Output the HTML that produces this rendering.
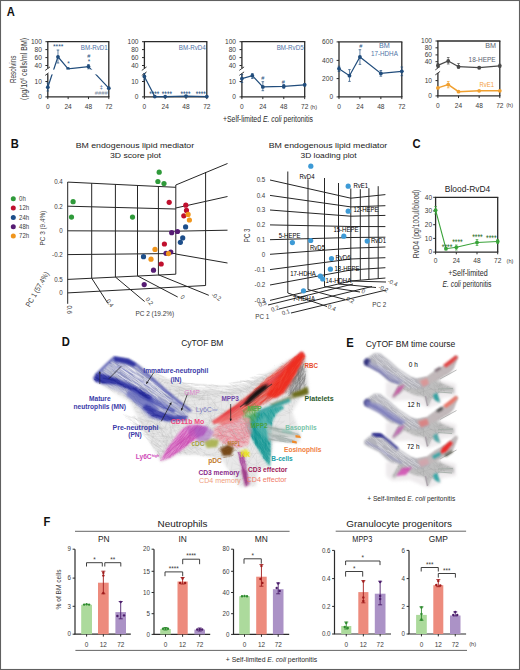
<!DOCTYPE html>
<html><head><meta charset="utf-8"><style>
html,body{margin:0;padding:0;background:#fff;}
body{width:520px;height:670px;overflow:hidden;position:relative;}
svg{position:absolute;left:0;top:0;font-family:"Liberation Sans", sans-serif;}
</style></head><body>
<svg width="520" height="670" viewBox="0 0 520 670">
<defs>
<filter id="b1" x="-20%" y="-20%" width="140%" height="140%"><feGaussianBlur stdDeviation="0.9"/></filter>
<filter id="b2" x="-20%" y="-20%" width="140%" height="140%"><feGaussianBlur stdDeviation="1.6"/></filter>
<filter id="b3" x="-20%" y="-20%" width="140%" height="140%"><feGaussianBlur stdDeviation="2.2"/></filter>
</defs>
<rect x="0" y="0" width="520" height="670" fill="#fff"/>
<text x="6.80" y="16.20" font-size="11.87" fill="#111" font-weight="bold" textLength="8.09" lengthAdjust="spacingAndGlyphs">A</text><text x="10.80" y="148.00" font-size="11.87" fill="#111" font-weight="bold" textLength="8.09" lengthAdjust="spacingAndGlyphs">B</text><text x="412.50" y="148.30" font-size="11.87" fill="#111" font-weight="bold" textLength="8.09" lengthAdjust="spacingAndGlyphs">C</text><text x="61.80" y="346.30" font-size="11.87" fill="#111" font-weight="bold" textLength="8.09" lengthAdjust="spacingAndGlyphs">D</text><text x="346.20" y="346.90" font-size="11.87" fill="#111" font-weight="bold" textLength="7.47" lengthAdjust="spacingAndGlyphs">E</text><text x="43.60" y="526.40" font-size="11.87" fill="#111" font-weight="bold" textLength="6.84" lengthAdjust="spacingAndGlyphs">F</text><line x1="47.80" y1="41.70" x2="47.80" y2="68.50" stroke="#2b2b2b" stroke-width="1.3"/><line x1="47.80" y1="73.50" x2="47.80" y2="96.90" stroke="#2b2b2b" stroke-width="1.3"/><line x1="45.20" y1="70.40" x2="50.00" y2="66.90" stroke="#2b2b2b" stroke-width="0.9"/><line x1="45.20" y1="75.40" x2="50.00" y2="71.90" stroke="#2b2b2b" stroke-width="0.9"/><line x1="47.20" y1="41.70" x2="109.40" y2="41.70" stroke="#2b2b2b" stroke-width="1.3"/><line x1="108.80" y1="41.70" x2="108.80" y2="96.90" stroke="#2b2b2b" stroke-width="1.3"/><line x1="47.20" y1="96.90" x2="109.40" y2="96.90" stroke="#2b2b2b" stroke-width="1.3"/><line x1="45.40" y1="41.70" x2="47.80" y2="41.70" stroke="#2b2b2b" stroke-width="1"/><text x="41.90" y="44.00" font-size="7.0" text-anchor="end" fill="#3a3a3a" textLength="11.01" lengthAdjust="spacingAndGlyphs">100</text><line x1="45.40" y1="49.60" x2="47.80" y2="49.60" stroke="#2b2b2b" stroke-width="1"/><text x="41.90" y="51.90" font-size="7.0" text-anchor="end" fill="#3a3a3a" textLength="7.34" lengthAdjust="spacingAndGlyphs">80</text><line x1="45.40" y1="57.60" x2="47.80" y2="57.60" stroke="#2b2b2b" stroke-width="1"/><text x="41.90" y="59.90" font-size="7.0" text-anchor="end" fill="#3a3a3a" textLength="7.34" lengthAdjust="spacingAndGlyphs">60</text><line x1="45.40" y1="65.50" x2="47.80" y2="65.50" stroke="#2b2b2b" stroke-width="1"/><text x="41.90" y="67.80" font-size="7.0" text-anchor="end" fill="#3a3a3a" textLength="7.34" lengthAdjust="spacingAndGlyphs">40</text><line x1="45.40" y1="81.50" x2="47.80" y2="81.50" stroke="#2b2b2b" stroke-width="1"/><text x="41.90" y="83.80" font-size="7.0" text-anchor="end" fill="#3a3a3a" textLength="7.34" lengthAdjust="spacingAndGlyphs">10</text><line x1="45.40" y1="96.90" x2="47.80" y2="96.90" stroke="#2b2b2b" stroke-width="1"/><text x="41.90" y="99.20" font-size="7.0" text-anchor="end" fill="#3a3a3a" textLength="3.67" lengthAdjust="spacingAndGlyphs">0</text><line x1="47.80" y1="96.90" x2="47.80" y2="99.10" stroke="#2b2b2b" stroke-width="1"/><text x="47.80" y="109.30" font-size="7.0" text-anchor="middle" fill="#3a3a3a" textLength="3.67" lengthAdjust="spacingAndGlyphs">0</text><line x1="68.13" y1="96.90" x2="68.13" y2="99.10" stroke="#2b2b2b" stroke-width="1"/><text x="68.13" y="109.30" font-size="7.0" text-anchor="middle" fill="#3a3a3a" textLength="7.34" lengthAdjust="spacingAndGlyphs">24</text><line x1="88.47" y1="96.90" x2="88.47" y2="99.10" stroke="#2b2b2b" stroke-width="1"/><text x="88.47" y="109.30" font-size="7.0" text-anchor="middle" fill="#3a3a3a" textLength="7.34" lengthAdjust="spacingAndGlyphs">48</text><line x1="108.80" y1="96.90" x2="108.80" y2="99.10" stroke="#2b2b2b" stroke-width="1"/><text x="108.80" y="109.30" font-size="7.0" text-anchor="middle" fill="#3a3a3a" textLength="7.34" lengthAdjust="spacingAndGlyphs">72</text><polyline points="47.80,87.20 57.97,56.80 68.13,68.90 88.47,66.60 108.80,88.20" stroke="#214d7c" stroke-width="1.2" fill="none" /><circle cx="47.80" cy="87.20" r="1.9" fill="#214d7c" /><circle cx="57.97" cy="56.80" r="1.9" fill="#214d7c" /><circle cx="68.13" cy="68.90" r="1.9" fill="#214d7c" /><circle cx="88.47" cy="66.60" r="1.9" fill="#214d7c" /><circle cx="108.80" cy="88.20" r="1.9" fill="#214d7c" /><line x1="47.80" y1="83.00" x2="47.80" y2="91.00" stroke="#214d7c" stroke-width="0.7"/><line x1="46.50" y1="83.00" x2="49.10" y2="83.00" stroke="#214d7c" stroke-width="0.7"/><line x1="46.50" y1="91.00" x2="49.10" y2="91.00" stroke="#214d7c" stroke-width="0.7"/><line x1="57.97" y1="50.00" x2="57.97" y2="63.00" stroke="#214d7c" stroke-width="0.7"/><line x1="56.67" y1="50.00" x2="59.27" y2="50.00" stroke="#214d7c" stroke-width="0.7"/><line x1="56.67" y1="63.00" x2="59.27" y2="63.00" stroke="#214d7c" stroke-width="0.7"/><line x1="88.47" y1="64.50" x2="88.47" y2="69.00" stroke="#214d7c" stroke-width="0.7"/><line x1="87.17" y1="64.50" x2="89.77" y2="64.50" stroke="#214d7c" stroke-width="0.7"/><line x1="87.17" y1="69.00" x2="89.77" y2="69.00" stroke="#214d7c" stroke-width="0.7"/><rect x="48.60" y="69.60" width="59.40" height="4.80" fill="#fff" /><text x="107.80" y="49.60" font-size="7.63" text-anchor="end" fill="#4f74a6" textLength="27" lengthAdjust="spacingAndGlyphs">BM-RvD1</text><text x="58.20" y="49.40" font-size="7.84" text-anchor="middle" fill="#214d7c" textLength="10.5" lengthAdjust="spacingAndGlyphs">****</text><text x="68.50" y="65.50" font-size="6.78" text-anchor="middle" fill="#214d7c" textLength="2.49" lengthAdjust="spacingAndGlyphs">*</text><text x="88.90" y="58.40" font-size="5.94" text-anchor="middle" fill="#214d7c" textLength="3.11" lengthAdjust="spacingAndGlyphs">#</text><text x="88.90" y="63.60" font-size="6.78" text-anchor="middle" fill="#214d7c" textLength="2.49" lengthAdjust="spacingAndGlyphs">*</text><text x="101.40" y="88.60" font-size="5.94" text-anchor="middle" fill="#214d7c" textLength="3.11" lengthAdjust="spacingAndGlyphs">‡</text><text x="101.20" y="95.20" font-size="5.72" text-anchor="middle" fill="#7a8aa0" textLength="13" lengthAdjust="spacingAndGlyphs">####</text><line x1="144.40" y1="41.70" x2="144.40" y2="68.50" stroke="#2b2b2b" stroke-width="1.3"/><line x1="144.40" y1="73.50" x2="144.40" y2="96.90" stroke="#2b2b2b" stroke-width="1.3"/><line x1="141.80" y1="70.40" x2="146.60" y2="66.90" stroke="#2b2b2b" stroke-width="0.9"/><line x1="141.80" y1="75.40" x2="146.60" y2="71.90" stroke="#2b2b2b" stroke-width="0.9"/><line x1="143.80" y1="41.70" x2="207.40" y2="41.70" stroke="#2b2b2b" stroke-width="1.3"/><line x1="206.80" y1="41.70" x2="206.80" y2="96.90" stroke="#2b2b2b" stroke-width="1.3"/><line x1="143.80" y1="96.90" x2="207.40" y2="96.90" stroke="#2b2b2b" stroke-width="1.3"/><line x1="142.00" y1="41.70" x2="144.40" y2="41.70" stroke="#2b2b2b" stroke-width="1"/><text x="138.50" y="44.00" font-size="7.0" text-anchor="end" fill="#3a3a3a" textLength="11.01" lengthAdjust="spacingAndGlyphs">100</text><line x1="142.00" y1="49.60" x2="144.40" y2="49.60" stroke="#2b2b2b" stroke-width="1"/><text x="138.50" y="51.90" font-size="7.0" text-anchor="end" fill="#3a3a3a" textLength="7.34" lengthAdjust="spacingAndGlyphs">80</text><line x1="142.00" y1="57.60" x2="144.40" y2="57.60" stroke="#2b2b2b" stroke-width="1"/><text x="138.50" y="59.90" font-size="7.0" text-anchor="end" fill="#3a3a3a" textLength="7.34" lengthAdjust="spacingAndGlyphs">60</text><line x1="142.00" y1="65.50" x2="144.40" y2="65.50" stroke="#2b2b2b" stroke-width="1"/><text x="138.50" y="67.80" font-size="7.0" text-anchor="end" fill="#3a3a3a" textLength="7.34" lengthAdjust="spacingAndGlyphs">40</text><line x1="142.00" y1="81.50" x2="144.40" y2="81.50" stroke="#2b2b2b" stroke-width="1"/><text x="138.50" y="83.80" font-size="7.0" text-anchor="end" fill="#3a3a3a" textLength="7.34" lengthAdjust="spacingAndGlyphs">10</text><line x1="142.00" y1="96.90" x2="144.40" y2="96.90" stroke="#2b2b2b" stroke-width="1"/><text x="138.50" y="99.20" font-size="7.0" text-anchor="end" fill="#3a3a3a" textLength="3.67" lengthAdjust="spacingAndGlyphs">0</text><line x1="144.40" y1="96.90" x2="144.40" y2="99.10" stroke="#2b2b2b" stroke-width="1"/><text x="144.40" y="109.30" font-size="7.0" text-anchor="middle" fill="#3a3a3a" textLength="3.67" lengthAdjust="spacingAndGlyphs">0</text><line x1="165.20" y1="96.90" x2="165.20" y2="99.10" stroke="#2b2b2b" stroke-width="1"/><text x="165.20" y="109.30" font-size="7.0" text-anchor="middle" fill="#3a3a3a" textLength="7.34" lengthAdjust="spacingAndGlyphs">24</text><line x1="186.00" y1="96.90" x2="186.00" y2="99.10" stroke="#2b2b2b" stroke-width="1"/><text x="186.00" y="109.30" font-size="7.0" text-anchor="middle" fill="#3a3a3a" textLength="7.34" lengthAdjust="spacingAndGlyphs">48</text><line x1="206.80" y1="96.90" x2="206.80" y2="99.10" stroke="#2b2b2b" stroke-width="1"/><text x="206.80" y="109.30" font-size="7.0" text-anchor="middle" fill="#3a3a3a" textLength="7.34" lengthAdjust="spacingAndGlyphs">72</text><polyline points="144.40,76.50 154.80,96.60 165.20,96.60 186.00,96.10 206.80,96.60" stroke="#214d7c" stroke-width="1.2" fill="none" /><circle cx="144.40" cy="76.50" r="1.9" fill="#214d7c" /><circle cx="154.80" cy="96.60" r="1.9" fill="#214d7c" /><circle cx="165.20" cy="96.60" r="1.9" fill="#214d7c" /><circle cx="186.00" cy="96.10" r="1.9" fill="#214d7c" /><circle cx="206.80" cy="96.60" r="1.9" fill="#214d7c" /><line x1="144.40" y1="73.50" x2="144.40" y2="80.00" stroke="#214d7c" stroke-width="0.7"/><line x1="143.10" y1="73.50" x2="145.70" y2="73.50" stroke="#214d7c" stroke-width="0.7"/><line x1="143.10" y1="80.00" x2="145.70" y2="80.00" stroke="#214d7c" stroke-width="0.7"/><text x="205.80" y="49.60" font-size="7.63" text-anchor="end" fill="#4f74a6" textLength="27" lengthAdjust="spacingAndGlyphs">BM-RvD4</text><text x="154.30" y="96.60" font-size="8.9" text-anchor="middle" fill="#214d7c" textLength="10.2" lengthAdjust="spacingAndGlyphs">****</text><text x="166.90" y="96.60" font-size="8.9" text-anchor="middle" fill="#214d7c" textLength="10.2" lengthAdjust="spacingAndGlyphs">****</text><text x="185.50" y="96.60" font-size="8.9" text-anchor="middle" fill="#214d7c" textLength="10.2" lengthAdjust="spacingAndGlyphs">****</text><text x="200.80" y="96.60" font-size="8.9" text-anchor="middle" fill="#214d7c" textLength="10.2" lengthAdjust="spacingAndGlyphs">****</text><line x1="241.90" y1="41.70" x2="241.90" y2="68.50" stroke="#2b2b2b" stroke-width="1.3"/><line x1="241.90" y1="73.50" x2="241.90" y2="96.90" stroke="#2b2b2b" stroke-width="1.3"/><line x1="239.30" y1="70.40" x2="244.10" y2="66.90" stroke="#2b2b2b" stroke-width="0.9"/><line x1="239.30" y1="75.40" x2="244.10" y2="71.90" stroke="#2b2b2b" stroke-width="0.9"/><line x1="241.30" y1="41.70" x2="305.30" y2="41.70" stroke="#2b2b2b" stroke-width="1.3"/><line x1="304.70" y1="41.70" x2="304.70" y2="96.90" stroke="#2b2b2b" stroke-width="1.3"/><line x1="241.30" y1="96.90" x2="305.30" y2="96.90" stroke="#2b2b2b" stroke-width="1.3"/><line x1="239.50" y1="41.70" x2="241.90" y2="41.70" stroke="#2b2b2b" stroke-width="1"/><text x="236.00" y="44.00" font-size="7.0" text-anchor="end" fill="#3a3a3a" textLength="11.01" lengthAdjust="spacingAndGlyphs">100</text><line x1="239.50" y1="49.60" x2="241.90" y2="49.60" stroke="#2b2b2b" stroke-width="1"/><text x="236.00" y="51.90" font-size="7.0" text-anchor="end" fill="#3a3a3a" textLength="7.34" lengthAdjust="spacingAndGlyphs">80</text><line x1="239.50" y1="57.60" x2="241.90" y2="57.60" stroke="#2b2b2b" stroke-width="1"/><text x="236.00" y="59.90" font-size="7.0" text-anchor="end" fill="#3a3a3a" textLength="7.34" lengthAdjust="spacingAndGlyphs">60</text><line x1="239.50" y1="65.50" x2="241.90" y2="65.50" stroke="#2b2b2b" stroke-width="1"/><text x="236.00" y="67.80" font-size="7.0" text-anchor="end" fill="#3a3a3a" textLength="7.34" lengthAdjust="spacingAndGlyphs">40</text><line x1="239.50" y1="81.50" x2="241.90" y2="81.50" stroke="#2b2b2b" stroke-width="1"/><text x="236.00" y="83.80" font-size="7.0" text-anchor="end" fill="#3a3a3a" textLength="7.34" lengthAdjust="spacingAndGlyphs">10</text><line x1="239.50" y1="96.90" x2="241.90" y2="96.90" stroke="#2b2b2b" stroke-width="1"/><text x="236.00" y="99.20" font-size="7.0" text-anchor="end" fill="#3a3a3a" textLength="3.67" lengthAdjust="spacingAndGlyphs">0</text><line x1="241.90" y1="96.90" x2="241.90" y2="99.10" stroke="#2b2b2b" stroke-width="1"/><text x="241.90" y="109.30" font-size="7.0" text-anchor="middle" fill="#3a3a3a" textLength="3.67" lengthAdjust="spacingAndGlyphs">0</text><line x1="262.83" y1="96.90" x2="262.83" y2="99.10" stroke="#2b2b2b" stroke-width="1"/><text x="262.83" y="109.30" font-size="7.0" text-anchor="middle" fill="#3a3a3a" textLength="7.34" lengthAdjust="spacingAndGlyphs">24</text><line x1="283.77" y1="96.90" x2="283.77" y2="99.10" stroke="#2b2b2b" stroke-width="1"/><text x="283.77" y="109.30" font-size="7.0" text-anchor="middle" fill="#3a3a3a" textLength="7.34" lengthAdjust="spacingAndGlyphs">48</text><line x1="304.70" y1="96.90" x2="304.70" y2="99.10" stroke="#2b2b2b" stroke-width="1"/><text x="304.70" y="109.30" font-size="7.0" text-anchor="middle" fill="#3a3a3a" textLength="7.34" lengthAdjust="spacingAndGlyphs">72</text><polyline points="241.90,78.60 252.37,75.70 262.83,86.90 283.77,86.40 304.70,84.80" stroke="#214d7c" stroke-width="1.2" fill="none" /><circle cx="241.90" cy="78.60" r="1.9" fill="#214d7c" /><circle cx="252.37" cy="75.70" r="1.9" fill="#214d7c" /><circle cx="262.83" cy="86.90" r="1.9" fill="#214d7c" /><circle cx="283.77" cy="86.40" r="1.9" fill="#214d7c" /><circle cx="304.70" cy="84.80" r="1.9" fill="#214d7c" /><line x1="241.90" y1="74.50" x2="241.90" y2="82.50" stroke="#214d7c" stroke-width="0.7"/><line x1="240.60" y1="74.50" x2="243.20" y2="74.50" stroke="#214d7c" stroke-width="0.7"/><line x1="240.60" y1="82.50" x2="243.20" y2="82.50" stroke="#214d7c" stroke-width="0.7"/><line x1="252.37" y1="73.50" x2="252.37" y2="78.50" stroke="#214d7c" stroke-width="0.7"/><line x1="251.07" y1="73.50" x2="253.67" y2="73.50" stroke="#214d7c" stroke-width="0.7"/><line x1="251.07" y1="78.50" x2="253.67" y2="78.50" stroke="#214d7c" stroke-width="0.7"/><line x1="262.83" y1="81.70" x2="262.83" y2="90.70" stroke="#214d7c" stroke-width="0.7"/><line x1="261.53" y1="81.70" x2="264.13" y2="81.70" stroke="#214d7c" stroke-width="0.7"/><line x1="261.53" y1="90.70" x2="264.13" y2="90.70" stroke="#214d7c" stroke-width="0.7"/><line x1="283.77" y1="84.50" x2="283.77" y2="88.30" stroke="#214d7c" stroke-width="0.7"/><line x1="282.47" y1="84.50" x2="285.07" y2="84.50" stroke="#214d7c" stroke-width="0.7"/><line x1="282.47" y1="88.30" x2="285.07" y2="88.30" stroke="#214d7c" stroke-width="0.7"/><line x1="304.70" y1="83.50" x2="304.70" y2="86.00" stroke="#214d7c" stroke-width="0.7"/><line x1="303.40" y1="83.50" x2="306.00" y2="83.50" stroke="#214d7c" stroke-width="0.7"/><line x1="303.40" y1="86.00" x2="306.00" y2="86.00" stroke="#214d7c" stroke-width="0.7"/><text x="303.70" y="49.60" font-size="7.63" text-anchor="end" fill="#4f74a6" textLength="27" lengthAdjust="spacingAndGlyphs">BM-RvD5</text><text x="262.70" y="79.60" font-size="5.94" text-anchor="middle" fill="#214d7c" textLength="3.11" lengthAdjust="spacingAndGlyphs">#</text><text x="283.40" y="83.50" font-size="5.94" text-anchor="middle" fill="#214d7c" textLength="3.11" lengthAdjust="spacingAndGlyphs">#</text><text x="313.60" y="108.60" font-size="5.94" text-anchor="middle" fill="#3a3a3a" textLength="6.84" lengthAdjust="spacingAndGlyphs">(h)</text><text x="223.00" y="122.40" font-size="8.9" fill="#2a2a2a" textLength="90" lengthAdjust="spacingAndGlyphs">+Self-limited <tspan font-style="italic">E. coli</tspan> peritonitis</text><line x1="339.00" y1="41.90" x2="339.00" y2="96.90" stroke="#2b2b2b" stroke-width="1.3"/><line x1="338.40" y1="41.90" x2="402.40" y2="41.90" stroke="#2b2b2b" stroke-width="1.3"/><line x1="401.80" y1="41.90" x2="401.80" y2="96.90" stroke="#2b2b2b" stroke-width="1.3"/><line x1="338.40" y1="96.90" x2="402.40" y2="96.90" stroke="#2b2b2b" stroke-width="1.3"/><line x1="336.60" y1="41.90" x2="339.00" y2="41.90" stroke="#2b2b2b" stroke-width="1"/><text x="333.10" y="44.20" font-size="7.0" text-anchor="end" fill="#3a3a3a" textLength="11.01" lengthAdjust="spacingAndGlyphs">600</text><line x1="336.60" y1="60.40" x2="339.00" y2="60.40" stroke="#2b2b2b" stroke-width="1"/><text x="333.10" y="62.70" font-size="7.0" text-anchor="end" fill="#3a3a3a" textLength="11.01" lengthAdjust="spacingAndGlyphs">400</text><line x1="336.60" y1="78.60" x2="339.00" y2="78.60" stroke="#2b2b2b" stroke-width="1"/><text x="333.10" y="80.90" font-size="7.0" text-anchor="end" fill="#3a3a3a" textLength="11.01" lengthAdjust="spacingAndGlyphs">200</text><line x1="336.60" y1="96.90" x2="339.00" y2="96.90" stroke="#2b2b2b" stroke-width="1"/><text x="333.10" y="99.20" font-size="7.0" text-anchor="end" fill="#3a3a3a" textLength="3.67" lengthAdjust="spacingAndGlyphs">0</text><line x1="339.00" y1="96.90" x2="339.00" y2="99.10" stroke="#2b2b2b" stroke-width="1"/><text x="339.00" y="109.30" font-size="7.0" text-anchor="middle" fill="#3a3a3a" textLength="3.67" lengthAdjust="spacingAndGlyphs">0</text><line x1="359.93" y1="96.90" x2="359.93" y2="99.10" stroke="#2b2b2b" stroke-width="1"/><text x="359.93" y="109.30" font-size="7.0" text-anchor="middle" fill="#3a3a3a" textLength="7.34" lengthAdjust="spacingAndGlyphs">24</text><line x1="380.87" y1="96.90" x2="380.87" y2="99.10" stroke="#2b2b2b" stroke-width="1"/><text x="380.87" y="109.30" font-size="7.0" text-anchor="middle" fill="#3a3a3a" textLength="7.34" lengthAdjust="spacingAndGlyphs">48</text><line x1="401.80" y1="96.90" x2="401.80" y2="99.10" stroke="#2b2b2b" stroke-width="1"/><text x="401.80" y="109.30" font-size="7.0" text-anchor="middle" fill="#3a3a3a" textLength="7.34" lengthAdjust="spacingAndGlyphs">72</text><polyline points="339.00,68.70 349.47,75.70 359.93,57.00 380.87,73.40 401.80,71.30" stroke="#214d7c" stroke-width="1.2" fill="none" /><circle cx="339.00" cy="68.70" r="1.9" fill="#214d7c" /><circle cx="349.47" cy="75.70" r="1.9" fill="#214d7c" /><circle cx="359.93" cy="57.00" r="1.9" fill="#214d7c" /><circle cx="380.87" cy="73.40" r="1.9" fill="#214d7c" /><circle cx="401.80" cy="71.30" r="1.9" fill="#214d7c" /><line x1="339.00" y1="66.20" x2="339.00" y2="71.50" stroke="#214d7c" stroke-width="0.7"/><line x1="337.70" y1="66.20" x2="340.30" y2="66.20" stroke="#214d7c" stroke-width="0.7"/><line x1="337.70" y1="71.50" x2="340.30" y2="71.50" stroke="#214d7c" stroke-width="0.7"/><line x1="349.47" y1="69.60" x2="349.47" y2="81.40" stroke="#214d7c" stroke-width="0.7"/><line x1="348.17" y1="69.60" x2="350.77" y2="69.60" stroke="#214d7c" stroke-width="0.7"/><line x1="348.17" y1="81.40" x2="350.77" y2="81.40" stroke="#214d7c" stroke-width="0.7"/><line x1="359.93" y1="49.70" x2="359.93" y2="64.40" stroke="#214d7c" stroke-width="0.7"/><line x1="358.63" y1="49.70" x2="361.23" y2="49.70" stroke="#214d7c" stroke-width="0.7"/><line x1="358.63" y1="64.40" x2="361.23" y2="64.40" stroke="#214d7c" stroke-width="0.7"/><line x1="380.87" y1="70.50" x2="380.87" y2="76.20" stroke="#214d7c" stroke-width="0.7"/><line x1="379.57" y1="70.50" x2="382.17" y2="70.50" stroke="#214d7c" stroke-width="0.7"/><line x1="379.57" y1="76.20" x2="382.17" y2="76.20" stroke="#214d7c" stroke-width="0.7"/><line x1="401.80" y1="67.00" x2="401.80" y2="75.70" stroke="#214d7c" stroke-width="0.7"/><line x1="400.50" y1="67.00" x2="403.10" y2="67.00" stroke="#214d7c" stroke-width="0.7"/><line x1="400.50" y1="75.70" x2="403.10" y2="75.70" stroke="#214d7c" stroke-width="0.7"/><text x="384.40" y="48.40" font-size="7.63" text-anchor="middle" fill="#4f74a6" textLength="10.8" lengthAdjust="spacingAndGlyphs">BM</text><text x="384.40" y="56.40" font-size="7.63" text-anchor="middle" fill="#4f74a6" textLength="27" lengthAdjust="spacingAndGlyphs">17-HDHA</text><text x="360.70" y="47.60" font-size="5.94" text-anchor="middle" fill="#214d7c" textLength="3.11" lengthAdjust="spacingAndGlyphs">#</text><line x1="437.90" y1="41.00" x2="437.90" y2="68.00" stroke="#2b2b2b" stroke-width="1.3"/><line x1="437.90" y1="73.00" x2="437.90" y2="95.90" stroke="#2b2b2b" stroke-width="1.3"/><line x1="435.30" y1="69.90" x2="440.10" y2="66.40" stroke="#2b2b2b" stroke-width="0.9"/><line x1="435.30" y1="74.90" x2="440.10" y2="71.40" stroke="#2b2b2b" stroke-width="0.9"/><line x1="437.30" y1="41.00" x2="500.40" y2="41.00" stroke="#2b2b2b" stroke-width="1.3"/><line x1="499.80" y1="41.00" x2="499.80" y2="95.90" stroke="#2b2b2b" stroke-width="1.3"/><line x1="437.30" y1="95.90" x2="500.40" y2="95.90" stroke="#2b2b2b" stroke-width="1.3"/><line x1="435.50" y1="41.00" x2="437.90" y2="41.00" stroke="#2b2b2b" stroke-width="1"/><text x="432.00" y="43.30" font-size="7.0" text-anchor="end" fill="#3a3a3a" textLength="11.01" lengthAdjust="spacingAndGlyphs">100</text><line x1="435.50" y1="47.80" x2="437.90" y2="47.80" stroke="#2b2b2b" stroke-width="1"/><text x="432.00" y="50.10" font-size="7.0" text-anchor="end" fill="#3a3a3a" textLength="7.34" lengthAdjust="spacingAndGlyphs">80</text><line x1="435.50" y1="54.90" x2="437.90" y2="54.90" stroke="#2b2b2b" stroke-width="1"/><text x="432.00" y="57.20" font-size="7.0" text-anchor="end" fill="#3a3a3a" textLength="7.34" lengthAdjust="spacingAndGlyphs">60</text><line x1="435.50" y1="61.70" x2="437.90" y2="61.70" stroke="#2b2b2b" stroke-width="1"/><text x="432.00" y="64.00" font-size="7.0" text-anchor="end" fill="#3a3a3a" textLength="7.34" lengthAdjust="spacingAndGlyphs">40</text><line x1="435.50" y1="80.60" x2="437.90" y2="80.60" stroke="#2b2b2b" stroke-width="1"/><text x="432.00" y="82.90" font-size="7.0" text-anchor="end" fill="#3a3a3a" textLength="7.34" lengthAdjust="spacingAndGlyphs">10</text><line x1="435.50" y1="95.90" x2="437.90" y2="95.90" stroke="#2b2b2b" stroke-width="1"/><text x="432.00" y="98.20" font-size="7.0" text-anchor="end" fill="#3a3a3a" textLength="3.67" lengthAdjust="spacingAndGlyphs">0</text><line x1="437.90" y1="95.90" x2="437.90" y2="98.10" stroke="#2b2b2b" stroke-width="1"/><text x="437.90" y="108.00" font-size="7.0" text-anchor="middle" fill="#3a3a3a" textLength="3.67" lengthAdjust="spacingAndGlyphs">0</text><line x1="458.53" y1="95.90" x2="458.53" y2="98.10" stroke="#2b2b2b" stroke-width="1"/><text x="458.53" y="108.00" font-size="7.0" text-anchor="middle" fill="#3a3a3a" textLength="7.34" lengthAdjust="spacingAndGlyphs">24</text><line x1="479.17" y1="95.90" x2="479.17" y2="98.10" stroke="#2b2b2b" stroke-width="1"/><text x="479.17" y="108.00" font-size="7.0" text-anchor="middle" fill="#3a3a3a" textLength="7.34" lengthAdjust="spacingAndGlyphs">48</text><line x1="499.80" y1="95.90" x2="499.80" y2="98.10" stroke="#2b2b2b" stroke-width="1"/><text x="499.80" y="108.00" font-size="7.0" text-anchor="middle" fill="#3a3a3a" textLength="7.34" lengthAdjust="spacingAndGlyphs">72</text><polyline points="437.90,65.40 448.22,61.00 458.53,66.70 479.17,67.70 499.80,65.80" stroke="#4a4a4a" stroke-width="1.2" fill="none" /><circle cx="437.90" cy="65.40" r="1.9" fill="#4a4a4a" /><circle cx="448.22" cy="61.00" r="1.9" fill="#4a4a4a" /><circle cx="458.53" cy="66.70" r="1.9" fill="#4a4a4a" /><circle cx="479.17" cy="67.70" r="1.9" fill="#4a4a4a" /><circle cx="499.80" cy="65.80" r="1.9" fill="#4a4a4a" /><line x1="437.90" y1="63.50" x2="437.90" y2="67.50" stroke="#4a4a4a" stroke-width="0.7"/><line x1="436.60" y1="63.50" x2="439.20" y2="63.50" stroke="#4a4a4a" stroke-width="0.7"/><line x1="436.60" y1="67.50" x2="439.20" y2="67.50" stroke="#4a4a4a" stroke-width="0.7"/><line x1="448.22" y1="57.50" x2="448.22" y2="64.00" stroke="#4a4a4a" stroke-width="0.7"/><line x1="446.92" y1="57.50" x2="449.52" y2="57.50" stroke="#4a4a4a" stroke-width="0.7"/><line x1="446.92" y1="64.00" x2="449.52" y2="64.00" stroke="#4a4a4a" stroke-width="0.7"/><line x1="458.53" y1="63.50" x2="458.53" y2="68.50" stroke="#4a4a4a" stroke-width="0.7"/><line x1="457.23" y1="63.50" x2="459.83" y2="63.50" stroke="#4a4a4a" stroke-width="0.7"/><line x1="457.23" y1="68.50" x2="459.83" y2="68.50" stroke="#4a4a4a" stroke-width="0.7"/><line x1="479.17" y1="66.50" x2="479.17" y2="69.00" stroke="#4a4a4a" stroke-width="0.7"/><line x1="477.87" y1="66.50" x2="480.47" y2="66.50" stroke="#4a4a4a" stroke-width="0.7"/><line x1="477.87" y1="69.00" x2="480.47" y2="69.00" stroke="#4a4a4a" stroke-width="0.7"/><line x1="499.80" y1="64.20" x2="499.80" y2="67.50" stroke="#4a4a4a" stroke-width="0.7"/><line x1="498.50" y1="64.20" x2="501.10" y2="64.20" stroke="#4a4a4a" stroke-width="0.7"/><line x1="498.50" y1="67.50" x2="501.10" y2="67.50" stroke="#4a4a4a" stroke-width="0.7"/><polyline points="437.90,87.90 448.22,84.60 458.53,91.70 479.17,90.80 499.80,90.80" stroke="#f0a030" stroke-width="1.4" fill="none" /><circle cx="437.90" cy="87.90" r="1.9" fill="#f0a030" /><circle cx="448.22" cy="84.60" r="1.9" fill="#f0a030" /><circle cx="458.53" cy="91.70" r="1.9" fill="#f0a030" /><circle cx="479.17" cy="90.80" r="1.9" fill="#f0a030" /><circle cx="499.80" cy="90.80" r="1.9" fill="#f0a030" /><line x1="448.22" y1="81.50" x2="448.22" y2="87.80" stroke="#f0a030" stroke-width="0.7"/><line x1="446.92" y1="81.50" x2="449.52" y2="81.50" stroke="#f0a030" stroke-width="0.7"/><line x1="446.92" y1="87.80" x2="449.52" y2="87.80" stroke="#f0a030" stroke-width="0.7"/><text x="496.00" y="48.20" font-size="7.63" text-anchor="end" fill="#5a6270" textLength="10.8" lengthAdjust="spacingAndGlyphs">BM</text><text x="495.60" y="61.60" font-size="7.63" text-anchor="end" fill="#5a6270" textLength="27" lengthAdjust="spacingAndGlyphs">18-HEPE</text><text x="494.00" y="87.20" font-size="7.63" text-anchor="end" fill="#f4a040" textLength="14.5" lengthAdjust="spacingAndGlyphs">RvE1</text><text x="509.60" y="107.30" font-size="5.94" text-anchor="middle" fill="#3a3a3a" textLength="6.84" lengthAdjust="spacingAndGlyphs">(h)</text><text x="15.60" y="69.30" font-size="8.9" text-anchor="middle" fill="#3a3a3a" textLength="27.5" lengthAdjust="spacingAndGlyphs" transform="rotate(-90 15.60 69.30)">Resolvins</text><text x="26.90" y="68.90" font-size="8.69" text-anchor="middle" fill="#3a3a3a" textLength="62" lengthAdjust="spacingAndGlyphs" transform="rotate(-90 26.90 68.90)">(pg/10<tspan font-size="5" dy="-2.8">6</tspan><tspan dy="2.8"> cells/ml BM)</tspan></text><text x="134.90" y="148.10" font-size="8.06" text-anchor="middle" fill="#222" textLength="118.5" lengthAdjust="spacingAndGlyphs">BM endogenous lipid mediator</text><text x="135.50" y="158.20" font-size="8.06" text-anchor="middle" fill="#222" textLength="51" lengthAdjust="spacingAndGlyphs">3D score plot</text><line x1="67.70" y1="182.00" x2="67.70" y2="303.80" stroke="#262626" stroke-width="1.0"/><line x1="91.70" y1="183.20" x2="91.70" y2="278.20" stroke="#262626" stroke-width="1.0"/><line x1="115.40" y1="184.30" x2="115.40" y2="277.00" stroke="#262626" stroke-width="1.0"/><line x1="137.50" y1="185.40" x2="137.50" y2="275.90" stroke="#262626" stroke-width="1.0"/><line x1="158.40" y1="186.30" x2="158.40" y2="274.60" stroke="#262626" stroke-width="1.0"/><line x1="175.80" y1="185.00" x2="175.80" y2="274.20" stroke="#262626" stroke-width="1.0"/><line x1="67.70" y1="182.10" x2="175.80" y2="187.30" stroke="#262626" stroke-width="1.0"/><line x1="67.70" y1="206.20" x2="175.80" y2="209.00" stroke="#262626" stroke-width="1.0"/><line x1="67.70" y1="230.80" x2="175.80" y2="231.20" stroke="#262626" stroke-width="1.0"/><line x1="67.70" y1="254.60" x2="175.80" y2="253.50" stroke="#262626" stroke-width="1.0"/><line x1="67.70" y1="279.40" x2="175.80" y2="274.20" stroke="#262626" stroke-width="1.0"/><line x1="175.80" y1="185.00" x2="227.50" y2="163.50" stroke="#262626" stroke-width="1.0"/><line x1="175.80" y1="208.00" x2="227.50" y2="196.50" stroke="#262626" stroke-width="1.0"/><line x1="175.80" y1="231.20" x2="227.50" y2="230.20" stroke="#262626" stroke-width="1.0"/><line x1="175.80" y1="254.00" x2="227.50" y2="263.00" stroke="#262626" stroke-width="1.0"/><line x1="205.60" y1="172.00" x2="205.60" y2="285.50" stroke="#262626" stroke-width="1.0"/><line x1="67.70" y1="292.90" x2="205.60" y2="285.50" stroke="#262626" stroke-width="1.0"/><line x1="91.70" y1="278.20" x2="108.00" y2="303.50" stroke="#262626" stroke-width="1.0"/><line x1="115.40" y1="277.00" x2="144.60" y2="301.50" stroke="#262626" stroke-width="1.0"/><line x1="137.50" y1="275.90" x2="177.70" y2="297.00" stroke="#262626" stroke-width="1.0"/><line x1="158.00" y1="274.60" x2="208.80" y2="295.30" stroke="#262626" stroke-width="1.0"/><text x="62.80" y="184.30" font-size="6.57" text-anchor="end" fill="#3a3a3a" textLength="8.62" lengthAdjust="spacingAndGlyphs">0.4</text><text x="62.80" y="208.90" font-size="6.57" text-anchor="end" fill="#3a3a3a" textLength="8.62" lengthAdjust="spacingAndGlyphs">0.2</text><text x="62.80" y="233.00" font-size="6.57" text-anchor="end" fill="#3a3a3a" textLength="3.45" lengthAdjust="spacingAndGlyphs">0</text><text x="62.80" y="257.00" font-size="6.57" text-anchor="end" fill="#3a3a3a" textLength="10.68" lengthAdjust="spacingAndGlyphs">-0.2</text><text x="62.80" y="281.50" font-size="6.57" text-anchor="end" fill="#3a3a3a" textLength="8.62" lengthAdjust="spacingAndGlyphs">0.5</text><text x="62.80" y="295.40" font-size="6.57" text-anchor="end" fill="#3a3a3a" textLength="3.45" lengthAdjust="spacingAndGlyphs">0</text><text x="66.60" y="305.40" font-size="6.36" fill="#3a3a3a" textLength="8.34" lengthAdjust="spacingAndGlyphs" transform="rotate(90 66.60 305.40)">0.6</text><text x="106.00" y="301.00" font-size="6.15" fill="#3a3a3a" textLength="8.06" lengthAdjust="spacingAndGlyphs" transform="rotate(55 106.00 301.00)">0.4</text><text x="145.20" y="299.50" font-size="6.15" fill="#3a3a3a" textLength="8.06" lengthAdjust="spacingAndGlyphs" transform="rotate(50 145.20 299.50)">0.2</text><text x="180.00" y="297.50" font-size="6.15" fill="#3a3a3a" textLength="3.23" lengthAdjust="spacingAndGlyphs" transform="rotate(45 180.00 297.50)">0</text><text x="211.00" y="296.00" font-size="6.15" fill="#3a3a3a" textLength="9.99" lengthAdjust="spacingAndGlyphs" transform="rotate(30 211.00 296.00)">-0.2</text><text x="154.80" y="316.20" font-size="7.42" text-anchor="middle" fill="#3a3a3a" textLength="38.8" lengthAdjust="spacingAndGlyphs">PC 2 (19.2%)</text><text x="45.40" y="228.10" font-size="7.63" text-anchor="middle" fill="#3a3a3a" textLength="34.6" lengthAdjust="spacingAndGlyphs" transform="rotate(-90 45.40 228.10)">PC 3 (9.4%)</text><text x="39.60" y="290.60" font-size="7.63" text-anchor="middle" fill="#3a3a3a" textLength="39" lengthAdjust="spacingAndGlyphs" transform="rotate(-60 39.60 290.60)">PC 1 (57.4%)</text><circle cx="13.30" cy="198.70" r="2.5" fill="#2f9a3a" /><text x="19.10" y="200.90" font-size="6.36" fill="#3a3a3a" textLength="6.67" lengthAdjust="spacingAndGlyphs">0h</text><circle cx="13.30" cy="208.05" r="2.5" fill="#c0102e" /><text x="19.10" y="210.25" font-size="6.36" fill="#3a3a3a" textLength="10.01" lengthAdjust="spacingAndGlyphs">12h</text><circle cx="13.30" cy="217.40" r="2.5" fill="#1d4e8a" /><text x="19.10" y="219.60" font-size="6.36" fill="#3a3a3a" textLength="10.01" lengthAdjust="spacingAndGlyphs">24h</text><circle cx="13.30" cy="226.75" r="2.5" fill="#561c73" /><text x="19.10" y="228.95" font-size="6.36" fill="#3a3a3a" textLength="10.01" lengthAdjust="spacingAndGlyphs">48h</text><circle cx="13.30" cy="236.10" r="2.5" fill="#f0951c" /><text x="19.10" y="238.30" font-size="6.36" fill="#3a3a3a" textLength="10.01" lengthAdjust="spacingAndGlyphs">72h</text><circle cx="73.10" cy="201.70" r="2.6" fill="#2f9a3a" /><circle cx="71.50" cy="217.10" r="2.6" fill="#2f9a3a" /><circle cx="132.50" cy="217.10" r="2.6" fill="#2f9a3a" /><circle cx="159.20" cy="172.20" r="2.6" fill="#2f9a3a" /><circle cx="157.90" cy="181.50" r="2.6" fill="#2f9a3a" /><circle cx="164.00" cy="183.50" r="2.6" fill="#2f9a3a" /><circle cx="169.20" cy="202.30" r="2.6" fill="#c0102e" /><circle cx="185.80" cy="205.20" r="2.6" fill="#c0102e" /><circle cx="186.50" cy="210.40" r="2.6" fill="#c0102e" /><circle cx="183.80" cy="215.80" r="2.6" fill="#c0102e" /><circle cx="188.10" cy="214.40" r="2.6" fill="#f0951c" /><circle cx="189.40" cy="220.00" r="2.6" fill="#f0951c" /><circle cx="185.60" cy="226.90" r="2.6" fill="#1d4e8a" /><circle cx="171.70" cy="232.70" r="2.6" fill="#561c73" /><circle cx="177.50" cy="231.50" r="2.6" fill="#561c73" /><circle cx="182.70" cy="237.90" r="2.6" fill="#1d4e8a" /><circle cx="180.40" cy="242.30" r="2.6" fill="#1d4e8a" /><circle cx="164.40" cy="244.00" r="2.6" fill="#c0102e" /><circle cx="155.00" cy="249.40" r="2.6" fill="#f0951c" /><circle cx="166.00" cy="253.30" r="2.6" fill="#561c73" /><circle cx="170.80" cy="252.00" r="2.6" fill="#561c73" /><circle cx="168.50" cy="253.70" r="2.6" fill="#f0951c" /><circle cx="143.50" cy="256.70" r="2.6" fill="#1d4e8a" /><circle cx="151.00" cy="259.20" r="2.6" fill="#f0951c" /><circle cx="161.20" cy="264.00" r="2.6" fill="#c0102e" /><circle cx="153.50" cy="270.20" r="2.6" fill="#561c73" /><circle cx="144.20" cy="284.60" r="2.6" fill="#561c73" /><text x="328.00" y="148.10" font-size="8.06" text-anchor="middle" fill="#222" textLength="118.5" lengthAdjust="spacingAndGlyphs">BM endogenous lipid mediator</text><text x="328.50" y="158.20" font-size="8.06" text-anchor="middle" fill="#222" textLength="56" lengthAdjust="spacingAndGlyphs">3D loading plot</text><line x1="270.00" y1="180.00" x2="350.80" y2="198.20" stroke="#262626" stroke-width="1.0"/><line x1="350.80" y1="198.20" x2="385.40" y2="194.60" stroke="#262626" stroke-width="1.0"/><line x1="270.00" y1="195.40" x2="350.80" y2="206.90" stroke="#262626" stroke-width="1.0"/><line x1="350.80" y1="206.90" x2="385.40" y2="205.70" stroke="#262626" stroke-width="1.0"/><line x1="270.00" y1="210.00" x2="350.80" y2="216.20" stroke="#262626" stroke-width="1.0"/><line x1="350.80" y1="216.20" x2="385.40" y2="215.40" stroke="#262626" stroke-width="1.0"/><line x1="270.00" y1="224.90" x2="350.80" y2="226.50" stroke="#262626" stroke-width="1.0"/><line x1="350.80" y1="226.50" x2="385.40" y2="226.60" stroke="#262626" stroke-width="1.0"/><line x1="270.00" y1="239.70" x2="350.80" y2="237.50" stroke="#262626" stroke-width="1.0"/><line x1="350.80" y1="237.50" x2="385.40" y2="237.20" stroke="#262626" stroke-width="1.0"/><line x1="270.00" y1="254.30" x2="350.80" y2="248.20" stroke="#262626" stroke-width="1.0"/><line x1="350.80" y1="248.20" x2="385.40" y2="247.00" stroke="#262626" stroke-width="1.0"/><line x1="270.00" y1="269.60" x2="350.80" y2="259.00" stroke="#262626" stroke-width="1.0"/><line x1="350.80" y1="259.00" x2="385.40" y2="257.70" stroke="#262626" stroke-width="1.0"/><line x1="270.00" y1="285.00" x2="350.80" y2="270.00" stroke="#262626" stroke-width="1.0"/><line x1="350.80" y1="270.00" x2="385.40" y2="267.70" stroke="#262626" stroke-width="1.0"/><line x1="270.00" y1="300.40" x2="350.80" y2="281.00" stroke="#262626" stroke-width="1.0"/><line x1="350.80" y1="281.00" x2="385.40" y2="278.00" stroke="#262626" stroke-width="1.0"/><text x="265.30" y="182.20" font-size="6.57" text-anchor="end" fill="#3a3a3a" textLength="8.62" lengthAdjust="spacingAndGlyphs">0.5</text><text x="265.30" y="197.60" font-size="6.57" text-anchor="end" fill="#3a3a3a" textLength="8.62" lengthAdjust="spacingAndGlyphs">0.4</text><text x="265.30" y="212.20" font-size="6.57" text-anchor="end" fill="#3a3a3a" textLength="8.62" lengthAdjust="spacingAndGlyphs">0.3</text><text x="265.30" y="227.10" font-size="6.57" text-anchor="end" fill="#3a3a3a" textLength="8.62" lengthAdjust="spacingAndGlyphs">0.2</text><text x="265.30" y="241.90" font-size="6.57" text-anchor="end" fill="#3a3a3a" textLength="8.62" lengthAdjust="spacingAndGlyphs">0.1</text><text x="265.30" y="256.50" font-size="6.57" text-anchor="end" fill="#3a3a3a" textLength="3.45" lengthAdjust="spacingAndGlyphs">0</text><text x="265.30" y="271.80" font-size="6.57" text-anchor="end" fill="#3a3a3a" textLength="10.68" lengthAdjust="spacingAndGlyphs">-0.1</text><text x="265.30" y="287.20" font-size="6.57" text-anchor="end" fill="#3a3a3a" textLength="10.68" lengthAdjust="spacingAndGlyphs">-0.2</text><text x="265.30" y="302.60" font-size="6.57" text-anchor="end" fill="#3a3a3a" textLength="10.68" lengthAdjust="spacingAndGlyphs">-0.3</text><line x1="287.80" y1="171.50" x2="287.80" y2="293.00" stroke="#262626" stroke-width="1.0"/><line x1="308.00" y1="179.20" x2="308.00" y2="289.50" stroke="#262626" stroke-width="1.0"/><line x1="324.50" y1="178.00" x2="324.50" y2="286.50" stroke="#262626" stroke-width="1.0"/><line x1="338.50" y1="183.00" x2="338.50" y2="284.00" stroke="#262626" stroke-width="1.0"/><line x1="350.80" y1="188.50" x2="350.80" y2="281.00" stroke="#262626" stroke-width="1.0"/><line x1="360.30" y1="189.20" x2="360.30" y2="280.00" stroke="#262626" stroke-width="1.0"/><line x1="368.90" y1="188.20" x2="368.90" y2="279.00" stroke="#262626" stroke-width="1.0"/><line x1="378.20" y1="186.20" x2="378.20" y2="278.50" stroke="#262626" stroke-width="1.0"/><line x1="268.00" y1="305.00" x2="353.00" y2="284.00" stroke="#262626" stroke-width="1.0"/><line x1="279.00" y1="309.00" x2="372.00" y2="286.50" stroke="#262626" stroke-width="1.0"/><line x1="291.00" y1="313.00" x2="386.00" y2="290.00" stroke="#262626" stroke-width="1.0"/><line x1="287.80" y1="293.00" x2="327.00" y2="306.50" stroke="#262626" stroke-width="1.0"/><line x1="308.00" y1="289.50" x2="345.00" y2="299.50" stroke="#262626" stroke-width="1.0"/><line x1="324.50" y1="286.50" x2="360.00" y2="292.00" stroke="#262626" stroke-width="1.0"/><line x1="338.50" y1="284.00" x2="376.00" y2="287.50" stroke="#262626" stroke-width="1.0"/><line x1="350.80" y1="281.00" x2="386.00" y2="282.00" stroke="#262626" stroke-width="1.0"/><circle cx="310.80" cy="166.20" r="2.6" fill="#3d9ad6" /><text x="307.00" y="179.00" font-size="6.36" text-anchor="middle" textLength="15.0" lengthAdjust="spacingAndGlyphs">RvD4</text><circle cx="348.20" cy="186.20" r="2.6" fill="#3d9ad6" /><text x="353.50" y="188.30" font-size="6.36" textLength="14.67" lengthAdjust="spacingAndGlyphs">RvE1</text><circle cx="348.20" cy="211.20" r="2.6" fill="#3d9ad6" /><text x="353.50" y="211.90" font-size="6.36" textLength="25.01" lengthAdjust="spacingAndGlyphs">12-HEPE</text><circle cx="343.80" cy="236.20" r="2.6" fill="#3d9ad6" /><text x="345.90" y="231.90" font-size="6.36" text-anchor="middle" textLength="25.01" lengthAdjust="spacingAndGlyphs">15-HEPE</text><circle cx="367.20" cy="241.10" r="2.6" fill="#3d9ad6" /><text x="371.00" y="243.20" font-size="6.36" textLength="15.0" lengthAdjust="spacingAndGlyphs">RvD1</text><circle cx="292.40" cy="242.60" r="2.6" fill="#3d9ad6" /><text x="289.60" y="237.50" font-size="6.36" text-anchor="middle" textLength="21.67" lengthAdjust="spacingAndGlyphs">5-HEPE</text><circle cx="310.70" cy="240.50" r="2.6" fill="#3d9ad6" /><text x="310.00" y="249.90" font-size="6.36" textLength="15.0" lengthAdjust="spacingAndGlyphs">RvD5</text><circle cx="331.50" cy="258.50" r="2.6" fill="#3d9ad6" /><text x="335.50" y="260.20" font-size="6.36" textLength="15.0" lengthAdjust="spacingAndGlyphs">RvD6</text><circle cx="330.40" cy="269.20" r="2.6" fill="#3d9ad6" /><text x="334.50" y="271.20" font-size="6.36" textLength="25.01" lengthAdjust="spacingAndGlyphs">18-HEPE</text><circle cx="320.40" cy="276.20" r="2.6" fill="#3d9ad6" /><text x="303.00" y="276.00" font-size="6.36" text-anchor="middle" textLength="25.67" lengthAdjust="spacingAndGlyphs">17-HDHA</text><circle cx="322.70" cy="278.90" r="2.6" fill="#3d9ad6" /><text x="325.50" y="283.40" font-size="6.36" textLength="25.67" lengthAdjust="spacingAndGlyphs">14-HDHA</text><circle cx="303.50" cy="290.80" r="2.6" fill="#3d9ad6" /><text x="303.80" y="301.20" font-size="6.36" text-anchor="middle" textLength="22.34" lengthAdjust="spacingAndGlyphs">7-HDHA</text><text x="250.00" y="235.40" font-size="8.48" text-anchor="middle" fill="#3a3a3a" textLength="13.5" lengthAdjust="spacingAndGlyphs" transform="rotate(-90 250.00 235.40)">PC 3</text><text x="379.20" y="306.50" font-size="8.06" text-anchor="middle" fill="#3a3a3a" textLength="14" lengthAdjust="spacingAndGlyphs">PC 2</text><text x="262.30" y="318.90" font-size="8.06" text-anchor="middle" fill="#3a3a3a" textLength="14" lengthAdjust="spacingAndGlyphs">PC 1</text><text x="259.50" y="307.10" font-size="6.15" fill="#3a3a3a" textLength="8.06" lengthAdjust="spacingAndGlyphs" transform="rotate(-20 259.50 307.10)">0.3</text><text x="271.90" y="312.00" font-size="6.15" fill="#3a3a3a" textLength="8.06" lengthAdjust="spacingAndGlyphs" transform="rotate(-20 271.90 312.00)">0.2</text><text x="282.70" y="315.60" font-size="6.15" fill="#3a3a3a" textLength="8.06" lengthAdjust="spacingAndGlyphs" transform="rotate(-20 282.70 315.60)">0.1</text><text x="327.30" y="308.00" font-size="6.15" fill="#3a3a3a" textLength="8.06" lengthAdjust="spacingAndGlyphs" transform="rotate(25 327.30 308.00)">0.4</text><text x="345.70" y="300.30" font-size="6.15" fill="#3a3a3a" textLength="8.06" lengthAdjust="spacingAndGlyphs" transform="rotate(25 345.70 300.30)">0.2</text><text x="361.10" y="292.50" font-size="6.15" fill="#3a3a3a" textLength="3.23" lengthAdjust="spacingAndGlyphs" transform="rotate(25 361.10 292.50)">0</text><text x="378.00" y="288.50" font-size="6.15" fill="#3a3a3a" textLength="9.99" lengthAdjust="spacingAndGlyphs" transform="rotate(25 378.00 288.50)">-0.2</text><text x="387.30" y="282.50" font-size="6.15" fill="#3a3a3a" textLength="9.99" lengthAdjust="spacingAndGlyphs" transform="rotate(25 387.30 282.50)">-0.4</text><line x1="435.60" y1="197.30" x2="435.60" y2="252.10" stroke="#2b2b2b" stroke-width="1.3"/><line x1="435.00" y1="197.30" x2="498.30" y2="197.30" stroke="#2b2b2b" stroke-width="1.3"/><line x1="497.70" y1="197.30" x2="497.70" y2="252.10" stroke="#2b2b2b" stroke-width="1.3"/><line x1="435.00" y1="252.10" x2="498.30" y2="252.10" stroke="#2b2b2b" stroke-width="1.3"/><line x1="433.20" y1="197.30" x2="435.60" y2="197.30" stroke="#2b2b2b" stroke-width="1"/><text x="432.20" y="199.60" font-size="7.0" text-anchor="end" fill="#3a3a3a" textLength="7.34" lengthAdjust="spacingAndGlyphs">40</text><line x1="433.20" y1="211.00" x2="435.60" y2="211.00" stroke="#2b2b2b" stroke-width="1"/><text x="432.20" y="213.30" font-size="7.0" text-anchor="end" fill="#3a3a3a" textLength="7.34" lengthAdjust="spacingAndGlyphs">30</text><line x1="433.20" y1="224.70" x2="435.60" y2="224.70" stroke="#2b2b2b" stroke-width="1"/><text x="432.20" y="227.00" font-size="7.0" text-anchor="end" fill="#3a3a3a" textLength="7.34" lengthAdjust="spacingAndGlyphs">20</text><line x1="433.20" y1="238.40" x2="435.60" y2="238.40" stroke="#2b2b2b" stroke-width="1"/><text x="432.20" y="240.70" font-size="7.0" text-anchor="end" fill="#3a3a3a" textLength="7.34" lengthAdjust="spacingAndGlyphs">10</text><line x1="433.20" y1="252.10" x2="435.60" y2="252.10" stroke="#2b2b2b" stroke-width="1"/><text x="432.20" y="254.40" font-size="7.0" text-anchor="end" fill="#3a3a3a" textLength="3.67" lengthAdjust="spacingAndGlyphs">0</text><line x1="435.60" y1="252.10" x2="435.60" y2="254.30" stroke="#2b2b2b" stroke-width="1"/><text x="435.60" y="263.30" font-size="7.0" text-anchor="middle" fill="#3a3a3a" textLength="3.67" lengthAdjust="spacingAndGlyphs">0</text><line x1="456.30" y1="252.10" x2="456.30" y2="254.30" stroke="#2b2b2b" stroke-width="1"/><text x="456.30" y="263.30" font-size="7.0" text-anchor="middle" fill="#3a3a3a" textLength="7.34" lengthAdjust="spacingAndGlyphs">24</text><line x1="477.00" y1="252.10" x2="477.00" y2="254.30" stroke="#2b2b2b" stroke-width="1"/><text x="477.00" y="263.30" font-size="7.0" text-anchor="middle" fill="#3a3a3a" textLength="7.34" lengthAdjust="spacingAndGlyphs">48</text><line x1="497.70" y1="252.10" x2="497.70" y2="254.30" stroke="#2b2b2b" stroke-width="1"/><text x="497.70" y="263.30" font-size="7.0" text-anchor="middle" fill="#3a3a3a" textLength="7.34" lengthAdjust="spacingAndGlyphs">72</text><text x="510.00" y="263.00" font-size="5.94" text-anchor="middle" fill="#3a3a3a" textLength="6.84" lengthAdjust="spacingAndGlyphs">(h)</text><polyline points="435.60,210.20 445.95,248.70 456.30,247.30 477.00,242.50 497.70,241.50" stroke="#3aa33a" stroke-width="1.1" fill="none" /><circle cx="435.60" cy="210.20" r="1.9" fill="#3aa33a" /><circle cx="445.95" cy="248.70" r="1.9" fill="#3aa33a" /><circle cx="456.30" cy="247.30" r="1.9" fill="#3aa33a" /><circle cx="477.00" cy="242.50" r="1.9" fill="#3aa33a" /><circle cx="497.70" cy="241.50" r="1.9" fill="#3aa33a" /><line x1="435.60" y1="206.50" x2="435.60" y2="214.00" stroke="#3aa33a" stroke-width="0.7"/><line x1="434.30" y1="206.50" x2="436.90" y2="206.50" stroke="#3aa33a" stroke-width="0.7"/><line x1="434.30" y1="214.00" x2="436.90" y2="214.00" stroke="#3aa33a" stroke-width="0.7"/><line x1="445.95" y1="247.50" x2="445.95" y2="250.00" stroke="#3aa33a" stroke-width="0.7"/><line x1="444.65" y1="247.50" x2="447.25" y2="247.50" stroke="#3aa33a" stroke-width="0.7"/><line x1="444.65" y1="250.00" x2="447.25" y2="250.00" stroke="#3aa33a" stroke-width="0.7"/><line x1="456.30" y1="245.00" x2="456.30" y2="250.00" stroke="#3aa33a" stroke-width="0.7"/><line x1="455.00" y1="245.00" x2="457.60" y2="245.00" stroke="#3aa33a" stroke-width="0.7"/><line x1="455.00" y1="250.00" x2="457.60" y2="250.00" stroke="#3aa33a" stroke-width="0.7"/><line x1="477.00" y1="239.50" x2="477.00" y2="245.50" stroke="#3aa33a" stroke-width="0.7"/><line x1="475.70" y1="239.50" x2="478.30" y2="239.50" stroke="#3aa33a" stroke-width="0.7"/><line x1="475.70" y1="245.50" x2="478.30" y2="245.50" stroke="#3aa33a" stroke-width="0.7"/><line x1="497.70" y1="239.50" x2="497.70" y2="243.50" stroke="#3aa33a" stroke-width="0.7"/><line x1="496.40" y1="239.50" x2="499.00" y2="239.50" stroke="#3aa33a" stroke-width="0.7"/><line x1="496.40" y1="243.50" x2="499.00" y2="243.50" stroke="#3aa33a" stroke-width="0.7"/><text x="447.10" y="249.70" font-size="9.54" text-anchor="middle" fill="#2a6e2a" textLength="10.5" lengthAdjust="spacingAndGlyphs">****</text><text x="457.50" y="244.80" font-size="9.54" text-anchor="middle" fill="#2a6e2a" textLength="10.5" lengthAdjust="spacingAndGlyphs">****</text><text x="477.50" y="239.90" font-size="9.54" text-anchor="middle" fill="#2a6e2a" textLength="10.5" lengthAdjust="spacingAndGlyphs">****</text><text x="491.30" y="240.90" font-size="9.54" text-anchor="middle" fill="#2a6e2a" textLength="10.5" lengthAdjust="spacingAndGlyphs">****</text><text x="467.50" y="192.30" font-size="8.9" text-anchor="middle" fill="#222" textLength="45.5" lengthAdjust="spacingAndGlyphs">Blood-RvD4</text><text x="418.60" y="223.90" font-size="8.48" text-anchor="middle" fill="#3a3a3a" textLength="68.6" lengthAdjust="spacingAndGlyphs" transform="rotate(-90 418.60 223.90)">RvD4 (pg/100ul/blood)</text><text x="467.90" y="275.60" font-size="8.9" text-anchor="middle" fill="#2a2a2a" textLength="39.4" lengthAdjust="spacingAndGlyphs">+Self-limited</text><text x="467.00" y="286.50" font-size="8.9" text-anchor="middle" fill="#2a2a2a" textLength="48.8" lengthAdjust="spacingAndGlyphs"><tspan font-style="italic">E. coli</tspan> peritonitis</text><line x1="75.00" y1="549.20" x2="75.00" y2="634.20" stroke="#2b2b2b" stroke-width="1.2"/><line x1="74.40" y1="634.20" x2="130.80" y2="634.20" stroke="#2b2b2b" stroke-width="1.2"/><line x1="72.60" y1="549.20" x2="75.00" y2="549.20" stroke="#2b2b2b" stroke-width="1"/><text x="71.00" y="551.40" font-size="6.57" text-anchor="end" fill="#3a3a3a" textLength="3.45" lengthAdjust="spacingAndGlyphs">9</text><line x1="72.60" y1="578.10" x2="75.00" y2="578.10" stroke="#2b2b2b" stroke-width="1"/><text x="71.00" y="580.30" font-size="6.57" text-anchor="end" fill="#3a3a3a" textLength="3.45" lengthAdjust="spacingAndGlyphs">6</text><line x1="72.60" y1="606.30" x2="75.00" y2="606.30" stroke="#2b2b2b" stroke-width="1"/><text x="71.00" y="608.50" font-size="6.57" text-anchor="end" fill="#3a3a3a" textLength="3.45" lengthAdjust="spacingAndGlyphs">3</text><line x1="72.60" y1="634.20" x2="75.00" y2="634.20" stroke="#2b2b2b" stroke-width="1"/><text x="71.00" y="636.40" font-size="6.57" text-anchor="end" fill="#3a3a3a" textLength="3.45" lengthAdjust="spacingAndGlyphs">0</text><rect x="81.20" y="604.80" width="10.80" height="29.40" fill="#acda9c" /><line x1="86.60" y1="634.20" x2="86.60" y2="636.60" stroke="#2b2b2b" stroke-width="1"/><rect x="98.00" y="582.70" width="10.70" height="51.50" fill="#ed8b7d" /><line x1="103.35" y1="634.20" x2="103.35" y2="636.60" stroke="#2b2b2b" stroke-width="1"/><rect x="115.40" y="612.10" width="10.60" height="22.10" fill="#ab92c6" /><line x1="120.70" y1="634.20" x2="120.70" y2="636.60" stroke="#2b2b2b" stroke-width="1"/><line x1="103.35" y1="571.20" x2="103.35" y2="593.80" stroke="#a01c1c" stroke-width="0.9"/><line x1="101.35" y1="571.20" x2="105.35" y2="571.20" stroke="#a01c1c" stroke-width="0.9"/><line x1="101.35" y1="593.80" x2="105.35" y2="593.80" stroke="#a01c1c" stroke-width="0.9"/><line x1="120.70" y1="601.50" x2="120.70" y2="618.80" stroke="#4b1d6b" stroke-width="0.9"/><line x1="118.70" y1="601.50" x2="122.70" y2="601.50" stroke="#4b1d6b" stroke-width="0.9"/><line x1="118.70" y1="618.80" x2="122.70" y2="618.80" stroke="#4b1d6b" stroke-width="0.9"/><circle cx="84.10" cy="604.60" r="1.2" fill="#2e8b2e" /><circle cx="86.60" cy="604.30" r="1.2" fill="#2e8b2e" /><circle cx="89.10" cy="604.60" r="1.2" fill="#2e8b2e" /><circle cx="103.35" cy="572.70" r="1.2" fill="#a01c1c" /><circle cx="103.35" cy="575.60" r="1.2" fill="#a01c1c" /><circle cx="103.35" cy="593.00" r="1.2" fill="#a01c1c" /><circle cx="120.70" cy="602.00" r="1.2" fill="#4b1d6b" /><circle cx="117.40" cy="616.00" r="1.2" fill="#4b1d6b" /><circle cx="124.00" cy="615.40" r="1.2" fill="#4b1d6b" /><polyline points="86.50,566.50 86.50,562.70 102.30,562.70 102.30,566.50" stroke="#2b2b2b" stroke-width="0.9" fill="none" /><text x="94.40" y="561.90" font-size="6.78" text-anchor="middle" fill="#3a3a3a" textLength="2.49" lengthAdjust="spacingAndGlyphs">*</text><polyline points="104.80,566.50 104.80,562.70 120.80,562.70 120.80,566.50" stroke="#2b2b2b" stroke-width="0.9" fill="none" /><text x="112.80" y="561.90" font-size="6.78" text-anchor="middle" fill="#3a3a3a" textLength="4.98" lengthAdjust="spacingAndGlyphs">**</text><text x="86.60" y="646.60" font-size="6.78" text-anchor="middle" fill="#3a3a3a" textLength="3.56" lengthAdjust="spacingAndGlyphs">0</text><text x="103.35" y="646.60" font-size="6.78" text-anchor="middle" fill="#3a3a3a" textLength="7.12" lengthAdjust="spacingAndGlyphs">12</text><text x="120.70" y="646.60" font-size="6.78" text-anchor="middle" fill="#3a3a3a" textLength="7.12" lengthAdjust="spacingAndGlyphs">72</text><line x1="154.00" y1="549.20" x2="154.00" y2="634.40" stroke="#2b2b2b" stroke-width="1.2"/><line x1="153.40" y1="634.40" x2="210.20" y2="634.40" stroke="#2b2b2b" stroke-width="1.2"/><line x1="151.60" y1="549.20" x2="154.00" y2="549.20" stroke="#2b2b2b" stroke-width="1"/><text x="150.00" y="551.40" font-size="6.57" text-anchor="end" fill="#3a3a3a" textLength="6.9" lengthAdjust="spacingAndGlyphs">20</text><line x1="151.60" y1="571.30" x2="154.00" y2="571.30" stroke="#2b2b2b" stroke-width="1"/><text x="150.00" y="573.50" font-size="6.57" text-anchor="end" fill="#3a3a3a" textLength="6.9" lengthAdjust="spacingAndGlyphs">15</text><line x1="151.60" y1="592.50" x2="154.00" y2="592.50" stroke="#2b2b2b" stroke-width="1"/><text x="150.00" y="594.70" font-size="6.57" text-anchor="end" fill="#3a3a3a" textLength="6.9" lengthAdjust="spacingAndGlyphs">10</text><line x1="151.60" y1="613.70" x2="154.00" y2="613.70" stroke="#2b2b2b" stroke-width="1"/><text x="150.00" y="615.90" font-size="6.57" text-anchor="end" fill="#3a3a3a" textLength="3.45" lengthAdjust="spacingAndGlyphs">5</text><line x1="151.60" y1="634.40" x2="154.00" y2="634.40" stroke="#2b2b2b" stroke-width="1"/><text x="150.00" y="636.60" font-size="6.57" text-anchor="end" fill="#3a3a3a" textLength="3.45" lengthAdjust="spacingAndGlyphs">0</text><rect x="160.20" y="629.00" width="10.60" height="5.40" fill="#acda9c" /><line x1="165.50" y1="634.40" x2="165.50" y2="636.80" stroke="#2b2b2b" stroke-width="1"/><rect x="177.50" y="581.50" width="10.20" height="52.90" fill="#ed8b7d" /><line x1="182.60" y1="634.40" x2="182.60" y2="636.80" stroke="#2b2b2b" stroke-width="1"/><rect x="194.40" y="629.60" width="10.60" height="4.80" fill="#ab92c6" /><line x1="199.70" y1="634.40" x2="199.70" y2="636.80" stroke="#2b2b2b" stroke-width="1"/><line x1="165.50" y1="627.50" x2="165.50" y2="630.00" stroke="#2e8b2e" stroke-width="0.9"/><line x1="163.50" y1="627.50" x2="167.50" y2="627.50" stroke="#2e8b2e" stroke-width="0.9"/><line x1="163.50" y1="630.00" x2="167.50" y2="630.00" stroke="#2e8b2e" stroke-width="0.9"/><line x1="182.60" y1="577.50" x2="182.60" y2="584.00" stroke="#a01c1c" stroke-width="0.9"/><line x1="180.60" y1="577.50" x2="184.60" y2="577.50" stroke="#a01c1c" stroke-width="0.9"/><line x1="180.60" y1="584.00" x2="184.60" y2="584.00" stroke="#a01c1c" stroke-width="0.9"/><line x1="199.70" y1="628.00" x2="199.70" y2="631.00" stroke="#4b1d6b" stroke-width="0.9"/><line x1="197.70" y1="628.00" x2="201.70" y2="628.00" stroke="#4b1d6b" stroke-width="0.9"/><line x1="197.70" y1="631.00" x2="201.70" y2="631.00" stroke="#4b1d6b" stroke-width="0.9"/><circle cx="163.00" cy="628.80" r="1.2" fill="#2e8b2e" /><circle cx="165.50" cy="628.50" r="1.2" fill="#2e8b2e" /><circle cx="168.00" cy="628.80" r="1.2" fill="#2e8b2e" /><circle cx="182.60" cy="578.50" r="1.2" fill="#a01c1c" /><circle cx="180.10" cy="583.00" r="1.2" fill="#a01c1c" /><circle cx="185.10" cy="583.00" r="1.2" fill="#a01c1c" /><circle cx="197.20" cy="629.50" r="1.2" fill="#4b1d6b" /><circle cx="199.70" cy="629.20" r="1.2" fill="#4b1d6b" /><circle cx="202.20" cy="629.50" r="1.2" fill="#4b1d6b" /><polyline points="165.00,576.20 165.00,571.90 182.70,571.90 182.70,576.20" stroke="#2b2b2b" stroke-width="0.9" fill="none" /><text x="173.85" y="571.10" font-size="6.78" text-anchor="middle" fill="#3a3a3a" textLength="9.96" lengthAdjust="spacingAndGlyphs">****</text><polyline points="182.70,564.20 182.70,559.20 199.60,559.20 199.60,564.20" stroke="#2b2b2b" stroke-width="0.9" fill="none" /><text x="191.15" y="558.40" font-size="6.78" text-anchor="middle" fill="#3a3a3a" textLength="9.96" lengthAdjust="spacingAndGlyphs">****</text><text x="165.50" y="646.60" font-size="6.78" text-anchor="middle" fill="#3a3a3a" textLength="3.56" lengthAdjust="spacingAndGlyphs">0</text><text x="182.60" y="646.60" font-size="6.78" text-anchor="middle" fill="#3a3a3a" textLength="7.12" lengthAdjust="spacingAndGlyphs">12</text><text x="199.70" y="646.60" font-size="6.78" text-anchor="middle" fill="#3a3a3a" textLength="7.12" lengthAdjust="spacingAndGlyphs">72</text><line x1="233.50" y1="549.20" x2="233.50" y2="634.40" stroke="#2b2b2b" stroke-width="1.2"/><line x1="232.90" y1="634.40" x2="289.20" y2="634.40" stroke="#2b2b2b" stroke-width="1.2"/><line x1="231.10" y1="549.20" x2="233.50" y2="549.20" stroke="#2b2b2b" stroke-width="1"/><text x="229.50" y="551.40" font-size="6.57" text-anchor="end" fill="#3a3a3a" textLength="6.9" lengthAdjust="spacingAndGlyphs">80</text><line x1="231.10" y1="571.30" x2="233.50" y2="571.30" stroke="#2b2b2b" stroke-width="1"/><text x="229.50" y="573.50" font-size="6.57" text-anchor="end" fill="#3a3a3a" textLength="6.9" lengthAdjust="spacingAndGlyphs">60</text><line x1="231.10" y1="592.50" x2="233.50" y2="592.50" stroke="#2b2b2b" stroke-width="1"/><text x="229.50" y="594.70" font-size="6.57" text-anchor="end" fill="#3a3a3a" textLength="6.9" lengthAdjust="spacingAndGlyphs">40</text><line x1="231.10" y1="613.70" x2="233.50" y2="613.70" stroke="#2b2b2b" stroke-width="1"/><text x="229.50" y="615.90" font-size="6.57" text-anchor="end" fill="#3a3a3a" textLength="6.9" lengthAdjust="spacingAndGlyphs">20</text><line x1="231.10" y1="634.40" x2="233.50" y2="634.40" stroke="#2b2b2b" stroke-width="1"/><text x="229.50" y="636.60" font-size="6.57" text-anchor="end" fill="#3a3a3a" textLength="3.45" lengthAdjust="spacingAndGlyphs">0</text><rect x="239.20" y="596.30" width="10.60" height="38.10" fill="#acda9c" /><line x1="244.50" y1="634.40" x2="244.50" y2="636.80" stroke="#2b2b2b" stroke-width="1"/><rect x="256.20" y="576.70" width="10.50" height="57.70" fill="#ed8b7d" /><line x1="261.45" y1="634.40" x2="261.45" y2="636.80" stroke="#2b2b2b" stroke-width="1"/><rect x="272.90" y="589.20" width="10.60" height="45.20" fill="#ab92c6" /><line x1="278.20" y1="634.40" x2="278.20" y2="636.80" stroke="#2b2b2b" stroke-width="1"/><line x1="261.45" y1="564.60" x2="261.45" y2="586.20" stroke="#a01c1c" stroke-width="0.9"/><line x1="259.45" y1="564.60" x2="263.45" y2="564.60" stroke="#a01c1c" stroke-width="0.9"/><line x1="259.45" y1="586.20" x2="263.45" y2="586.20" stroke="#a01c1c" stroke-width="0.9"/><line x1="278.20" y1="582.90" x2="278.20" y2="593.80" stroke="#4b1d6b" stroke-width="0.9"/><line x1="276.20" y1="582.90" x2="280.20" y2="582.90" stroke="#4b1d6b" stroke-width="0.9"/><line x1="276.20" y1="593.80" x2="280.20" y2="593.80" stroke="#4b1d6b" stroke-width="0.9"/><circle cx="242.00" cy="596.30" r="1.2" fill="#2e8b2e" /><circle cx="244.50" cy="596.00" r="1.2" fill="#2e8b2e" /><circle cx="247.00" cy="596.30" r="1.2" fill="#2e8b2e" /><circle cx="261.45" cy="566.00" r="1.2" fill="#a01c1c" /><circle cx="260.45" cy="579.00" r="1.2" fill="#a01c1c" /><circle cx="262.45" cy="583.00" r="1.2" fill="#a01c1c" /><circle cx="278.20" cy="583.50" r="1.2" fill="#4b1d6b" /><circle cx="276.70" cy="588.00" r="1.2" fill="#4b1d6b" /><circle cx="279.70" cy="591.00" r="1.2" fill="#4b1d6b" /><polyline points="244.00,563.70 244.00,558.80 261.30,558.80 261.30,563.70" stroke="#2b2b2b" stroke-width="0.9" fill="none" /><text x="252.65" y="558.00" font-size="6.78" text-anchor="middle" fill="#3a3a3a" textLength="2.49" lengthAdjust="spacingAndGlyphs">*</text><text x="244.50" y="646.60" font-size="6.78" text-anchor="middle" fill="#3a3a3a" textLength="3.56" lengthAdjust="spacingAndGlyphs">0</text><text x="261.45" y="646.60" font-size="6.78" text-anchor="middle" fill="#3a3a3a" textLength="7.12" lengthAdjust="spacingAndGlyphs">12</text><text x="278.20" y="646.60" font-size="6.78" text-anchor="middle" fill="#3a3a3a" textLength="7.12" lengthAdjust="spacingAndGlyphs">72</text><line x1="334.50" y1="550.40" x2="334.50" y2="634.00" stroke="#2b2b2b" stroke-width="1.2"/><line x1="333.90" y1="634.00" x2="391.00" y2="634.00" stroke="#2b2b2b" stroke-width="1.2"/><line x1="332.10" y1="550.40" x2="334.50" y2="550.40" stroke="#2b2b2b" stroke-width="1"/><text x="330.50" y="552.60" font-size="6.57" text-anchor="end" fill="#3a3a3a" textLength="8.62" lengthAdjust="spacingAndGlyphs">0.6</text><line x1="332.10" y1="578.60" x2="334.50" y2="578.60" stroke="#2b2b2b" stroke-width="1"/><text x="330.50" y="580.80" font-size="6.57" text-anchor="end" fill="#3a3a3a" textLength="8.62" lengthAdjust="spacingAndGlyphs">0.4</text><line x1="332.10" y1="606.40" x2="334.50" y2="606.40" stroke="#2b2b2b" stroke-width="1"/><text x="330.50" y="608.60" font-size="6.57" text-anchor="end" fill="#3a3a3a" textLength="8.62" lengthAdjust="spacingAndGlyphs">0.2</text><line x1="332.10" y1="634.00" x2="334.50" y2="634.00" stroke="#2b2b2b" stroke-width="1"/><text x="330.50" y="636.20" font-size="6.57" text-anchor="end" fill="#3a3a3a" textLength="8.62" lengthAdjust="spacingAndGlyphs">0.0</text><rect x="341.20" y="626.00" width="10.10" height="8.00" fill="#acda9c" /><line x1="346.25" y1="634.00" x2="346.25" y2="636.40" stroke="#2b2b2b" stroke-width="1"/><rect x="358.30" y="592.10" width="10.10" height="41.90" fill="#ed8b7d" /><line x1="363.35" y1="634.00" x2="363.35" y2="636.40" stroke="#2b2b2b" stroke-width="1"/><rect x="374.80" y="593.70" width="10.70" height="40.30" fill="#ab92c6" /><line x1="380.15" y1="634.00" x2="380.15" y2="636.40" stroke="#2b2b2b" stroke-width="1"/><line x1="346.25" y1="622.00" x2="346.25" y2="629.00" stroke="#2e8b2e" stroke-width="0.9"/><line x1="344.25" y1="622.00" x2="348.25" y2="622.00" stroke="#2e8b2e" stroke-width="0.9"/><line x1="344.25" y1="629.00" x2="348.25" y2="629.00" stroke="#2e8b2e" stroke-width="0.9"/><line x1="363.35" y1="580.60" x2="363.35" y2="602.80" stroke="#a01c1c" stroke-width="0.9"/><line x1="361.35" y1="580.60" x2="365.35" y2="580.60" stroke="#a01c1c" stroke-width="0.9"/><line x1="361.35" y1="602.80" x2="365.35" y2="602.80" stroke="#a01c1c" stroke-width="0.9"/><line x1="380.15" y1="581.20" x2="380.15" y2="604.80" stroke="#4b1d6b" stroke-width="0.9"/><line x1="378.15" y1="581.20" x2="382.15" y2="581.20" stroke="#4b1d6b" stroke-width="0.9"/><line x1="378.15" y1="604.80" x2="382.15" y2="604.80" stroke="#4b1d6b" stroke-width="0.9"/><circle cx="346.25" cy="623.00" r="1.2" fill="#2e8b2e" /><circle cx="344.75" cy="627.00" r="1.2" fill="#2e8b2e" /><circle cx="347.75" cy="628.00" r="1.2" fill="#2e8b2e" /><circle cx="363.35" cy="581.50" r="1.2" fill="#a01c1c" /><circle cx="363.35" cy="597.50" r="1.2" fill="#a01c1c" /><circle cx="363.35" cy="601.00" r="1.2" fill="#a01c1c" /><circle cx="380.15" cy="582.00" r="1.2" fill="#4b1d6b" /><circle cx="380.15" cy="596.00" r="1.2" fill="#4b1d6b" /><circle cx="380.15" cy="599.00" r="1.2" fill="#4b1d6b" /><polyline points="345.60,576.60 345.60,571.50 362.70,571.50 362.70,576.60" stroke="#2b2b2b" stroke-width="0.9" fill="none" /><text x="354.15" y="570.70" font-size="6.78" text-anchor="middle" fill="#3a3a3a" textLength="2.49" lengthAdjust="spacingAndGlyphs">*</text><polyline points="345.60,565.10 345.60,561.00 380.00,561.00 380.00,565.10" stroke="#2b2b2b" stroke-width="0.9" fill="none" /><text x="362.80" y="560.20" font-size="6.78" text-anchor="middle" fill="#3a3a3a" textLength="2.49" lengthAdjust="spacingAndGlyphs">*</text><text x="346.25" y="646.60" font-size="6.78" text-anchor="middle" fill="#3a3a3a" textLength="3.56" lengthAdjust="spacingAndGlyphs">0</text><text x="363.35" y="646.60" font-size="6.78" text-anchor="middle" fill="#3a3a3a" textLength="7.12" lengthAdjust="spacingAndGlyphs">12</text><text x="380.15" y="646.60" font-size="6.78" text-anchor="middle" fill="#3a3a3a" textLength="7.12" lengthAdjust="spacingAndGlyphs">72</text><line x1="409.00" y1="550.40" x2="409.00" y2="634.00" stroke="#2b2b2b" stroke-width="1.2"/><line x1="408.40" y1="634.00" x2="466.10" y2="634.00" stroke="#2b2b2b" stroke-width="1.2"/><line x1="406.60" y1="550.40" x2="409.00" y2="550.40" stroke="#2b2b2b" stroke-width="1"/><text x="405.00" y="552.60" font-size="6.57" text-anchor="end" fill="#3a3a3a" textLength="3.45" lengthAdjust="spacingAndGlyphs">6</text><line x1="406.60" y1="578.60" x2="409.00" y2="578.60" stroke="#2b2b2b" stroke-width="1"/><text x="405.00" y="580.80" font-size="6.57" text-anchor="end" fill="#3a3a3a" textLength="3.45" lengthAdjust="spacingAndGlyphs">4</text><line x1="406.60" y1="606.40" x2="409.00" y2="606.40" stroke="#2b2b2b" stroke-width="1"/><text x="405.00" y="608.60" font-size="6.57" text-anchor="end" fill="#3a3a3a" textLength="3.45" lengthAdjust="spacingAndGlyphs">2</text><line x1="406.60" y1="634.00" x2="409.00" y2="634.00" stroke="#2b2b2b" stroke-width="1"/><text x="405.00" y="636.20" font-size="6.57" text-anchor="end" fill="#3a3a3a" textLength="3.45" lengthAdjust="spacingAndGlyphs">0</text><rect x="416.10" y="614.90" width="10.70" height="19.10" fill="#acda9c" /><line x1="421.45" y1="634.00" x2="421.45" y2="636.40" stroke="#2b2b2b" stroke-width="1"/><rect x="433.30" y="585.20" width="10.00" height="48.80" fill="#ed8b7d" /><line x1="438.30" y1="634.00" x2="438.30" y2="636.40" stroke="#2b2b2b" stroke-width="1"/><rect x="450.00" y="615.50" width="10.50" height="18.50" fill="#ab92c6" /><line x1="455.25" y1="634.00" x2="455.25" y2="636.40" stroke="#2b2b2b" stroke-width="1"/><line x1="421.45" y1="606.80" x2="421.45" y2="620.30" stroke="#2e8b2e" stroke-width="0.9"/><line x1="419.45" y1="606.80" x2="423.45" y2="606.80" stroke="#2e8b2e" stroke-width="0.9"/><line x1="419.45" y1="620.30" x2="423.45" y2="620.30" stroke="#2e8b2e" stroke-width="0.9"/><line x1="438.30" y1="579.60" x2="438.30" y2="586.70" stroke="#a01c1c" stroke-width="0.9"/><line x1="436.30" y1="579.60" x2="440.30" y2="579.60" stroke="#a01c1c" stroke-width="0.9"/><line x1="436.30" y1="586.70" x2="440.30" y2="586.70" stroke="#a01c1c" stroke-width="0.9"/><line x1="455.25" y1="611.90" x2="455.25" y2="615.90" stroke="#4b1d6b" stroke-width="0.9"/><line x1="453.25" y1="611.90" x2="457.25" y2="611.90" stroke="#4b1d6b" stroke-width="0.9"/><line x1="453.25" y1="615.90" x2="457.25" y2="615.90" stroke="#4b1d6b" stroke-width="0.9"/><circle cx="421.45" cy="607.50" r="1.2" fill="#2e8b2e" /><circle cx="421.45" cy="614.00" r="1.2" fill="#2e8b2e" /><circle cx="421.45" cy="619.50" r="1.2" fill="#2e8b2e" /><circle cx="438.30" cy="581.00" r="1.2" fill="#a01c1c" /><circle cx="436.30" cy="585.00" r="1.2" fill="#a01c1c" /><circle cx="440.30" cy="585.50" r="1.2" fill="#a01c1c" /><circle cx="455.25" cy="612.00" r="1.2" fill="#4b1d6b" /><circle cx="453.25" cy="615.00" r="1.2" fill="#4b1d6b" /><circle cx="457.25" cy="615.00" r="1.2" fill="#4b1d6b" /><polyline points="421.20,571.50 421.20,567.50 438.30,567.50 438.30,571.50" stroke="#2b2b2b" stroke-width="0.9" fill="none" /><text x="429.75" y="566.70" font-size="6.78" text-anchor="middle" fill="#3a3a3a" textLength="7.47" lengthAdjust="spacingAndGlyphs">***</text><polyline points="438.30,577.60 438.30,573.50 455.40,573.50 455.40,577.60" stroke="#2b2b2b" stroke-width="0.9" fill="none" /><text x="446.85" y="572.70" font-size="6.78" text-anchor="middle" fill="#3a3a3a" textLength="7.47" lengthAdjust="spacingAndGlyphs">***</text><text x="421.45" y="646.60" font-size="6.78" text-anchor="middle" fill="#3a3a3a" textLength="3.56" lengthAdjust="spacingAndGlyphs">0</text><text x="438.30" y="646.60" font-size="6.78" text-anchor="middle" fill="#3a3a3a" textLength="7.12" lengthAdjust="spacingAndGlyphs">12</text><text x="455.25" y="646.60" font-size="6.78" text-anchor="middle" fill="#3a3a3a" textLength="7.12" lengthAdjust="spacingAndGlyphs">72</text><text x="472.70" y="646.20" font-size="6.15" text-anchor="middle" fill="#3a3a3a" textLength="7.09" lengthAdjust="spacingAndGlyphs">(h)</text><text x="61.30" y="589.50" font-size="7.84" text-anchor="middle" fill="#3a3a3a" textLength="40" lengthAdjust="spacingAndGlyphs" transform="rotate(-90 61.30 589.50)">% of BM cells</text><text x="182.50" y="526.60" font-size="9.33" text-anchor="middle" fill="#222" textLength="50" lengthAdjust="spacingAndGlyphs">Neutrophils</text><line x1="75.00" y1="531.30" x2="289.60" y2="531.30" stroke="#555" stroke-width="0.9"/><text x="399.10" y="526.60" font-size="9.33" text-anchor="middle" fill="#222" textLength="105.8" lengthAdjust="spacingAndGlyphs">Granulocyte progenitors</text><line x1="335.70" y1="531.20" x2="466.10" y2="531.20" stroke="#555" stroke-width="0.9"/><text x="103.80" y="542.40" font-size="8.9" text-anchor="middle" fill="#222" textLength="11.67" lengthAdjust="spacingAndGlyphs">PN</text><text x="182.70" y="542.40" font-size="8.9" text-anchor="middle" fill="#222" textLength="8.4" lengthAdjust="spacingAndGlyphs">IN</text><text x="261.30" y="542.40" font-size="8.9" text-anchor="middle" fill="#222" textLength="13.06" lengthAdjust="spacingAndGlyphs">MN</text><text x="362.30" y="542.40" font-size="8.9" text-anchor="middle" fill="#222" textLength="20" lengthAdjust="spacingAndGlyphs">MPP3</text><text x="438.30" y="542.40" font-size="8.9" text-anchor="middle" fill="#222" textLength="19.13" lengthAdjust="spacingAndGlyphs">GMP</text><line x1="75.40" y1="650.40" x2="467.00" y2="650.40" stroke="#555" stroke-width="0.9"/><text x="225.80" y="661.60" font-size="7.0" fill="#2a2a2a" textLength="91.3" lengthAdjust="spacingAndGlyphs">+ Self-limited <tspan font-style="italic">E. coli</tspan> peritonitis</text><text x="202.30" y="346.00" font-size="9.12" text-anchor="middle" fill="#222" textLength="42.3" lengthAdjust="spacingAndGlyphs">CyTOF BM</text><g><polygon points="114.0,357.0 128.0,359.5 150.0,371.0 175.0,383.0 200.0,389.0 225.0,390.0 248.0,384.0 272.0,370.0 302.0,351.5 306.0,356.0 309.0,394.0 300.0,399.0 292.0,412.0 300.0,432.0 300.0,442.0 285.0,441.0 274.0,438.0 270.0,467.0 258.0,470.0 256.0,486.0 240.0,487.0 230.0,472.0 222.0,460.0 200.0,455.0 178.0,455.0 161.0,462.0 150.0,442.0 140.0,422.0 130.0,402.0 105.0,387.0 92.5,378.0" fill="#dcdcdc" opacity="0.65" filter="url(#b2)"/><path d="M187.2 414.0l6.5 26.8M194.4 443.4l16.2 -24.7M227.1 464.9l3.6 -11.9M232.0 438.7l4.1 -7.6M132.4 398.0l2.6 -27.4M187.0 438.3l35.8 -0.0M191.5 387.3l0.0 3.9M156.4 386.0l8.6 -6.7M252.8 395.0l11.2 21.5M288.8 402.9l1.5 24.6M258.1 398.6l5.9 -21.2M116.4 389.9l3.3 -10.0M263.3 375.3l3.4 0.6M136.7 367.3l3.8 41.6M130.4 389.2l15.4 31.4M131.5 378.3l14.3 16.5M171.2 398.9l3.6 28.1M128.5 360.2l7.2 24.4M129.2 361.0l34.7 32.5M277.5 434.8l12.0 -3.0M220.9 392.5l1.6 -2.5M99.6 381.0l15.5 2.9M290.6 388.8l1.0 -19.3M128.3 400.9l4.7 1.1M240.1 435.0l4.0 -8.6M244.0 485.7l0.5 -7.5M192.4 453.4l9.1 -5.8M249.1 470.7l6.0 5.5M164.6 431.6l8.2 25.5M268.3 424.5l22.2 9.2M214.3 450.9l8.7 -33.8M238.2 393.2l24.0 21.8M221.9 410.7l43.7 16.4M155.0 447.0l5.4 -7.3M287.5 441.1l2.1 -0.4M158.7 448.1l9.1 -12.7M272.8 400.8l20.6 5.5M240.7 485.1l11.5 -9.7M189.0 390.1l2.0 -2.6M209.9 430.3l36.2 -23.7M228.9 440.5l34.0 -23.3M270.0 388.2l4.3 -9.0M212.4 404.9l32.6 14.1M139.3 389.7l24.3 17.3M213.8 458.0l23.4 -8.1M288.2 360.9l1.0 4.9M166.4 409.3l15.3 38.5M238.5 457.5l20.7 9.8M274.4 411.5l6.8 -25.6M207.0 455.8l9.2 -0.4M247.8 385.1l35.7 -20.4M103.7 370.6l38.3 2.0M292.2 370.1l11.6 -13.9M154.7 450.0l1.3 0.6M265.2 434.1l19.9 -13.4M204.2 418.2l8.7 3.0M209.9 415.0l8.9 6.1M207.2 393.7l3.8 27.8M145.7 427.7l10.2 -24.2M192.2 399.5l6.9 -10.1M290.0 365.6l5.7 6.9M125.6 376.3l17.9 11.9M163.2 453.8l12.5 -36.6M133.6 377.0l26.2 2.5M166.5 406.8l14.6 1.4M223.1 408.2l15.2 30.1M268.8 374.4l18.3 17.3M268.4 407.1l39.1 -25.7M271.5 383.7l26.3 -28.1M268.6 403.4l8.1 10.5M179.2 452.6l0.9 -16.4M239.6 468.6l1.3 12.8M183.6 454.1l36.8 0.3M205.0 419.7l13.8 3.0M125.3 366.1l14.3 26.1M291.5 372.9l3.3 -16.9M150.2 414.1l26.0 1.3M237.0 477.3l14.6 -22.8M248.3 412.5l8.6 -12.2M233.6 463.2l23.0 9.9M221.2 399.0l2.3 41.7M246.8 446.5l13.8 20.9M234.5 446.2l16.8 18.5M166.1 426.5l0.8 -22.9M214.9 453.8l31.8 -35.6M228.3 392.7l16.8 9.2M207.9 393.8l0.0 21.0M244.0 450.2l0.6 8.9M220.3 456.8l10.8 -10.3M97.8 380.3l11.2 -4.6M209.9 404.5l3.3 31.7M221.1 459.4l1.4 -10.1M197.4 436.6l18.2 -8.2M219.5 439.4l29.6 -24.0M184.7 407.1l1.5 18.2M247.6 393.9l2.8 42.2M224.6 417.3l6.1 -8.2M179.0 443.3l18.8 -2.6M208.8 396.7l19.5 23.2M250.9 385.5l1.2 -3.3M253.5 440.3l17.5 -8.3M224.2 423.1l33.2 9.8M145.5 406.8l11.4 4.6M198.8 442.5l25.9 -10.9M122.6 383.0l31.1 30.1M106.5 364.7l4.2 6.1M253.4 381.7l11.0 -2.7M245.9 390.0l43.9 23.0M146.2 409.5l33.4 32.6M181.1 414.3l8.1 -25.6M108.4 362.5l2.2 0.4M237.2 387.7l7.3 8.5M244.0 449.9l10.9 -8.8M164.1 452.5l11.8 -5.3M240.1 405.7l12.0 45.9M288.1 407.8l4.3 6.1M156.6 383.3l9.3 44.6M135.7 405.3l21.2 -9.5M169.0 417.0l18.2 -25.9M257.3 411.0l15.6 27.5M282.2 404.4l2.1 -29.6M208.4 410.8l3.7 35.2M109.9 361.8l1.6 1.4M204.1 455.6l2.7 -0.9M184.9 412.2l29.0 24.1M288.6 403.8l4.0 6.6M299.0 438.2l1.8 0.1M259.3 410.4l13.7 -3.5M252.1 486.2l1.8 -0.7M135.2 410.2l3.0 -2.3M124.7 389.4l15.4 -16.9M126.4 399.8l12.3 -20.5M152.3 414.0l15.3 23.6M281.9 396.6l17.2 2.6M251.2 402.4l29.6 2.6M243.5 440.0l6.9 -12.8M158.6 378.5l7.1 16.3M146.9 430.4l6.6 -12.9M105.6 384.3l9.4 7.6M194.2 398.8l4.5 32.3M270.3 382.6l15.7 20.1M289.4 361.2l3.1 5.2M199.9 441.6l20.4 -37.8M157.5 403.7l4.9 -20.2M183.7 453.1l20.0 -9.4M271.7 452.0l0.9 -23.8M214.1 428.5l1.0 -29.8M259.9 377.4l11.3 4.3M165.0 431.2l17.9 -13.1M171.5 447.5l11.8 -11.4M249.2 386.8l3.3 18.7M246.1 391.4l6.1 10.2M113.4 358.3l19.2 12.0M271.2 440.2l4.9 -16.8M121.2 369.9l10.6 -3.2M290.4 409.3l2.7 0.1M248.3 466.6l20.5 -7.7M178.8 438.9l0.8 14.8M234.8 444.9l1.3 -21.9M162.7 450.9l7.8 -22.5M261.6 452.0l19.2 -35.3M280.2 429.7l15.6 -7.8M239.1 476.4l16.6 -23.3M99.7 382.0l21.7 5.3M161.4 436.9l18.6 -45.2M200.8 425.7l18.8 3.6M261.5 452.8l16.0 -39.5M140.6 422.4l8.0 13.6M99.3 372.8l0.3 6.1M229.0 389.6l12.1 7.2M172.6 428.2l5.0 7.1M211.2 394.4l8.7 4.1M177.1 400.2l34.2 14.0M241.7 454.0l29.8 -1.3M158.5 405.6l45.0 9.5M183.9 427.5l44.9 -9.7M245.1 469.5l8.9 7.9M250.1 391.2l10.5 3.2M199.5 416.3l3.6 -22.0M155.1 409.1l7.3 -8.0M229.3 470.7l14.6 -3.7M140.8 394.8l9.1 -5.6M173.7 398.5l9.6 2.6M154.1 395.0l10.1 48.0M281.1 368.0l11.2 20.0M247.2 386.3l4.9 15.2M237.6 479.5l11.1 -1.9M134.4 388.1l12.8 10.0M113.8 373.2l35.8 20.4M169.7 432.0l7.0 18.4M138.0 374.7l8.2 35.1M150.9 443.3l3.0 -10.2M182.9 422.6l9.9 1.0M221.6 390.7l1.4 -1.4M110.0 388.7l2.7 2.8M148.4 432.6l9.1 -13.7M189.6 454.3l5.7 -2.2M196.8 446.5l32.2 -15.2M240.3 421.1l43.5 0.8M239.5 414.5l2.3 15.1M253.2 469.2l19.3 -21.1M200.0 443.3l43.5 10.1M131.0 380.7l1.0 -17.3M171.3 425.4l30.5 -28.2M210.2 418.0l11.0 14.3M123.7 397.4l1.0 -7.6M214.9 433.7l24.2 -22.0M124.3 395.8l10.7 -19.5M300.0 357.3l5.2 -0.2M305.1 371.2l1.8 -0.3M100.9 383.8l0.2 0.6M172.1 393.2l10.9 -2.6M251.6 458.0l12.3 -14.0M170.7 387.1l1.2 20.2M162.7 436.7l8.1 17.9M277.0 416.8l14.8 -5.2M134.0 406.4l10.2 -15.6M119.4 389.9l17.2 -21.6M158.9 393.8l0.8 36.5M274.1 381.2l10.3 -4.0M238.8 403.5l6.7 -5.7M118.7 391.7l26.5 -9.3M240.8 391.0l13.1 -6.1M293.6 398.4l3.3 3.7M156.4 425.4l11.6 -43.5M157.8 455.6l10.3 0.6M177.8 384.1l0.1 -0.7M153.3 408.0l13.6 1.9M243.7 385.3l3.5 3.0M115.6 386.5l17.6 -14.5M176.7 395.9l7.2 16.0M152.7 402.0l6.1 -7.6M299.4 389.3l8.7 5.1M235.5 478.0l2.6 5.9M182.8 416.5l4.5 -23.7M157.9 423.5l11.3 -9.4M170.6 431.5l18.0 -31.1M159.1 423.2l14.8 -28.9M240.7 423.8l7.3 5.3M174.8 413.1l4.9 -24.5M211.4 419.9l15.9 -9.7M277.6 435.5l15.9 -14.7M167.4 409.7l7.3 39.7M216.1 439.1l24.5 -7.0M281.6 398.6l2.7 9.2M158.8 393.2l1.0 14.3M126.6 377.7l15.1 9.6M177.0 383.9l1.6 -0.0M190.1 432.0l42.1 8.1M297.9 399.0l8.7 -4.5M151.3 442.1l18.1 12.7M189.6 431.9l18.3 -8.0M248.4 430.6l12.5 -13.6M248.8 436.0l21.7 -38.7M140.2 410.4l14.6 19.6M246.4 384.7l2.2 1.8M162.6 450.3l4.4 8.1M201.8 398.2l27.2 20.7M298.8 367.1l7.7 5.1M226.1 390.7l6.2 29.1M200.3 421.0l19.3 -8.1M262.4 467.9l6.8 -5.5M225.5 443.1l1.5 24.3M238.6 419.7l8.3 11.5M129.3 360.6l2.3 10.9M138.7 418.2l6.2 -2.8M283.8 401.0l3.8 -15.2M190.3 397.6l14.0 20.2M216.6 451.2l36.3 -30.6M97.1 377.5l2.4 -6.2M162.9 458.6l14.7 -10.0M299.2 352.9l2.0 0.2M256.9 453.5l14.3 -4.7M304.8 357.8l2.3 14.8M245.0 384.9l0.3 1.1M158.1 391.6l37.0 19.9M162.6 442.3l17.7 -8.7M285.2 405.6l6.4 -21.1M246.9 421.4l13.0 8.3M103.8 376.8l23.3 -11.8M156.0 392.3l47.7 5.6M160.2 458.7l3.6 -10.1M133.9 402.1l12.3 9.3M151.3 441.0l0.8 4.6M132.1 395.6l0.3 8.5M222.3 399.0l15.2 7.4M262.0 436.4l31.8 0.5M230.7 406.5l22.2 12.7M217.9 428.9l9.3 0.4M212.5 407.3l31.6 9.5M285.3 373.0l17.8 -1.8M245.7 387.9l13.1 12.1M265.1 415.5l0.2 10.7M187.5 416.8l6.7 14.8M151.7 444.2l2.6 -11.0M248.6 433.1l28.6 -30.2M105.6 380.6l24.6 -9.0M157.0 390.3l18.1 7.8M219.5 451.3l7.2 -11.3M240.2 420.6l5.1 -11.8M293.6 435.4l5.3 -2.5M241.5 407.4l20.8 -14.1M157.3 412.9l47.5 1.0M161.0 454.0l13.1 -14.3M236.5 401.3l5.0 23.8M248.1 433.8l10.6 -1.7M174.7 391.2l17.0 -3.2M151.2 442.8l9.4 5.6M275.5 388.4l21.7 -5.5M213.4 447.2l14.0 -43.4M167.8 446.1l11.6 6.8M183.5 401.7l21.1 -2.3M235.5 409.2l4.5 48.8M270.3 438.4l3.1 2.3M163.7 459.6l31.4 -38.4M134.6 408.3l6.4 -13.3M222.0 457.3l10.8 -10.6M245.7 469.5l10.2 -25.7M201.5 443.1l14.1 -38.7M151.7 435.0l12.2 -29.4M110.4 363.1l20.3 0.8M255.9 386.3l9.9 -2.7M136.7 412.2l5.8 1.1M276.2 369.3l0.6 6.5M174.5 421.2l12.1 26.5M244.4 461.4l14.3 -26.7M231.1 470.9l1.3 -9.1M108.8 388.5l1.2 -3.4M143.7 407.2l40.0 21.0M296.3 428.4l2.1 0.0M171.0 385.6l13.8 12.9M160.6 410.5l23.0 -1.7M182.4 433.9l6.7 -42.6M207.1 410.3l7.8 -9.3M164.2 394.5l17.7 -0.9M254.4 430.1l0.7 -25.1M300.6 352.1l2.2 0.7M162.2 436.7l18.9 -8.3M212.3 439.3l24.2 -15.9M203.9 455.7l0.7 -4.2M139.3 377.7l15.5 20.7M264.4 417.4l28.6 -22.8M254.7 407.5l35.6 -23.0M259.6 458.2l7.1 -39.4M231.2 395.0l41.7 26.4M289.2 359.4l3.6 4.4M242.2 404.9l26.0 -4.3M234.5 431.9l4.5 -12.2M133.6 407.2l9.3 1.1M166.0 390.4l40.1 24.5M180.3 451.9l38.2 -14.0M132.9 404.3l6.7 -11.8M205.5 427.5l30.2 -11.0M261.3 396.4l27.2 7.3M304.5 395.7l0.7 0.5M157.7 452.1l33.2 -7.1M287.5 413.3l3.8 -0.2M209.3 429.8l12.4 -7.2M256.9 388.5l10.7 -14.8M250.8 408.2l14.5 44.5M240.0 389.5l3.5 22.6M246.7 390.5l6.2 -6.3M152.5 393.6l6.8 -15.6M140.3 399.6l22.5 -18.9M279.7 368.9l4.0 8.6M213.1 415.0l22.6 20.4M229.2 468.9l12.3 14.4M139.2 414.5l7.7 -3.3M209.3 405.2l11.5 -12.9M283.9 364.5l7.7 1.6M306.1 392.4l0.9 2.1M198.4 399.5l16.3 -0.1M239.5 408.3l11.3 -0.5M196.6 411.3l2.7 31.5M118.2 394.2l7.0 -4.0M204.5 438.6l31.7 11.7M285.9 362.7l17.4 1.1M271.4 444.7l1.5 0.1M256.5 466.4l0.0 -10.9M263.1 412.3l19.6 -11.1M145.3 430.5l7.9 0.7M223.5 429.8l30.2 -33.4M124.5 377.7l12.1 -11.8M250.1 409.6l24.1 -26.0M143.0 428.0l11.6 -11.2M123.6 389.3l17.7 -12.8M240.4 430.7l18.8 24.3M131.1 385.0l28.7 -7.9M168.7 385.5l8.2 28.6M257.0 461.1l13.0 -7.2M155.9 384.7l37.5 11.3M282.4 381.7l16.2 -21.5M289.7 394.2l15.1 -33.2M103.5 378.9l8.9 -4.6M158.7 376.9l0.5 -1.3M199.2 417.4l20.5 22.1M293.9 366.8l7.2 -8.6M158.2 449.5l2.5 10.2M117.3 394.1l19.9 4.3M185.6 421.0l12.8 24.4M302.4 352.8l3.6 3.9M100.1 379.6l7.2 -12.0M192.8 440.8l15.6 -1.7M209.4 403.0l34.1 -2.9M155.4 384.7l11.6 30.3M171.9 426.1l21.8 -2.7M285.9 361.6l8.8 42.9M268.7 373.1l29.6 0.8M152.5 372.6l4.9 4.2M292.1 407.6l11.1 -35.2M144.3 427.5l46.7 -0.4M203.8 411.5l0.1 -17.3M143.2 426.0l15.1 6.6M195.9 428.6l1.9 19.7M261.9 376.9l7.6 12.8M178.1 405.1l47.0 8.2M181.4 430.1l34.3 -26.5M196.5 404.9l9.9 -13.9M224.3 446.6l33.1 25.9M265.2 374.3l1.5 2.2M165.8 458.4l2.0 0.7M293.9 441.1l0.9 -4.6M270.9 409.1l20.5 -31.0M220.2 422.2l21.4 -8.1M97.2 373.0l0.5 0.7M221.9 448.0l24.3 17.0M155.0 397.3l11.7 -17.6M236.7 481.7l8.7 -5.1M287.3 374.1l5.1 33.6M150.4 388.3l28.4 2.0M201.8 409.2l13.3 12.9M143.6 400.8l2.2 -9.9M166.6 405.7l5.6 34.4M172.8 416.9l18.8 -20.6M293.7 369.4l13.0 -2.8M236.2 416.5l42.8 20.3M273.1 383.6l29.7 3.9M242.8 386.9l14.1 15.7M239.2 414.7l12.2 -2.6M101.4 383.5l13.0 9.1M206.5 455.5l20.2 -6.4M237.3 453.6l5.5 -37.4M117.7 359.1l5.2 -0.4M177.2 444.6l41.3 -27.0M117.4 394.0l2.2 -2.7M181.2 414.2l43.0 -14.1M233.8 417.6l24.0 -10.8M178.9 389.5l23.4 9.6M157.6 456.3l1.3 -0.2M275.3 416.2l15.2 -6.3M172.0 435.4l14.9 14.0M243.5 477.1l11.5 6.1M173.5 455.3l26.3 -30.6M166.1 455.6l0.8 -15.3M250.3 383.6l16.2 6.0M161.5 419.1l31.4 24.7M240.8 443.2l26.7 -26.5M213.7 418.4l0.6 13.7M250.6 386.1l21.8 18.8M143.3 427.6l17.2 1.5M199.0 411.6l49.4 4.6M168.0 457.9l1.7 -7.2M236.2 434.7l12.3 20.6M147.3 399.5l9.0 1.1M168.8 450.0l9.5 -18.8M145.3 378.9l2.5 -6.5M258.1 457.4l12.6 -11.5M240.7 389.2l6.4 15.9M174.4 397.8l41.4 -7.6M215.5 425.4l0.7 17.4M145.5 415.7l41.8 -9.2M122.8 394.5l13.6 10.3M134.0 409.5l15.1 -17.2M208.7 435.2l2.9 -9.4M106.0 366.2l0.1 -1.7M114.6 379.1l32.2 18.6M149.9 424.6l24.9 -19.4M162.4 407.5l14.3 -14.4M154.9 436.0l9.5 -8.5M265.1 414.7l21.1 0.8M215.4 432.6l23.9 16.5M168.1 404.2l27.7 0.4M193.0 405.8l28.0 35.8M258.7 440.6l12.5 -10.0M230.8 435.8l19.5 18.8M169.4 403.3l18.2 46.2M108.3 381.6l0.6 6.6M202.6 390.6l2.7 5.8M186.1 454.6l1.5 0.4M135.5 411.5l7.9 1.1M217.1 445.7l1.0 -17.2M266.7 447.4l4.3 4.5M122.2 386.2l1.4 -14.8M158.0 379.9l8.1 13.5M229.0 430.0l2.0 9.6M209.5 395.5l9.8 15.8M139.8 371.7l9.3 35.1M102.7 381.2l8.2 -8.9M217.3 394.3l22.3 18.1M175.0 428.0l1.4 -9.1M95.1 377.7l9.3 -0.9M213.6 438.5l26.2 28.0M123.9 378.1l1.1 -9.1M281.0 407.9l2.7 -9.6M274.5 428.4l2.5 9.2M115.6 392.2l2.6 -3.8M117.1 373.0l23.6 2.6M197.7 404.5l9.6 -0.8M276.0 434.2l17.4 -6.1M285.4 373.5l21.1 -8.1M171.7 442.6l2.8 9.3M139.6 376.7l28.9 29.0M239.9 482.9l8.1 -12.3M237.6 475.8l30.3 -14.0M228.0 389.8l1.3 -0.8M142.8 396.5l13.1 9.1M265.4 376.5l21.9 3.9M194.5 444.8l4.4 9.2M173.6 397.9l20.0 -6.7M247.1 410.3l12.0 7.9" stroke="#8c8c8c" stroke-width="0.2" opacity="0.4" fill="none"/><path d="M172.9 384.2l11.0 -0.7M245.6 380.0l13.4 4.1M220.0 393.4l13.3 1.1M227.7 392.2l13.6 0.9M239.6 386.5l8.7 4.1M229.1 393.5l4.9 1.5M178.6 387.3l23.2 6.4M174.4 381.0l24.9 4.6M229.7 383.6l10.6 6.0M202.1 389.9l37.4 3.8M225.0 388.8l18.7 2.6M196.3 395.4l10.3 -0.3M186.9 396.7l10.5 -0.3M179.7 381.0l30.4 14.9M153.7 372.5l31.7 16.9M240.8 387.6l13.4 2.0M262.1 377.8l7.3 2.0M166.9 387.2l2.1 0.5M254.0 381.8l7.6 3.6M195.8 384.3l22.2 1.9M191.0 384.5l20.5 1.5M194.3 385.0l19.5 0.0M278.5 370.7l1.0 0.1M164.3 382.1l11.3 5.4M174.7 390.1l21.8 -0.4M231.6 391.3l15.7 0.8M253.9 384.5l14.0 -2.3M154.0 375.6l1.8 0.1M195.9 394.7l8.9 4.1M161.3 381.5l2.7 -0.3M252.6 384.6l7.1 1.1M214.4 385.5l15.5 4.9M253.8 381.7l7.7 2.3M256.5 374.6l20.8 -1.3M279.6 366.9l3.2 -0.3M181.0 395.1l2.8 1.4M168.0 379.9l31.5 10.7M208.1 384.9l11.3 3.8M154.4 374.1l3.9 0.3M157.8 374.1l6.7 3.5M159.4 378.5l19.7 8.6M176.5 386.1l11.6 4.6M279.8 364.3l3.0 1.7M270.0 379.6l2.4 -0.3M176.0 388.2l16.8 1.1M270.3 372.8l5.5 0.8M253.9 380.3l12.0 2.1M251.7 377.7l7.0 2.8M218.3 390.0l10.5 4.8M248.8 382.3l13.0 3.2M194.5 398.3l16.1 -1.0M169.5 389.5l1.5 0.2M184.7 396.5l16.5 -2.8M178.3 387.2l19.9 -2.0M210.8 384.1l7.1 1.8M174.2 386.4l10.3 4.5M249.6 377.6l1.4 0.5M209.0 385.1l29.1 1.5M214.6 393.5l7.3 4.2M234.6 382.7l20.0 6.4M250.6 377.8l23.5 -0.7M240.2 381.5l10.1 -1.0M203.3 384.8l9.8 4.9M225.3 386.1l20.0 5.2M239.6 381.9l7.8 3.2M231.4 382.7l9.3 4.2M274.8 374.8l1.5 -0.3M198.0 399.6l2.4 0.2M163.8 382.7l7.3 0.9M195.8 399.1l3.4 -0.1M179.9 395.3l24.6 0.7M242.8 380.6l10.5 4.8M158.5 378.2l27.2 7.3M177.4 382.8l29.9 1.5M177.3 393.5l16.4 -1.8M281.2 362.8l3.2 1.1M259.2 378.1l10.7 1.5M221.3 396.2l4.6 1.4M245.0 387.1l11.9 0.7M180.3 394.6l19.8 1.4M232.7 382.5l6.0 3.2M191.1 397.5l20.9 0.9M192.3 397.4l18.7 -2.4M194.5 391.8l34.7 0.3M198.9 399.7l11.4 -0.6M281.0 366.9l1.8 -0.3M165.1 385.1l1.8 -0.1M229.7 383.6l7.0 2.8M169.3 378.8l1.7 -0.3M243.0 391.6l4.8 0.8M254.1 376.2l5.9 3.3M205.2 391.6l10.3 5.7M182.6 384.6l10.8 -1.4M163.3 382.8l14.2 -1.8M155.9 373.3l10.7 4.5M266.0 376.7l6.9 0.9M256.2 381.5l8.6 0.9M232.6 385.7l15.8 -2.2M203.0 389.6l14.7 7.7M278.4 366.7l3.8 -0.1M179.3 381.2l10.4 5.2M183.3 383.3l11.8 0.3M175.6 391.3l21.1 6.5M193.2 396.9l10.3 2.4M169.4 389.7l1.0 0.0M233.3 382.3l7.7 0.4M239.5 394.2l0.7 0.3M152.5 373.2l2.7 0.4M239.9 380.3l10.0 2.1M171.9 391.5l6.0 -0.7M235.7 382.1l8.5 2.3M199.0 387.3l32.0 -0.8M248.7 388.4l8.3 -0.4M244.1 381.3l12.9 5.0M246.2 381.3l15.3 4.2M228.4 383.2l30.1 -3.4M172.9 379.5l0.7 0.1M273.8 365.3l1.1 0.4M198.7 395.8l26.1 -2.5M256.8 383.0l8.3 0.4M212.1 396.5l29.1 -4.2M170.5 386.0l30.3 4.0M175.0 394.0l21.7 0.2M211.9 394.6l14.8 -2.4M205.4 387.1l30.7 -0.5M226.8 386.6l10.4 6.0M160.6 380.8l2.3 -0.1M251.9 377.1l10.9 -0.8M165.1 379.4l5.8 -0.3M186.1 397.1l7.4 1.0M250.8 378.0l13.7 1.4M192.7 392.5l24.1 -4.1M247.4 382.4l24.6 -2.5M174.7 387.7l15.9 6.0M208.7 388.5l25.0 6.3M236.7 381.0l4.6 1.3M266.5 379.7l2.8 1.3M240.1 381.2l13.1 -0.0M232.8 387.6l11.5 4.4M258.6 373.9l15.0 3.3M281.8 363.1l2.7 1.3M204.4 391.9l30.0 0.8M213.2 385.7l37.8 4.5M247.0 379.9l8.4 3.9M168.5 387.2l20.6 5.6M205.1 387.0l36.9 3.9M216.7 385.2l37.0 0.9M179.4 393.6l38.6 -0.2M180.1 385.5l38.9 4.9M167.6 386.0l6.2 -0.1" stroke="#9a9a9a" stroke-width="0.22" opacity="0.5" fill="none"/><path d="M160.4 458.9l3.5 1.7M151.0 421.2l9.1 5.9M153.0 447.8l1.2 0.7M147.1 420.2l7.9 1.8M125.1 417.3l5.9 3.3M172.0 430.9l2.7 -0.4M157.2 453.4l5.0 -0.1M169.8 444.1l11.5 9.0M155.9 447.0l18.7 -2.2M143.8 432.6l11.6 -2.0M150.9 436.8l27.3 11.4M152.4 444.4l5.3 0.6M155.1 439.1l17.2 -1.7M177.8 443.2l8.7 11.0M156.1 427.6l6.9 8.3M172.9 442.2l7.8 12.9M177.0 433.1l11.5 6.9M133.7 415.7l9.1 12.3M141.6 421.0l11.2 0.7M174.5 443.3l22.8 4.1M159.3 426.9l7.7 15.9M161.2 442.1l12.6 14.6M177.2 444.3l12.5 -0.9M203.3 452.0l4.0 4.2M135.4 422.9l4.4 10.2M218.6 457.1l0.8 0.6M154.4 423.3l25.4 22.1M172.2 442.4l9.5 11.7M133.0 422.6l18.2 6.3M195.6 452.1l2.6 3.4M142.6 433.6l12.1 3.0M176.8 439.5l9.6 -0.7M137.2 416.8l11.1 6.0M165.9 442.7l27.6 5.9M189.4 448.4l11.3 7.2M151.3 420.9l10.6 8.9M157.1 445.9l22.3 -3.2M152.3 446.0l4.4 -0.3M133.9 415.8l1.3 0.6M170.0 453.7l22.6 -1.6M132.7 422.4l9.8 8.3M131.8 416.0l14.6 9.7M127.8 417.6l13.5 10.7M208.3 451.8l0.7 1.1M140.5 432.9l22.3 18.2M148.2 428.2l17.2 -1.4M212.4 455.2l3.8 2.2M149.7 441.5l12.6 16.3M137.6 425.5l16.2 22.8M185.9 444.2l9.5 9.6M169.9 437.8l21.6 14.5M154.5 442.9l11.8 6.2M171.7 436.2l21.7 12.8M159.9 448.4l8.9 8.4M137.8 418.0l7.7 11.2M173.3 447.4l18.7 4.5M181.6 443.7l4.6 10.5M129.7 419.2l16.0 11.5M134.6 415.8l1.1 1.1M163.8 454.1l21.5 -3.1M191.9 446.6l14.2 4.5M156.2 428.3l12.2 0.8M156.7 453.9l1.0 0.8M146.1 438.1l2.6 -0.2M136.4 426.3l24.7 16.4M155.4 422.1l0.6 0.7M125.5 414.6l32.1 14.1M157.4 448.9l14.6 7.7M141.9 427.8l8.4 9.3M136.1 427.5l27.1 2.8M145.8 419.4l2.2 3.3M130.1 422.3l18.1 10.7M199.8 455.8l10.7 -1.6M144.2 435.1l20.2 -3.4M135.1 427.5l12.7 0.9M140.5 419.0l4.0 10.6M168.8 453.0l1.5 4.2M200.3 448.2l1.7 1.6M165.1 428.9l9.4 18.8M158.0 454.5l4.4 0.3M152.9 440.9l21.3 0.0M165.8 444.7l22.0 9.2M202.3 456.2l1.7 0.0M150.3 428.7l7.3 10.5M176.5 438.6l34.4 17.5M138.2 432.0l3.1 0.7M212.6 453.9l0.6 1.4M150.5 436.8l22.2 -0.6M156.3 424.3l3.4 -0.2M179.2 436.4l21.9 12.4M158.8 457.6l6.1 -0.6M137.9 429.7l31.9 7.8M143.1 432.5l18.6 15.0M179.9 455.4l0.4 0.7M184.6 439.0l4.6 8.9M157.4 451.1l20.6 1.7M157.3 423.1l2.1 5.6M132.8 424.4l30.5 4.4M122.8 414.2l12.3 7.3M124.8 415.8l13.9 4.4M219.8 457.7l1.2 0.0M194.9 448.4l5.7 5.9M162.6 452.3l6.0 6.4M137.9 425.3l29.5 3.8M139.7 419.2l19.2 25.8M169.7 442.6l8.7 12.7M188.8 453.9l1.1 1.6M133.0 416.3l7.6 7.0M147.3 439.2l11.0 4.7M133.6 419.1l6.1 8.8M156.8 449.9l5.4 8.8M150.5 426.3l25.3 17.4M152.6 425.3l16.9 25.3M128.4 416.5l22.6 4.7M157.3 450.8l4.3 10.3M154.0 447.2l7.2 4.2M160.9 433.6l20.5 20.4M158.7 439.6l10.0 12.7M157.1 423.3l1.3 2.9M165.4 459.6l1.0 1.3" stroke="#9a9a9a" stroke-width="0.22" opacity="0.5" fill="none"/><polygon points="113.8,357.2 128.0,359.5 143.0,370.0 160.0,385.0 177.5,400.0 186.0,406.5 192.0,411.0 180.0,419.0 162.0,421.0 148.0,418.5 128.0,396.0 105.0,386.0 93.2,378.5 96.0,374.0 104.0,368.0" fill="#c2c4da" opacity="0.92" filter="url(#b1)"/><path d="M125.7 359.8l8.5 5.5M137.7 378.8l13.0 9.1M152.1 391.1l16.1 7.8M130.4 397.4l17.0 16.6M143.8 384.2l20.9 10.8M107.7 377.7l9.9 7.4M130.4 371.4l17.3 12.8M147.9 414.7l7.4 5.0M162.9 390.0l8.7 5.1M113.1 360.2l4.9 3.5M170.4 403.8l14.5 11.0M111.1 360.5l21.6 14.5M142.1 375.0l19.0 17.8M150.6 380.8l22.3 17.2M139.6 371.9l7.9 6.2M114.2 368.3l16.8 10.0M150.2 401.4l13.7 8.8M164.8 413.4l5.6 5.1M119.9 362.9l15.0 11.4M136.4 382.4l19.6 15.0M158.0 396.5l12.9 11.5M138.3 383.7l6.9 6.8M116.6 372.6l24.8 13.0M124.6 387.0l24.7 14.2M96.6 373.5l0.7 0.5M123.8 371.8l14.2 9.8M143.7 388.4l13.0 10.8M100.9 374.0l8.0 5.2M119.5 389.3l7.3 5.5M130.1 361.5l11.4 8.3M174.9 415.7l5.4 2.8M168.4 399.4l19.2 12.6M179.5 408.7l5.1 4.8M136.4 372.1l12.4 8.7M139.2 377.8l16.6 14.1M114.6 366.4l12.0 6.9M123.9 379.8l22.6 19.1M116.5 374.2l5.0 3.6M139.4 386.6l25.1 16.1M101.8 370.9l3.9 3.3M104.8 368.4l9.1 6.7M152.8 389.1l17.0 9.5M115.2 370.7l21.2 12.3M159.9 411.8l5.8 2.9M145.3 408.1l14.7 10.7M126.0 386.4l14.8 13.9M175.1 402.5l10.8 7.6M139.5 380.6l10.2 7.7M140.0 378.2l14.1 13.5M140.8 376.9l10.3 7.0M130.5 370.7l13.2 6.6M119.3 370.7l10.5 7.6M134.7 368.4l17.5 12.6M143.0 387.5l12.9 11.8M176.2 414.7l4.7 3.1M138.3 401.3l14.7 11.1M153.1 400.4l22.6 18.7M179.9 402.5l2.0 0.9M167.5 392.3l2.3 1.2M127.9 362.5l11.3 8.9M166.7 405.3l16.8 9.1M154.1 383.9l9.3 6.4M146.9 399.8l12.0 10.0M141.1 371.5l12.9 10.1M127.9 361.0l6.0 2.9M122.8 368.5l11.6 8.8M156.0 398.9l8.6 8.5M132.5 367.3l23.4 15.3M111.9 378.5l12.3 11.5M170.4 397.7l13.5 11.0M149.5 405.9l19.9 13.0M155.2 383.5l13.4 11.4M120.2 374.2l15.4 12.4M114.8 362.6l13.7 9.0M158.4 397.7l7.2 6.8M144.7 384.8l6.0 4.5M109.2 362.4l25.1 13.6M115.5 371.3l20.5 18.8M186.1 410.8l2.5 2.0M111.7 369.0l18.6 15.9M109.4 378.2l9.3 5.7M112.4 367.8l23.6 16.1M159.7 396.7l19.1 13.4M155.0 400.1l22.7 16.4M116.8 384.5l15.5 11.3M170.5 408.0l12.1 6.6M132.8 376.6l24.7 12.8M118.2 374.8l13.4 6.7M125.3 381.5l8.2 4.1M108.7 381.2l14.9 9.4M185.3 407.2l5.4 3.9M166.9 396.9l14.0 6.7M101.7 371.2l18.1 10.3M160.4 411.5l6.1 4.3M105.0 367.9l1.8 1.1M135.8 404.7l9.5 5.2M133.7 381.9l18.2 14.1M186.1 407.2l4.3 3.4M108.7 366.5l7.4 6.6M102.6 370.9l7.7 7.3M144.5 397.3l8.5 7.0M99.4 379.0l17.8 9.2M104.6 374.4l11.9 11.7M115.3 361.0l7.7 5.9M108.9 364.8l3.6 3.0M113.8 372.4l16.5 9.7M109.0 362.7l3.1 1.5M167.9 406.9l14.6 8.6M117.4 366.1l15.7 8.8M141.1 382.6l14.9 12.6M129.8 361.3l15.9 13.8M132.6 401.0l12.9 6.9M146.4 396.9l21.2 12.4M146.0 397.2l6.2 3.5M151.8 409.3l8.7 5.1M127.0 363.2l15.3 8.9M107.9 385.5l5.0 3.6M148.1 383.1l20.7 20.2M141.4 372.5l6.7 4.0M156.5 396.2l9.9 5.9M102.6 369.3l3.2 2.0M106.6 381.7l5.8 4.1M118.9 371.9l11.7 11.7M118.5 375.7l8.5 5.1M116.8 366.4l22.4 10.8M111.8 364.7l21.8 19.6M170.0 403.1l11.7 5.5M110.0 365.4l8.3 6.7M155.4 416.6l7.1 3.6M137.5 392.5l18.8 9.2M158.1 389.6l23.2 18.1M172.5 401.2l5.3 3.4M113.4 358.2l1.0 0.5M116.6 364.2l22.1 20.3M128.3 382.7l21.2 12.9M164.9 395.3l8.0 4.0M170.8 417.2l4.1 2.4M163.2 410.1l9.7 5.1M108.6 376.5l23.1 17.3M170.3 410.5l12.0 6.8M156.5 419.0l1.6 1.1M157.9 420.0l0.8 0.5M151.7 399.0l12.7 8.2M102.0 370.1l2.0 1.1M128.4 383.7l19.4 17.4M133.4 384.4l10.4 5.5M106.7 371.5l9.9 7.1M112.3 360.5l15.0 7.4M123.4 379.2l26.2 13.7M96.0 374.6l3.0 2.1" stroke="#4a52b8" stroke-width="0.32" opacity="0.5" fill="none"/><path d="M160.3 390.9l4.9 5.3M116.4 370.8l11.6 7.8M155.8 417.5l2.7 2.3M143.7 384.8l19.7 8.0M113.9 376.0l10.5 1.4M114.6 376.4l9.7 6.9M124.8 360.1l13.4 8.9M181.9 410.6l2.7 4.4M98.6 380.4l12.7 1.9M160.5 414.5l12.6 3.7M153.0 386.4l18.1 11.2M140.7 375.1l11.4 19.1M124.3 376.9l17.0 7.6M151.4 391.3l15.1 11.1M158.7 399.6l6.1 8.3M149.9 408.2l9.2 2.8M182.2 409.8l6.5 0.9M167.3 410.9l5.8 2.5M177.1 415.7l3.5 1.9M103.6 370.6l8.3 3.5M118.9 383.1l7.7 1.2M133.6 386.2l14.4 14.1M113.4 364.2l10.1 2.5M166.7 402.7l13.5 9.5M162.7 394.2l8.7 1.5M111.9 384.6l2.6 5.2M124.5 393.8l1.1 1.1M130.5 386.0l3.4 6.1M123.6 385.8l4.4 9.0M147.7 388.9l23.2 8.5M128.5 381.5l13.5 4.2M137.9 370.2l13.6 10.6M159.5 398.9l18.7 4.9M95.5 375.1l4.0 0.4M153.4 385.6l10.8 12.3M131.5 396.0l16.5 2.6M159.3 392.7l12.8 20.7M150.2 391.4l12.0 7.9M152.3 378.2l0.8 1.0M128.8 382.0l14.8 16.1M170.9 401.4l5.7 2.0M134.2 401.9l11.6 7.1M124.8 386.6l7.9 3.0M102.9 370.2l9.7 11.1M110.8 365.0l7.7 15.2M135.8 371.1l8.5 10.6M123.0 365.2l5.8 6.2M145.9 384.0l14.2 3.1M168.7 404.9l11.5 3.1M157.7 418.6l2.5 1.8M104.6 368.4l1.3 1.9M107.3 380.7l18.6 2.1M97.2 375.0l6.8 1.3M110.4 373.1l3.9 6.0M137.4 386.4l8.5 3.5M125.8 368.5l9.4 10.3M145.4 386.1l16.0 17.5M145.7 399.2l5.8 4.6M128.3 377.2l12.3 20.2M135.0 402.8l1.6 2.7M158.6 389.9l7.9 6.2M119.6 370.6l2.8 5.8M109.3 362.6l11.0 15.2M119.4 359.7l8.5 8.6M154.1 400.7l5.0 4.3M165.4 411.0l12.8 3.4M163.0 408.2l21.9 5.6M181.2 405.5l4.2 7.2M133.1 399.8l1.7 3.5M119.0 370.1l16.9 4.9M160.5 390.7l12.4 10.1M139.9 389.0l12.9 20.8M134.0 393.4l15.7 7.2M102.1 369.9l0.9 1.0M179.7 402.7l1.2 0.1M148.8 388.5l3.8 5.4M136.7 397.0l9.2 19.0M149.2 386.8l14.2 9.9M131.4 374.3l11.6 14.2M135.8 379.7l14.2 18.5M124.3 375.1l14.0 13.1M138.6 378.8l6.9 14.2M143.1 397.8l14.6 7.1M121.2 362.8l22.4 8.3M149.6 382.9l13.1 17.6M142.4 377.1l8.4 1.3M99.1 378.0l4.0 5.9M105.2 383.2l5.5 5.2M174.6 407.4l14.3 4.1M110.1 371.2l6.6 7.4M121.1 375.8l7.7 1.6M128.5 359.9l2.0 2.8M98.6 377.2l4.3 7.3M127.9 392.3l22.8 3.8M136.7 372.1l8.4 6.8M146.7 373.5l0.4 0.0M139.3 397.6l9.0 3.3M142.2 396.4l16.3 12.3M118.0 388.5l13.3 3.2M151.4 393.9l13.6 14.2M145.3 375.0l3.4 0.3M163.4 396.3l9.8 1.2M156.4 412.5l5.7 8.5M129.3 386.5l20.3 9.1M122.3 381.3l8.9 7.9M175.8 407.2l7.4 9.6M150.4 400.4l17.4 2.6M119.7 365.0l11.7 1.1M135.9 386.4l5.8 4.8M134.2 401.8l1.9 3.2M113.9 389.4l0.5 1.0M110.3 375.5l23.1 9.3M120.2 384.8l21.8 3.9M110.6 371.4l12.6 1.7M187.4 411.7l2.7 0.3M168.1 405.3l6.2 5.1M151.5 388.5l17.0 11.5M102.8 373.3l16.9 15.7M113.2 379.7l11.9 8.8M99.1 377.1l3.8 6.9M176.7 411.6l6.8 4.9M148.0 416.5l7.1 3.1M140.1 387.4l17.4 15.1M139.0 389.0l10.5 6.5M135.3 368.2l9.0 4.9M110.1 384.0l10.5 2.3M125.7 380.2l9.4 0.8M131.8 394.0l8.7 1.6M115.2 376.9l13.6 17.5M107.2 369.3l13.5 9.8M143.2 382.8l6.7 8.5M133.3 395.7l5.7 9.2M120.9 384.4l14.7 5.7M170.1 410.3l10.5 7.1M169.2 405.1l5.2 6.5M153.0 412.3l6.1 3.7M142.2 377.3l8.3 1.1M96.1 375.0l7.1 8.9M133.2 395.3l3.3 6.3M145.3 387.1l7.9 15.5M115.5 363.2l7.2 5.7M108.0 367.0l6.6 6.6M106.1 376.8l12.5 8.2M142.7 399.1l17.8 4.4M116.7 370.6l6.2 5.5M107.1 369.1l13.9 14.5M127.5 359.6l1.4 2.9M112.1 361.8l16.8 9.0M142.3 376.6l10.9 2.5M190.8 410.5l0.8 0.2M151.9 385.0l14.8 8.5M109.9 362.8l5.3 7.2M102.1 372.7l5.6 10.8M107.5 379.7l7.1 5.5M122.4 358.7l0.9 1.7M131.3 378.1l17.2 13.5M147.9 417.1l4.9 2.1M136.0 398.8l13.3 2.5M140.4 403.0l17.7 7.8M159.9 404.1l11.4 5.1" stroke="#7a7c90" stroke-width="0.25" opacity="0.5" fill="none"/><path d="M143.9 377.1l13.8 9.5M120.8 366.2l8.1 5.7M124.8 364.2l10.0 5.9M115.8 372.6l10.1 7.1M125.7 364.6l9.9 7.0M129.0 371.6l13.2 7.1M114.4 364.3l2.1 1.8M125.1 367.4l9.1 7.5M148.3 380.2l5.0 2.9M174.6 399.8l0.5 0.3M123.6 371.2l20.3 13.2M140.1 383.2l16.6 10.5M157.5 389.6l7.8 6.4M153.5 394.0l4.4 3.5M161.0 394.6l8.2 7.5M144.8 383.0l5.8 3.3M171.4 402.3l1.6 1.3M161.1 389.7l6.9 5.4M120.5 368.2l7.6 5.2M125.0 368.3l6.8 4.0M134.8 375.2l8.2 4.6M120.8 368.1l5.7 5.0M158.0 390.3l10.7 9.1M133.2 373.5l12.1 9.2M118.9 374.9l20.1 12.0M116.2 373.1l6.3 3.9M143.4 378.2l10.0 7.2M120.3 368.5l8.7 6.2M126.9 376.3l12.8 11.5M172.8 399.6l4.1 2.1M157.1 386.7l14.5 11.6M119.5 364.1l0.7 0.5M127.0 364.6l9.6 8.5M151.5 384.2l13.4 9.3M120.6 364.2l8.2 4.6M149.6 386.0l11.3 9.1M121.4 376.7l15.5 9.1M133.2 379.9l7.9 5.1M147.7 390.8l7.1 4.6M144.2 382.6l17.6 12.7M144.2 381.6l10.5 6.1M131.4 372.2l8.1 4.9M111.6 367.4l8.3 4.3M119.5 363.9l0.9 0.5M125.7 373.6l19.0 14.4M155.4 392.1l9.0 6.8M142.7 382.4l17.0 11.1M149.1 381.6l11.9 7.2M128.8 366.8l17.0 11.0M152.9 384.5l9.6 8.7" stroke="#ffffff" stroke-width="0.6" opacity="0.55" fill="none"/><polygon points="132.0,387.0 152.0,396.5 176.0,409.5 174.0,414.0 150.0,402.5 131.0,392.0" fill="#5a60bc" opacity="0.6" filter="url(#b1)"/><path d="M165.4 407.7l8.3 3.4M161.4 406.4l10.2 4.7M149.1 400.2l8.4 4.0M134.2 389.7l15.8 8.6M156.6 402.6l9.0 4.2M148.0 398.8l16.2 10.0M147.6 395.0l10.7 6.9M138.4 390.0l7.0 4.7M138.4 393.7l13.5 5.9M151.6 402.5l17.3 7.4M166.1 405.3l8.7 6.5M141.0 392.7l11.3 4.6M138.0 395.4l5.4 3.3M156.3 401.6l7.3 3.4M143.0 396.7l17.7 7.6M138.9 395.5l5.7 4.0M142.3 395.5l10.5 7.4M133.7 391.5l5.4 2.8M163.7 406.9l9.7 4.9M146.6 394.2l7.8 5.2M169.4 407.6l5.0 2.2M141.5 393.4l11.6 6.3M148.6 397.5l5.9 4.0M141.4 397.4l11.3 5.2M140.1 391.2l8.4 5.8M154.5 403.9l14.5 6.8M131.9 389.9l2.6 1.9M142.5 394.3l15.5 7.0M142.9 394.5l8.9 4.3M145.4 396.5l8.9 6.3M154.9 398.2l6.9 5.2M136.6 390.4l6.2 4.4M172.3 409.6l2.6 1.2M145.8 398.9l14.4 6.4M170.7 409.6l3.4 1.9M137.3 389.5l0.7 0.5M139.4 393.6l14.3 6.7M145.4 396.6l8.1 4.7M147.3 394.3l3.9 2.6M163.6 406.8l10.1 5.5" stroke="#3a40a8" stroke-width="0.35" opacity="0.55" fill="none"/><polygon points="113.6,356.6 128.5,359.0 136.0,363.5 134.5,367.0 124.0,363.5 114.0,361.5" fill="#2a2e9e" opacity="0.95" filter="url(#b1)"/><polyline points="114,357.8 128.5,360.3 137,365 150,376.5 165,390 178,401 186.5,407.5 191,411" stroke="#2e32a2" stroke-width="1.8" fill="none" opacity="0.9" filter="url(#b1)"/><polyline points="113.5,358 105,366 96,375" stroke="#2e32a2" stroke-width="1.8" fill="none" opacity="0.85" filter="url(#b1)"/><polygon points="93.2,378.5 95.5,374.5 100.0,373.0 117.0,378.5 135.0,386.5 152.0,397.0 150.0,401.0 134.0,391.5 116.0,384.5 102.0,383.5 96.0,382.0" fill="#2e32a4" opacity="0.92" filter="url(#b1)"/><path d="M135.0 387.8l2.4 0.5M107.8 375.7l3.4 2.3M110.5 382.6l5.4 0.8M111.8 379.8l5.4 1.3M95.9 374.4l1.6 1.3M128.5 389.2l0.8 0.5M94.0 379.0l10.4 4.2M138.9 392.5l8.2 4.6M142.0 394.9l4.9 1.0M102.7 374.1l5.9 4.9M98.5 373.5l0.3 0.1M139.2 392.2l7.0 4.3M139.1 389.1l2.6 1.7M133.4 388.4l3.4 2.5M131.3 388.6l5.2 0.6M98.7 374.0l3.2 1.6M102.8 378.3l9.4 1.8M145.2 394.7l2.5 1.7M108.2 377.0l4.1 3.5M115.5 378.2l2.0 1.4M112.3 378.3l4.3 2.0M125.3 386.2l5.5 3.0M95.7 381.5l0.8 0.4M140.3 390.1l2.4 1.8M142.0 396.2l0.4 0.1M138.9 393.4l9.2 5.1M143.5 396.8l5.9 1.3M101.9 382.0l3.5 0.9M141.6 391.8l3.9 1.3M110.1 377.1l6.0 4.4M116.9 379.5l2.9 1.9M95.2 377.0l4.2 3.0M98.3 378.9l3.0 1.8M139.6 389.7l0.8 0.2M145.1 394.8l4.1 0.6M142.8 392.8l2.8 2.1M117.2 381.6l9.1 6.1M127.4 385.9l4.5 4.2M141.3 391.8l3.9 2.2M133.1 387.8l5.9 4.0M94.3 379.5l2.3 1.3M96.4 378.7l10.3 4.4M96.3 376.7l2.8 1.9M112.4 379.8l9.6 5.4M116.9 383.1l6.9 1.6M102.9 377.9l9.3 2.1M96.2 377.9l3.3 1.5M129.6 389.2l1.8 1.3M138.2 392.3l4.9 1.3M123.0 385.9l2.6 1.8" stroke="#1e2290" stroke-width="0.5" opacity="0.8" fill="none"/><polygon points="128.0,390.0 140.0,395.0 152.0,402.0 160.0,410.0 150.0,412.0 138.0,404.0 126.0,396.0" fill="#4a50b4" opacity="0.6" filter="url(#b1)"/><polygon points="146.0,404.0 158.0,411.0 174.0,415.5 188.0,416.0 186.0,420.5 168.0,421.5 152.0,417.0 142.0,408.0" fill="#3438a8" opacity="0.85" filter="url(#b1)"/><path d="M163.3 418.7l9.1 0.5M145.9 406.0l5.0 0.9M177.8 420.2l1.7 0.5M152.0 415.1l4.4 0.5M146.9 412.4l7.3 1.6M149.9 414.4l3.8 2.0M152.7 415.0l5.7 0.4M152.9 413.5l9.0 4.1M151.8 412.0l6.7 3.8M183.0 415.9l4.6 0.6M149.8 410.8l4.0 1.7M167.0 416.4l6.9 2.9M168.9 419.4l5.8 1.3M159.1 418.9l5.3 0.8M145.5 409.4l10.2 1.9M156.4 416.7l12.9 0.3M153.2 416.1l3.7 1.6M176.9 415.6l5.8 1.2M156.9 414.4l9.2 5.2M148.3 413.5l1.0 0.3M152.1 409.2l9.4 3.6M162.3 414.2l4.9 0.6M158.4 411.8l7.4 3.0M164.1 419.8l4.3 1.0M154.8 415.5l10.5 1.3M151.3 415.7l2.4 0.0M149.2 409.5l4.4 2.5M167.8 418.0l7.6 0.5M153.5 415.1l10.8 0.9M143.3 407.4l9.2 1.9" stroke="#2a2e9a" stroke-width="0.45" opacity="0.7" fill="none"/><polygon points="302.7,351.8 305.0,355.5 303.0,362.5 297.5,372.7 289.0,386.5 280.0,394.0 268.0,402.0 255.0,409.0 240.0,416.0 225.0,421.0 214.0,423.0 220.0,416.0 236.0,404.0 248.0,395.0 258.0,386.0 268.0,377.0 278.0,369.0 290.0,360.0" fill="#ee7068" opacity="0.72" filter="url(#b1)"/><path d="M297.7 367.6l4.8 -4.7M267.6 394.1l11.4 -12.0M264.4 391.8l10.8 -8.3M275.2 389.2l5.8 -5.5M274.7 374.0l10.2 -5.9M303.8 356.6l0.9 -0.6M275.4 394.2l10.8 -6.9M244.0 403.7l8.8 -9.4M260.3 384.6l8.8 -5.7M255.8 405.9l25.2 -14.6M232.2 409.4l9.9 -9.3M223.4 417.4l5.5 -3.5M293.9 358.5l8.4 -4.6M286.9 385.6l6.7 -7.0M244.3 401.2l20.9 -16.2M256.6 407.0l11.6 -11.1M233.9 417.7l4.9 -2.8M220.5 419.2l14.4 -11.4M271.6 386.8l6.1 -3.7M282.5 388.3l8.5 -6.0M237.2 408.0l23.2 -14.9M245.7 397.1l18.3 -12.9M255.5 399.2l12.0 -12.1M258.2 407.2l2.8 -2.5M248.4 402.2l19.4 -11.4M219.6 416.8l2.7 -1.5M267.2 382.9l13.9 -7.7M217.8 421.7l11.4 -9.8M270.6 379.7l12.2 -9.5M278.0 381.9l19.1 -15.5M259.5 403.4l9.8 -6.7M265.2 379.7l3.4 -2.3M274.9 384.7l19.8 -11.4M259.5 403.3l13.8 -9.6M250.8 396.9l12.7 -6.8M280.1 381.7l5.6 -5.4M241.8 411.4l21.0 -13.9M278.7 379.9l13.2 -12.3M277.4 373.1l7.7 -4.4M260.3 399.3l16.8 -16.9M225.1 417.7l5.6 -5.3M254.2 400.8l17.2 -9.5M275.4 383.3l14.2 -12.7M269.8 400.7l10.5 -11.6M294.4 372.3l4.9 -4.0M267.1 394.6l10.4 -11.5M225.5 417.6l8.3 -5.6M287.8 376.7l10.8 -6.9M303.3 355.4l1.0 -0.9M283.7 388.7l9.5 -10.2M220.7 418.3l18.7 -13.8M238.7 402.6l10.4 -5.6M291.6 377.3l4.8 -3.7M256.9 404.6l12.7 -8.2M256.3 388.5l8.1 -6.5M270.0 397.1l7.7 -4.7M235.0 408.4l17.9 -10.5M289.5 385.3l0.9 -0.9M288.4 383.3l4.4 -3.3M220.8 416.5l7.9 -4.9M263.3 399.8l9.3 -6.1M262.7 389.0l25.4 -13.8M280.8 373.9l19.3 -19.8M303.3 355.4l0.9 -0.7M240.1 403.4l20.5 -16.4M300.0 365.5l1.6 -1.0M248.7 411.3l13.2 -8.3M273.3 380.7l7.3 -4.9M288.6 384.8l3.8 -3.9M268.6 399.0l19.3 -18.5M241.7 415.2l0.6 -0.5M302.3 360.2l1.3 -0.8M265.1 389.4l7.7 -7.4M249.3 411.5l4.5 -3.0M256.3 397.2l11.5 -6.3M282.3 375.0l19.5 -12.3M269.4 378.0l20.1 -10.9M300.7 359.9l3.2 -1.9M226.6 418.1l11.5 -12.4M286.0 372.4l8.7 -7.4M226.6 411.2l7.2 -4.5M252.5 403.5l15.8 -11.4M262.4 396.2l22.2 -18.4M243.0 399.2l11.4 -6.3M283.3 373.5l5.6 -3.2M220.6 418.9l11.3 -11.1M285.3 370.2l6.8 -3.7M282.9 369.1l15.5 -13.1M255.3 389.3l23.0 -17.0M293.5 373.6l4.1 -2.2M239.7 409.8l20.2 -13.8M276.6 373.3l12.1 -8.4M299.7 362.6l3.8 -4.0M248.6 396.9l5.8 -4.7M226.1 414.7l16.2 -12.8M294.7 359.9l6.5 -5.7M235.3 411.1l23.4 -12.6M286.3 373.0l13.8 -14.7M301.8 354.9l1.5 -1.2M282.7 384.0l17.6 -19.1M267.7 393.3l22.1 -13.3M264.7 388.4l24.3 -14.1M285.3 388.5l5.9 -5.9M241.8 412.2l18.0 -12.0M287.8 385.2l3.4 -3.0M247.5 409.1l8.6 -9.4M286.0 382.8l6.6 -3.7M265.1 391.5l5.0 -5.4M253.4 402.3l7.9 -8.0M232.3 418.3l4.5 -3.3M253.8 393.8l18.4 -10.9M293.5 358.0l5.8 -4.0M243.9 406.0l7.5 -6.3M274.5 379.4l18.9 -15.9M223.2 414.9l13.5 -9.9M290.8 364.5l9.1 -8.4M277.8 384.3l9.4 -10.2M253.8 390.0l8.8 -5.4M264.7 380.5l8.4 -6.0M286.0 374.2l6.7 -6.0M268.4 385.3l15.1 -10.9M297.2 370.0l1.9 -1.2M259.9 405.4l9.0 -9.9M289.0 362.7l10.8 -8.8M245.1 413.3l6.4 -5.3M231.7 410.4l9.9 -10.6M221.6 417.7l10.3 -7.7M248.4 408.5l10.7 -6.7M285.1 377.8l19.0 -19.4M274.3 379.9l21.0 -18.2M289.9 362.4l5.3 -5.3M264.8 398.3l11.6 -11.4M226.0 418.3l14.0 -10.8M231.1 416.9l23.6 -16.9M259.8 384.4l1.9 -1.1M302.7 357.5l2.0 -1.8M273.3 385.9l10.9 -11.4M272.4 398.2l6.5 -7.1M240.8 411.3l11.0 -6.6M278.1 389.8l18.2 -17.5M253.2 399.4l8.7 -7.1M257.4 389.2l20.9 -15.6M233.1 413.5l13.4 -8.6M257.6 398.3l23.2 -13.1M254.3 403.2l9.4 -9.0M245.7 408.6l9.1 -5.0M292.8 368.1l5.7 -5.3M249.6 395.9l16.8 -15.9M294.5 366.7l7.9 -7.3M257.3 392.5l11.1 -10.3M254.7 405.4l19.6 -16.6M249.9 407.1l16.7 -14.2M243.8 399.6l7.7 -4.8M268.4 377.8l10.0 -5.5M224.9 420.6l3.6 -2.8M232.6 418.1l2.3 -2.5M256.8 398.0l17.0 -13.9M254.3 389.4l1.6 -1.2M274.2 386.5l20.6 -19.7M260.5 397.4l13.3 -13.8M221.8 421.2l6.0 -3.6M266.0 389.7l14.8 -14.9M259.9 394.6l15.6 -11.4M217.6 420.5l11.5 -9.2M224.0 416.2l19.7 -14.0M245.2 413.6l0.4 -0.5M240.4 406.8l12.1 -10.9M258.6 390.5l9.6 -6.2M262.2 397.5l23.3 -13.8M234.4 414.7l10.5 -8.7M216.5 420.2l20.1 -13.8M274.8 374.8l7.7 -4.4M222.7 419.6l12.6 -10.1M225.2 413.5l23.5 -16.0M235.9 417.1l8.9 -5.3M267.6 399.1l15.0 -11.2M254.4 409.2l5.5 -3.2M273.4 385.5l18.3 -10.9M247.4 397.7l24.3 -15.7M253.2 390.5l4.3 -3.2M248.4 408.4l18.1 -13.2M295.7 374.6l0.8 -0.6M265.5 401.3l5.6 -6.0M246.7 411.8l12.8 -12.8M298.1 365.2l4.7 -3.6M266.4 382.1l9.8 -7.2M295.8 374.4l1.6 -1.6M254.8 408.9l1.9 -1.6M266.2 378.7l2.2 -1.5M282.4 385.4l10.9 -7.7M251.8 398.8l7.5 -7.8M217.2 421.5l10.6 -10.1M264.6 387.4l8.4 -6.4M291.2 359.8l4.8 -3.6M285.4 386.0l6.5 -4.9M283.6 368.5l9.4 -6.5M229.2 419.6l5.8 -3.5M263.9 387.7l8.7 -6.3M287.9 365.4l7.5 -7.6M287.9 374.0l9.8 -9.3M241.8 402.1l18.6 -10.6M288.0 376.9l7.6 -7.9M270.9 393.1l10.4 -5.8M272.0 376.4l17.3 -11.2M259.8 403.0l7.0 -4.7M243.8 411.3l8.4 -6.1M275.6 391.9l15.4 -8.8M271.3 391.0l6.9 -3.9M257.8 396.6l8.3 -6.4M288.6 379.9l10.7 -10.9M270.4 376.8l7.1 -6.9M265.4 402.7l4.8 -4.7M297.9 366.6l4.0 -3.3M255.2 406.8l17.0 -17.3M292.6 377.5l4.8 -4.8M278.0 383.3l14.6 -9.8M247.4 408.3l23.0 -16.5M221.3 421.6l1.9 -1.1M259.0 387.9l9.2 -5.0M278.1 370.9l23.8 -14.2M222.9 414.2l11.8 -7.0M278.7 393.1l11.1 -8.4M245.4 408.5l17.6 -17.6M266.9 396.1l10.2 -9.1M303.5 358.9l0.6 -0.3M235.1 409.6l6.7 -5.6M217.2 419.6l1.8 -1.0M222.9 420.8l21.5 -19.6M294.8 369.5l4.9 -2.9M244.1 409.0l8.8 -5.6M224.0 419.6l10.6 -7.3M275.8 391.8l14.1 -9.6M240.9 413.5l7.8 -6.3M257.9 406.2l16.0 -15.4M245.8 401.2l10.7 -7.1M227.6 419.7l2.2 -2.4M273.6 391.8l7.5 -5.5M273.3 378.8l24.4 -16.3M279.0 377.5l22.6 -18.2M292.9 376.0l4.6 -5.0M272.8 382.3l9.8 -7.7M255.0 390.9l10.4 -8.0M263.1 404.7l0.9 -0.7M274.4 388.1l19.7 -14.5M238.1 410.6l13.8 -8.2M258.0 387.4l21.9 -13.9M260.9 401.9l17.0 -14.5M253.0 396.4l15.7 -16.4M248.2 399.2l6.6 -4.3M294.0 373.1l4.2 -2.9M251.0 397.6l12.4 -6.9M223.2 419.7l9.2 -10.1M239.8 413.2l7.7 -4.6M245.0 401.2l17.7 -19.1M288.8 360.9l4.3 -2.6M241.9 408.6l7.7 -5.4M266.8 396.8l14.8 -10.8M256.1 389.1l12.9 -8.9M256.7 389.3l8.9 -4.8M247.6 409.9l5.3 -3.3M260.5 405.0l6.2 -6.8M229.4 418.0l16.3 -9.0M266.5 398.7l9.5 -6.3M289.7 382.3l2.6 -1.6M277.2 370.0l5.3 -4.4M238.7 409.0l11.7 -12.8M277.2 372.0l9.6 -8.5M298.0 355.0l0.7 -0.6M287.2 378.7l6.5 -4.4M274.0 377.8l11.0 -10.7M283.0 389.6l7.7 -6.5M222.9 421.1l25.2 -14.2M274.4 390.5l7.6 -4.1M286.5 369.3l16.6 -13.3M276.2 372.4l12.6 -10.7M234.0 412.8l14.2 -11.8M270.9 393.0l14.5 -8.4M268.5 380.7l5.1 -3.7M231.4 409.4l21.3 -12.1M244.6 406.5l20.3 -11.2M290.9 366.0l5.2 -3.4M227.1 420.3l14.7 -10.3M231.0 414.5l6.6 -7.0M297.4 361.6l6.7 -5.1M297.4 357.0l5.4 -3.8M290.1 383.5l1.7 -1.6M241.9 414.3l9.2 -9.0M242.4 405.3l22.3 -18.5M288.3 375.3l12.3 -11.0M292.3 370.2l10.7 -8.3M247.1 411.0l9.8 -6.9M291.4 363.2l6.9 -5.3M267.8 379.1l5.4 -4.6M264.5 392.1l16.4 -12.5M268.6 400.9l17.7 -14.9M273.0 389.2l5.9 -3.7M258.7 398.6l16.4 -13.3M236.7 408.6l22.0 -12.1M230.3 415.0l8.1 -5.5M261.3 402.7l8.4 -6.0" stroke="#e8382c" stroke-width="0.35" opacity="0.6" fill="none"/><path d="M236.0 412.2l7.0 -7.2M242.7 412.7l4.7 -4.6M262.1 403.1l13.3 -6.4M233.2 406.1l1.1 -0.7M271.2 386.5l11.2 -16.4M239.1 408.5l8.5 -9.5M249.6 394.6l10.8 -5.0M240.4 405.2l3.9 -6.3M275.7 371.0l6.8 -2.8M262.1 400.3l6.8 -2.8M282.0 385.0l5.8 -10.6M276.5 378.0l6.4 -3.5M266.0 402.9l1.6 -2.5M252.5 394.7l14.7 -8.9M222.8 416.7l6.5 -2.3M266.2 379.1l0.7 -1.1M229.7 417.7l4.2 -6.0M259.2 405.1l5.3 -1.6M259.8 385.0l9.6 -3.4M292.3 372.5l6.3 -2.3M217.2 419.4l2.7 -1.6M270.5 395.7l10.9 -4.2M240.4 411.6l15.0 -8.6M288.8 362.0l10.0 -3.3M236.8 412.2l13.6 -3.9M298.0 356.3l5.1 -3.1M276.4 371.5l7.5 -4.8M233.9 407.1l8.3 -3.4M266.3 401.6l10.5 -15.8M266.2 402.7l3.5 -3.3M285.5 377.2l4.6 -4.9M288.8 386.1l0.6 -0.2M273.1 392.9l5.6 -7.0M222.5 414.7l5.7 -2.5M276.0 387.3l16.4 -10.2M257.1 390.3l10.1 -5.9M238.4 408.6l8.4 -11.0M251.0 405.7l5.7 -10.8M282.3 368.7l3.6 -5.3M240.8 401.0l2.7 -2.6M272.7 389.9l15.6 -10.4M276.5 382.6l15.0 -4.3M288.1 365.9l5.8 -7.6M250.6 395.7l12.8 -13.2M250.4 402.3l10.5 -9.1M243.9 405.0l7.3 -6.7M282.2 389.8l4.9 -6.0M272.9 378.9l14.5 -3.4M273.3 387.2l3.9 -6.6M246.2 402.7l15.6 -3.8M285.6 363.5l3.1 -1.1M259.4 398.5l14.2 -4.8M234.4 406.5l9.7 -6.9M252.0 392.0l6.7 -1.8M274.5 379.2l9.0 -11.3M279.3 376.5l5.4 -10.5M270.2 379.0l13.1 -4.9M235.7 416.8l2.2 -3.4M225.9 416.6l17.9 -6.1M219.4 421.2l16.1 -9.3" stroke="#909090" stroke-width="0.3" opacity="0.45" fill="none"/><polyline points="213,423 230,412 246,401 264,387 279,375.5 292,363.5 302.5,352.5" stroke="#e6404a" stroke-width="3.6" fill="none" opacity="0.85" filter="url(#b1)"/><polygon points="302.0,352.5 305.0,356.0 301.0,368.0 294.0,381.0 286.0,392.0 276.0,398.0 266.0,396.0 272.0,384.0 284.0,370.0 294.0,359.0" fill="#ee2a1e" opacity="0.92" filter="url(#b1)"/><path d="M278.8 385.1l3.4 -4.2M271.5 389.7l3.0 -4.1M272.3 386.8l3.2 -6.7M271.5 395.8l4.7 -10.2M278.2 387.9l3.6 -9.5M271.0 389.5l6.9 -11.1M274.6 397.6l4.6 -7.3M294.4 361.5l1.3 -3.6M271.9 390.3l8.1 -13.0M275.6 387.8l8.9 -12.5M290.2 386.2l1.1 -2.7M282.9 374.0l4.8 -7.7M294.9 378.5l2.1 -4.6M280.2 393.5l6.0 -7.4M291.3 373.3l7.1 -10.6M291.0 382.7l5.0 -6.3M278.3 381.7l7.0 -8.6M303.7 358.1l0.9 -1.7M268.7 393.2l4.4 -7.8M272.5 393.7l6.2 -8.6M290.7 371.9l2.6 -4.9M297.6 359.5l4.1 -6.6M297.0 365.4l6.7 -8.8M272.8 396.4l2.8 -3.4M290.1 378.5l2.5 -4.7M293.0 381.0l4.6 -9.8M295.2 378.6l3.2 -7.6M280.0 381.5l2.6 -5.1M280.0 381.6l6.7 -11.7M283.2 376.7l3.4 -9.0M277.7 382.4l8.6 -11.0M285.2 381.2l9.4 -12.1M293.1 382.0l1.1 -2.5M278.3 388.8l2.1 -5.1M268.1 393.7l9.6 -12.3M268.9 390.7l7.2 -9.4M284.6 381.0l3.4 -7.8M297.4 365.2l2.2 -4.5M278.1 394.0l6.5 -13.0M292.3 378.1l4.6 -5.5" stroke="#f24a3a" stroke-width="0.5" opacity="0.7" fill="none"/><polygon points="304.0,357.0 307.0,388.0 300.0,392.0 290.0,397.0 284.0,392.0 292.0,380.0 300.0,366.0" fill="#c8c8c8" opacity="0.5" filter="url(#b1)"/><path d="M294.1 392.7l-0.3 -12.1M298.5 376.6l-0.3 -7.0M299.0 391.8l-0.3 -4.6M300.1 386.5l4.4 -7.3M304.3 382.1l1.2 -8.1M287.1 387.5l16.0 -20.0M287.1 388.7l2.0 -4.2M303.4 383.7l1.7 -10.1M303.9 389.3l0.5 -4.6M297.9 376.1l-0.4 -5.6M301.2 377.8l3.0 -10.0M294.9 391.5l8.6 -13.9M301.5 389.4l1.3 -12.4M299.7 381.2l1.8 -15.8M296.0 383.8l8.2 -8.2M289.4 395.4l15.4 -19.7M286.6 392.9l10.5 -18.5M293.2 394.7l0.3 -5.3M295.3 393.8l0.5 -6.1M295.6 383.6l7.9 -10.3M297.0 373.5l5.0 -11.2M299.8 390.5l2.4 -8.9M299.5 380.7l3.3 -14.7M288.7 395.7l0.7 -1.2M292.7 379.6l6.2 -6.6M294.6 382.2l1.8 -8.4M298.0 379.5l2.9 -13.7M293.6 384.1l2.7 -7.6M297.3 382.8l2.8 -10.4M298.6 384.2l-0.6 -12.7M303.7 360.2l-0.0 -1.9M297.1 371.4l3.2 -4.9M302.4 389.6l3.1 -16.1M285.5 392.0l1.3 -3.7M295.2 393.9l2.1 -11.9M301.6 362.9l0.2 -1.0M293.2 394.5l-0.3 -6.7M293.8 394.8l1.3 -1.9M288.9 396.5l-0.1 -1.1M295.8 386.9l7.7 -8.9M302.1 382.7l1.3 -19.3M304.4 388.1l1.8 -4.6M290.3 382.6l1.0 -1.0M301.2 369.6l3.2 -5.3M304.0 386.7l-0.9 -13.0M296.5 392.6l4.2 -7.7M289.3 396.0l1.0 -6.7M284.8 391.0l0.3 -0.8M295.4 384.3l1.3 -11.9M302.2 370.4l0.6 -8.6M302.3 370.9l2.4 -2.9M301.6 385.9l3.3 -10.0M291.3 381.4l0.1 -0.6M296.4 392.9l1.3 -4.6M294.1 384.9l7.4 -18.3M297.7 392.7l0.1 -1.7M286.3 393.5l-0.1 -2.9M298.5 381.1l0.4 -11.8M292.3 382.9l0.3 -3.0M292.0 385.6l8.6 -9.3M304.3 389.1l-0.1 -1.9M302.9 384.8l2.3 -6.3M295.8 390.0l5.4 -18.7M300.4 368.3l0.3 -3.3M297.3 390.6l-0.5 -13.1M300.5 379.9l1.3 -5.9M288.0 395.0l0.9 -3.7M288.0 392.3l8.6 -14.3M292.8 390.6l1.4 -10.9M298.0 392.6l0.2 -1.3M300.5 380.2l0.5 -13.5M288.5 394.0l11.6 -19.5M299.4 384.2l-0.6 -12.3M292.6 395.1l6.6 -7.8M294.6 394.0l3.7 -7.2M293.0 379.7l6.7 -8.4M289.8 396.7l11.5 -13.7M300.7 376.7l4.0 -7.8M295.9 389.7l-0.8 -11.6M299.4 391.9l1.5 -11.0M289.4 390.0l-0.2 -4.6M289.6 396.1l4.1 -6.5M291.3 394.1l2.0 -14.3M293.9 377.0l0.2 -0.9M291.8 394.7l3.4 -8.0M291.3 393.4l2.0 -5.8M291.9 388.4l10.3 -13.6M297.0 376.5l2.5 -8.5M295.4 392.1l-0.6 -10.8M292.2 386.0l2.6 -9.1M298.6 371.5l5.6 -7.8M300.8 385.1l4.7 -7.4M304.9 371.7l0.4 -0.8M294.0 390.3l9.6 -12.6M289.9 391.5l0.6 -7.4M302.9 374.5l1.4 -6.9M298.1 390.4l4.8 -7.3M304.1 361.8l0.5 -0.7M291.6 381.3l9.1 -11.4M294.6 391.4l9.0 -27.8M300.2 391.0l-0.2 -4.9M285.2 393.2l-0.0 -0.8M299.9 390.6l-0.2 -12.6M292.4 393.3l10.8 -25.3M293.4 390.8l4.1 -12.5M303.1 365.0l1.4 -1.5M290.3 395.4l1.3 -5.2M294.3 380.2l8.1 -11.6M296.8 391.7l0.5 -9.3M290.3 393.7l0.1 -9.2M297.6 391.9l4.9 -9.6M297.1 378.2l2.4 -10.3M288.8 396.1l0.0 -1.0M290.9 393.4l0.5 -11.0M304.5 384.8l0.8 -13.4M291.0 386.0l4.7 -7.0M299.6 390.4l0.5 -13.0M304.2 385.9l1.9 -2.0M300.0 390.4l0.0 -7.6M297.4 392.6l5.3 -26.5M292.1 382.2l11.1 -13.8M291.0 394.9l14.0 -23.8M298.6 389.7l6.4 -20.0M289.6 395.4l3.4 -10.6M290.4 393.9l3.4 -8.7M302.2 361.4l1.5 -2.7M284.7 392.4l0.6 -0.7M290.5 394.2l1.1 -8.6M291.8 395.8l0.8 -2.3M302.7 379.9l2.9 -4.1" stroke="#6a6a6a" stroke-width="0.3" opacity="0.65" fill="none"/><polygon points="243.5,404.5 249.0,397.0 256.0,390.5 263.0,385.5 268.5,384.0 266.0,389.0 259.0,395.0 252.0,401.0 247.0,405.5" fill="#101010" opacity="0.95" filter="url(#b1)"/><polyline points="240,407 262,391 272,384" stroke="#222" stroke-width="1.2" fill="none" opacity="0.6"/><polygon points="270.0,404.0 283.0,399.0 296.0,393.0 305.0,389.0 307.5,387.0 308.0,394.0 298.0,397.0 284.0,402.0 272.0,407.0" fill="#8a8a5a" opacity="0.7" filter="url(#b1)"/><polygon points="292.0,393.0 301.0,390.0 307.0,386.5 308.5,393.5 300.0,396.0 293.0,397.0" fill="#6a6a18" opacity="0.95" filter="url(#b1)"/><polygon points="246.0,424.0 252.0,417.0 262.0,412.0 272.0,408.0 282.0,405.0 284.0,408.0 276.0,414.0 272.0,422.0 271.0,436.0 270.5,452.0 270.0,467.0 264.0,459.0 256.0,446.0 249.0,434.0" fill="#2aa6a0" opacity="0.85" filter="url(#b1)"/><path d="M261.8 449.8l-0.0 4.4M252.1 424.3l3.4 11.2M247.9 422.9l-0.4 5.3M257.2 416.3l2.9 23.3M250.1 421.8l11.6 14.5M246.1 424.4l5.4 6.2M259.1 416.8l4.2 12.4M247.9 422.4l1.1 1.5M262.5 423.6l3.7 24.5M253.1 428.0l2.9 14.7M270.5 408.8l2.8 5.4M248.9 432.5l-0.0 1.1M282.0 408.4l-0.0 1.2M253.8 427.2l3.6 9.4M267.9 435.8l2.7 5.0M257.6 431.3l9.4 18.2M268.8 410.1l2.3 3.5M254.1 427.4l2.4 11.2M257.2 445.2l0.8 3.5M262.5 440.7l3.8 3.9M250.0 421.9l6.0 17.6M275.0 407.0l0.2 0.6M267.8 447.5l2.5 6.4M259.4 434.8l4.0 5.8M282.3 407.1l1.0 1.1M254.6 429.0l5.1 22.5M248.9 433.2l0.0 0.7M249.2 429.0l3.2 4.0M270.7 434.9l-1.4 16.5M262.0 446.6l4.2 8.7M259.8 428.8l10.8 18.2M255.3 442.4l9.3 10.4M257.2 415.5l1.8 3.4M269.4 415.5l2.6 3.8M264.2 439.0l1.2 7.8M263.7 442.1l6.7 9.2M255.4 441.3l0.4 4.3M269.5 420.9l2.0 2.0M263.8 457.6l0.1 1.1M252.9 417.4l0.3 3.3M260.3 418.3l0.0 11.6M268.6 461.5l1.2 1.3M268.9 443.1l1.6 2.1M261.6 413.0l2.1 2.7M264.1 411.3l0.6 0.8M268.8 442.2l1.6 2.2M247.5 425.6l-0.0 2.6M255.7 424.9l0.8 17.9M264.9 417.1l6.1 7.6M262.0 443.6l7.9 11.8M270.4 421.8l1.3 1.8M277.5 412.7l-0.0 0.4M269.5 438.6l1.1 3.1M257.1 437.0l0.5 11.4M265.1 413.1l2.4 8.0M248.6 432.6l8.7 11.6M268.5 413.1l-0.2 14.7M270.2 454.4l0.2 0.7M269.8 446.7l0.6 1.3M258.7 440.3l2.9 12.1M251.8 423.5l2.2 6.8M254.0 424.5l10.1 11.8M264.3 428.6l3.4 12.4M256.8 414.8l0.8 1.7M262.4 429.8l0.6 13.3M254.6 430.1l4.9 9.3M255.6 432.3l3.0 4.2M247.7 427.2l5.4 7.9M261.2 451.0l8.7 11.1M255.2 441.4l1.7 6.0M252.3 419.7l6.7 19.0M258.9 428.9l8.7 11.2M268.5 463.2l1.3 1.3M274.3 408.2l2.6 4.2M255.0 415.8l0.7 1.1M278.4 405.8l0.4 0.6M263.0 444.0l2.8 6.0M257.3 415.7l4.7 5.8M251.8 417.5l1.0 1.2M270.1 423.5l-0.5 13.5M267.4 424.8l1.2 7.8M248.2 421.7l1.0 2.9M262.7 416.2l-0.9 14.7M260.1 420.4l5.0 8.3M263.6 411.9l2.7 6.0M251.0 428.9l1.5 10.2M257.8 419.4l3.6 8.1M250.3 422.4l5.7 10.7M259.3 413.3l0.1 0.5M259.7 443.0l8.4 14.6M275.7 407.3l-0.1 3.4M256.2 417.0l5.6 7.1M268.6 413.0l2.8 11.3M251.6 419.2l2.4 4.5M266.1 432.3l2.8 14.5M262.1 431.9l2.2 5.8M263.0 456.6l5.2 5.5M257.4 416.6l-0.5 8.4M259.3 440.2l8.4 11.7M255.8 419.8l3.5 19.2M265.1 431.3l4.2 13.4M254.3 442.4l8.0 8.7M251.5 436.4l5.6 6.0M263.3 440.1l5.9 11.7M257.4 443.1l11.3 16.0M253.9 442.4l3.5 3.9M263.0 456.1l1.1 3.0M263.1 427.2l2.3 7.3M257.0 420.7l0.5 23.4M267.6 456.3l2.2 3.1M258.3 438.3l3.7 6.5M265.3 426.0l0.2 23.9M282.3 407.8l0.7 0.8M258.3 414.9l2.3 6.0M251.5 422.0l9.3 15.1M271.5 419.8l0.8 1.0M267.9 453.1l2.2 3.5M270.5 408.9l0.7 1.1M263.7 452.0l5.3 11.6M280.3 406.8l-0.2 3.5M254.9 422.5l10.0 12.9M264.8 444.9l2.9 5.9M267.9 450.5l2.3 4.6M257.6 419.7l12.8 17.1M269.9 454.7l0.4 0.5M257.8 431.0l10.3 21.4M259.3 423.1l5.6 10.2M255.2 425.3l8.9 12.0M263.1 455.9l1.3 3.3M261.4 413.9l0.6 4.7M259.1 416.9l3.7 12.9M253.9 438.1l10.8 11.1M276.7 412.4l0.6 0.7M258.0 440.6l10.3 13.7M249.0 422.2l2.8 3.0M260.9 413.8l2.9 5.3M249.9 420.6l-0.2 5.0M259.1 428.4l1.1 8.1M270.9 422.8l0.8 0.9M269.3 427.5l1.4 4.7M262.4 418.7l3.5 6.0M260.0 431.7l6.2 10.3M271.2 421.5l0.4 5.1M270.3 448.5l-0.0 8.0M252.0 417.8l-0.5 6.3M273.7 415.1l0.5 2.2M272.5 413.7l2.0 2.3M266.9 445.4l3.1 4.9M278.3 410.2l0.2 1.5M249.9 420.1l-0.4 5.2M258.7 431.3l0.3 8.7M253.5 417.6l1.2 13.3M260.4 422.4l8.4 22.1M256.1 433.2l0.1 11.2M249.3 430.1l12.9 20.7M265.8 457.0l0.9 5.5M261.9 429.4l5.5 5.5M249.8 420.0l12.1 13.1M249.5 420.1l5.2 7.3M251.3 429.6l8.1 20.0M259.8 443.8l0.2 5.2M259.0 413.9l9.4 22.7M254.2 435.9l7.6 13.0M259.6 433.3l7.3 8.4M260.4 422.6l0.3 21.7M268.4 409.5l0.2 1.1M261.9 451.2l4.0 9.9M266.1 415.0l1.0 8.1M258.2 439.1l3.0 6.3M271.9 416.5l-0.5 12.9M249.6 422.1l2.5 6.1M264.7 421.9l1.9 23.1M247.2 426.8l6.0 11.9M259.1 429.9l4.0 22.7M261.8 414.7l-0.3 10.8M248.5 429.3l0.1 3.0M258.9 421.0l9.5 12.9M262.7 421.5l0.5 20.3M267.0 454.0l-0.4 6.9M248.9 424.0l1.7 11.1M249.0 421.2l2.4 3.8M268.9 420.3l2.6 6.8M253.0 417.6l2.5 6.7M270.2 410.5l0.8 5.1M263.8 415.7l2.2 8.1M261.9 432.6l1.9 24.1M270.6 409.1l1.3 4.1M264.9 432.4l1.8 13.7M257.1 418.9l0.8 8.8M257.5 421.1l3.7 10.1M257.9 430.8l2.5 4.4M248.3 431.1l5.1 7.0M268.9 431.8l-0.8 12.7M252.5 438.7l12.0 13.3M277.0 407.5l0.2 3.9M251.5 432.1l-0.4 5.3M257.8 414.6l0.9 1.1M266.7 425.6l4.2 7.0M249.4 424.0l8.2 8.2M267.0 448.1l3.4 3.9M256.3 430.4l3.4 7.6M257.9 442.4l9.0 11.6M264.4 452.5l0.9 7.5M267.5 416.7l-0.4 5.5M267.7 415.1l1.0 13.9M261.9 452.3l6.4 8.5M254.2 422.9l1.8 22.6M272.5 408.2l1.6 9.1M252.1 430.7l1.0 9.9M265.3 437.0l4.4 7.0M257.0 437.1l4.1 5.8M263.0 411.8l1.9 2.4M279.1 410.6l0.5 0.6M251.3 418.2l0.3 2.5M249.4 432.4l9.7 9.8M261.2 421.8l8.8 10.6M255.2 437.7l2.4 6.1M250.3 421.0l7.6 9.0M257.1 432.4l3.3 6.3M249.1 425.6l3.6 11.7M247.4 428.8l0.5 0.8M278.4 411.5l0.1 0.5M269.9 422.2l1.5 7.3M264.4 412.5l4.6 7.3M249.8 418.9l0.5 0.9M266.1 414.4l3.9 6.2M263.8 428.5l3.1 4.0M267.7 422.1l3.0 10.2M248.9 420.7l6.5 8.0M260.2 425.4l5.6 13.8M254.1 424.2l3.3 11.6M265.0 442.5l4.5 9.2M262.9 411.8l2.3 4.4M247.6 429.2l1.6 3.6M261.3 436.6l7.1 22.7M271.9 423.1l-1.0 13.0M254.1 424.2l8.7 10.9M254.8 423.1l6.2 6.8M261.2 412.9l0.5 3.2M251.5 418.6l3.5 20.6M258.7 414.1l0.6 2.0M274.5 413.2l-0.1 3.6M269.4 456.9l0.3 5.4M270.7 409.8l3.1 6.1M259.1 413.9l9.7 12.4M260.8 413.3l-0.1 2.5M261.5 412.4l0.9 1.6M267.4 410.4l0.7 2.9M255.5 416.2l5.2 13.3M266.4 420.3l3.3 14.5" stroke="#0e9090" stroke-width="0.4" opacity="0.6" fill="none"/><polygon points="256.0,422.0 266.0,416.0 270.0,424.0 268.0,440.0 262.0,436.0 257.0,430.0" fill="#6cc0b8" opacity="0.5" filter="url(#b1)"/><polyline points="248,419 262,411 278,404.5 290,400" stroke="#1a9a96" stroke-width="4" fill="none" opacity="0.8" filter="url(#b1)"/><polygon points="244.0,410.0 252.0,405.0 258.0,408.0 256.0,420.0 248.0,424.0 242.0,418.0" fill="#66b050" opacity="0.5" filter="url(#b1)"/><path d="M255.8 405.4l-1.6 10.0M243.1 410.8l2.4 4.7M260.5 410.3l0.5 0.3M245.9 412.3l-1.4 8.2M253.6 414.4l5.0 3.5M251.2 419.9l5.6 3.6M253.1 404.1l0.1 6.9M245.7 415.7l5.4 2.0M253.4 405.8l-1.8 11.8M249.6 407.5l0.2 5.0M255.0 410.3l-0.6 6.8M241.1 412.5l2.4 5.5M248.5 424.3l0.2 2.1M257.0 415.7l2.0 0.8M250.4 419.7l2.9 4.5M243.7 417.6l0.9 4.2M255.3 411.9l4.2 2.8M259.1 412.1l-0.5 5.5M257.6 405.0l-0.3 4.1M244.1 420.1l3.5 2.6M250.1 405.9l0.6 1.2M257.0 405.2l3.2 5.8M257.0 406.0l1.3 5.3M259.8 406.4l1.5 0.7M249.4 412.3l2.6 3.3M255.0 417.6l2.8 2.7M254.0 403.2l1.9 1.0M254.1 403.7l2.8 3.2M259.0 413.5l0.7 2.3M249.5 412.8l1.3 6.7M246.8 414.2l8.8 8.1M243.6 410.6l-0.1 9.6M250.7 406.9l3.6 4.5M247.3 417.6l5.2 2.2M245.2 415.3l0.8 10.4M251.0 410.4l5.7 8.0M247.2 408.8l-0.5 9.8M255.5 405.8l4.4 6.1M259.7 414.1l0.4 0.3M243.6 410.5l2.2 2.9" stroke="#3a9a30" stroke-width="0.4" opacity="0.6" fill="none"/><polygon points="214.0,428.0 226.0,421.0 240.0,416.0 250.0,418.0 252.0,432.0 248.0,446.0 236.0,448.0 222.0,443.0 212.0,436.0" fill="#f0a4ae" opacity="0.65" filter="url(#b1)"/><path d="M235.1 441.0l14.6 -5.2M239.6 432.7l10.0 0.5M227.0 422.9l6.4 -4.1M228.6 427.8l3.3 3.4M236.5 440.9l3.2 6.2M240.7 430.5l6.3 0.9M242.3 443.4l3.6 -2.4M223.7 423.7l3.6 5.2M235.9 441.1l12.8 1.0M244.7 440.5l4.6 -2.6M236.4 444.2l2.2 2.7M220.9 432.2l7.2 0.2M229.8 442.5l8.4 5.1M231.8 434.4l5.6 8.0M229.3 444.9l5.9 -1.2M216.8 428.1l5.7 7.7M216.2 427.6l7.3 -1.8M245.0 417.7l4.2 3.2M217.1 434.7l2.9 4.5M235.7 417.9l1.0 1.2M238.7 417.3l5.0 1.6M220.1 435.6l10.9 1.8M247.9 443.3l0.7 0.1M240.3 423.3l4.2 12.5M216.0 438.0l2.5 -1.9M235.8 436.3l9.8 2.0M244.8 441.0l3.5 2.1M238.4 445.9l3.7 0.7M241.3 432.8l8.2 4.9M247.3 444.2l0.7 0.8M243.0 435.8l6.0 5.9M236.0 417.7l3.0 2.9M225.7 440.1l5.2 -2.9M218.1 426.5l4.9 16.3M219.5 428.9l16.2 -4.6M223.0 442.3l17.7 -2.4M231.2 434.6l13.7 8.8M224.5 422.4l3.1 1.8M216.0 429.1l7.1 7.0M221.2 424.4l5.7 4.4M226.4 439.8l2.7 4.9M240.2 424.9l5.5 -2.2M243.0 422.6l7.5 4.8M217.1 426.7l6.0 -0.7M244.4 418.5l3.1 5.4M230.8 427.1l6.5 -1.2M239.3 447.3l3.9 -1.4M233.0 418.5l0.6 0.4M245.5 426.9l4.7 -3.4M231.5 438.6l4.6 1.3M232.7 433.6l9.4 3.6M214.2 430.4l5.3 -2.4M239.0 421.9l6.2 5.7M233.5 422.6l8.5 9.6M236.2 418.2l1.0 2.7M229.4 421.5l5.6 2.3M236.8 440.1l11.3 -3.5M221.9 424.8l11.1 -4.2M245.4 428.8l2.4 7.6M233.6 440.0l10.3 3.3M230.3 441.1l6.6 2.6M226.8 431.3l8.3 2.5M243.5 436.2l4.4 -2.9M246.3 423.8l1.4 7.0M242.2 419.9l5.9 -1.4M223.4 424.6l14.7 -3.7M223.9 422.0l0.6 0.1M237.3 439.5l5.9 -0.5M233.5 427.9l5.1 4.5M242.8 425.6l3.7 7.8M246.2 431.0l2.5 4.1M235.2 430.6l9.5 -2.9M236.3 437.8l3.4 9.0M223.3 431.5l13.6 -3.0M219.1 440.0l5.0 -3.2M221.4 435.2l16.0 3.5M213.5 429.1l0.4 0.1M225.0 439.6l7.6 3.8M224.9 443.9l0.8 -0.1M231.8 429.9l12.7 -0.4M231.3 419.6l1.0 -0.7M250.5 428.1l0.8 -0.3M219.1 425.5l8.8 14.9M246.9 435.5l2.8 1.2M243.3 421.1l6.4 12.8M223.2 443.4l0.7 -0.0M230.4 427.5l7.5 14.7M236.3 432.3l8.6 10.3M231.6 423.1l10.0 3.2M250.6 426.9l0.7 -0.0M249.8 435.3l0.8 1.0M235.6 417.8l0.8 0.9M227.7 437.6l7.3 1.2M225.6 438.0l4.0 6.0M223.6 422.5l1.1 0.3M245.2 427.0l0.9 5.0M248.4 418.8l1.6 -0.0M230.9 428.4l6.9 13.2M228.2 432.0l11.4 -5.2M241.5 426.4l7.5 -4.2M222.6 423.6l9.9 -0.2M237.4 441.3l8.2 1.2M221.5 424.3l2.2 1.2M247.5 420.3l3.2 4.5M215.5 436.4l10.2 -2.1M232.5 435.5l9.4 11.4M228.4 420.9l4.8 2.0M224.1 432.5l8.8 11.7M247.3 428.8l3.4 4.8M222.8 442.4l10.0 -5.3M228.5 422.7l2.1 9.4M246.5 423.3l3.9 -0.1M225.7 430.8l2.2 9.6M237.8 439.1l6.9 -2.5M238.1 419.4l4.9 3.2M222.7 434.1l9.6 10.7M234.8 421.3l6.7 3.7M240.2 416.4l0.7 3.0M225.3 443.9l16.7 3.1M236.4 418.2l2.0 4.6M234.6 436.8l5.1 -3.4M223.6 422.6l0.5 1.2M241.1 423.5l4.6 0.0M238.1 444.8l0.6 2.1M243.6 435.2l6.5 -5.5M248.4 431.4l2.4 1.8M225.7 424.9l6.4 10.4M230.8 421.1l9.6 -4.1M220.0 430.3l3.8 7.5M212.4 436.2l10.8 -5.4M229.5 433.4l14.9 9.7M231.7 422.6l10.1 -1.5M217.8 434.1l3.8 6.3M214.5 428.4l6.2 2.4M244.4 423.9l4.5 -3.1M250.0 426.3l1.3 1.5M223.1 423.6l5.1 2.6M232.8 443.1l2.7 3.1M229.8 425.5l10.2 -4.5M212.9 434.6l11.8 1.6M217.8 435.9l7.9 2.8M237.1 429.4l7.9 13.9M243.0 427.8l5.5 -0.9M228.6 420.7l4.6 6.7M237.9 433.1l6.8 4.8M240.8 426.8l5.6 10.4M241.4 435.4l5.3 -0.5M222.8 443.0l0.5 0.5M218.3 435.1l7.5 2.0M217.3 428.8l9.4 3.3M227.2 428.4l12.6 6.1M222.9 443.3l3.5 -0.7M215.0 430.2l7.0 3.9M248.7 433.6l1.8 2.1M231.3 434.5l5.3 2.2M245.3 440.7l2.5 2.8M227.1 431.0l17.6 2.1M219.8 437.2l10.5 6.3M226.4 438.6l4.3 0.5M244.2 418.1l1.8 5.1" stroke="#e87080" stroke-width="0.4" opacity="0.55" fill="none"/><path d="M213.0 436.1l4.3 0.9M242.2 430.6l3.8 -5.5M226.6 421.9l6.1 -3.3M238.9 416.6l4.1 8.9M237.0 430.2l13.1 1.3M232.3 446.6l1.4 -10.3M238.4 438.0l10.0 1.4M224.3 431.6l12.4 2.5M215.6 426.9l0.2 0.8M234.6 420.3l0.6 5.5M212.6 436.0l2.1 -0.3M219.1 430.3l7.4 -2.0M212.6 435.9l1.5 -1.6M228.1 438.9l5.6 -6.0M216.6 426.9l8.0 0.3M221.6 437.3l1.8 -7.7M240.1 422.9l9.7 0.8M250.1 425.0l1.0 1.1M244.5 444.9l1.8 1.0M220.5 435.7l10.5 -12.3M241.6 427.8l1.2 12.5M219.6 441.0l0.5 -1.9M224.5 422.6l5.3 7.0M230.1 420.5l1.2 5.5M241.6 446.6l0.2 0.8M220.1 441.1l1.7 -0.7M228.1 426.1l12.2 0.7M225.3 429.7l15.9 5.9M221.5 424.0l6.9 0.3M249.2 422.2l1.0 -0.5M230.4 425.6l3.9 7.2M213.4 430.5l10.1 -3.0M213.9 435.1l14.6 1.0M217.8 437.2l0.7 -4.2M222.3 442.9l2.5 -5.2M244.6 433.9l2.0 -13.9M243.8 439.7l4.1 -13.2M247.0 436.1l3.6 0.3M237.6 423.7l10.8 8.5M237.5 423.0l9.3 -1.7M223.8 434.8l5.3 1.6M222.6 442.6l0.9 -1.7M231.4 419.4l15.7 0.1M244.0 431.5l0.5 6.6M241.7 418.7l7.4 3.4M230.1 420.5l7.7 -3.1M233.0 429.0l6.2 11.4M233.6 430.9l0.5 -7.2M238.6 420.4l4.0 -3.4M240.5 433.6l4.4 9.6M222.1 424.6l0.1 -1.1M236.6 417.3l2.9 -0.1M222.6 442.5l3.4 -5.3M221.1 424.0l2.4 1.7M238.4 421.3l2.5 -3.8M244.5 427.9l1.6 -4.9M233.2 419.2l4.8 3.2M223.1 440.9l4.4 1.7M230.8 444.3l11.9 -4.4M219.8 430.4l6.2 1.8" stroke="#a0a0a0" stroke-width="0.3" opacity="0.5" fill="none"/><polygon points="212.0,421.0 226.0,415.0 240.0,410.0 246.0,414.0 236.0,421.0 222.0,425.0" fill="#f06a6a" opacity="0.7" filter="url(#b1)"/><polygon points="160.0,461.0 166.0,450.0 174.0,439.0 181.0,430.0 188.0,425.0 200.0,425.0 208.0,428.0 202.0,436.0 192.0,442.0 182.0,450.0 170.0,458.0" fill="#e07ccc" opacity="0.85" filter="url(#b1)"/><path d="M173.5 455.6l0.4 -0.6M169.2 445.9l3.9 -2.7M168.7 457.5l13.3 -11.0M180.1 449.0l4.1 -7.5M187.3 443.9l12.1 -9.7M163.2 457.2l13.4 -16.5M161.4 460.7l0.3 -0.3M190.4 443.2l3.7 -5.6M180.0 443.3l6.6 -12.6M187.5 428.6l3.5 -2.7M172.8 450.2l12.4 -13.3M177.6 436.6l8.2 -8.9M177.7 444.7l13.5 -13.8M189.4 433.2l7.8 -5.7M172.9 455.7l4.8 -7.3M170.0 457.8l1.1 -0.9M162.6 460.1l0.6 -1.0M189.5 438.9l6.8 -11.0M198.6 430.6l4.7 -3.4M185.8 445.9l6.5 -9.1M165.1 454.6l11.6 -10.1M193.7 433.5l3.8 -3.9M203.7 433.5l1.3 -2.8M169.3 452.6l4.8 -6.2M202.0 433.0l3.2 -5.8M205.7 427.8l0.6 -0.4M182.7 447.9l8.0 -16.5M184.9 440.0l5.5 -11.4M171.6 454.8l5.0 -7.6M180.5 434.5l3.7 -6.1M202.7 434.8l2.1 -3.7M198.9 431.5l5.3 -4.6M183.2 445.2l6.3 -7.7M183.1 443.9l8.5 -10.4M162.8 457.4l8.0 -7.2M175.5 454.3l0.5 -0.4M197.7 436.8l6.2 -4.4M165.5 459.3l0.6 -0.6M177.6 438.6l7.1 -5.1M195.8 438.8l4.8 -6.3M185.5 431.9l3.6 -5.4M189.9 433.3l8.8 -7.5M180.3 444.4l4.7 -7.3M193.4 425.3l0.4 -0.4M200.7 430.3l2.9 -3.3M194.7 425.9l0.7 -0.8M185.2 446.6l5.3 -9.5M198.9 430.0l2.3 -3.6M181.9 447.9l12.4 -10.1M190.1 433.7l5.4 -7.3M167.6 453.3l6.5 -5.9M166.0 458.5l7.4 -5.4M186.8 445.7l2.4 -3.6M185.4 446.2l10.3 -11.3M176.7 453.2l1.0 -1.9M181.0 446.9l6.4 -6.0M175.3 447.5l9.1 -17.3M179.8 447.3l9.9 -12.9M179.6 449.1l7.7 -10.1M177.9 452.6l10.6 -11.2M184.1 447.9l6.8 -9.9M180.8 442.8l14.4 -10.9M173.8 439.9l4.1 -3.1M192.5 431.7l5.2 -5.5M194.3 431.8l4.3 -4.8M163.5 455.5l8.4 -9.1M171.3 453.8l3.5 -3.6M179.4 451.7l2.9 -2.3M186.3 442.5l15.8 -11.7M166.5 450.5l4.7 -3.9M201.9 436.0l1.9 -2.5M176.7 446.6l6.5 -10.8M176.1 445.6l6.8 -5.2M192.9 441.1l1.6 -3.0M167.1 449.7l2.0 -3.9M165.4 451.8l3.7 -4.0M179.9 448.9l7.3 -15.3M180.4 437.0l6.3 -6.9M197.9 428.2l2.3 -2.7M192.4 441.5l0.7 -1.3M190.5 430.2l4.6 -4.7M180.2 443.7l11.8 -14.9M185.2 430.0l2.9 -4.0M186.2 438.7l6.6 -10.7M174.0 447.4l16.4 -12.5M170.2 446.0l15.2 -13.6M168.7 458.1l0.8 -1.4M190.3 441.2l10.0 -11.5M193.8 436.5l3.9 -3.1M187.3 439.7l5.8 -10.7M169.4 457.6l2.2 -3.9M198.3 431.6l2.9 -4.8M169.8 452.0l13.4 -14.9M204.3 427.1l0.4 -0.4M174.5 445.6l6.4 -8.7M160.1 460.9l1.1 -1.0M176.6 443.9l5.5 -8.0M175.1 453.1l6.3 -10.7M178.9 441.6l7.7 -9.2M196.0 434.5l6.0 -6.4M194.4 429.2l2.4 -4.2M173.8 451.5l7.3 -7.3M175.6 436.9l0.6 -0.5M184.6 442.0l9.7 -14.2M175.1 443.2l6.2 -4.4M172.9 454.6l8.6 -6.1M173.4 443.4l7.4 -9.3M190.7 442.9l2.0 -3.6M174.6 453.9l8.4 -8.3M180.4 444.1l5.1 -9.0M180.3 444.4l4.8 -5.4M188.2 438.1l3.8 -5.3M193.9 431.0l3.7 -5.5M188.3 443.5l6.4 -10.3M202.1 435.4l3.5 -4.6M188.3 437.1l7.5 -6.7M163.5 459.6l1.6 -2.1M169.2 447.4l9.1 -8.2M167.1 456.1l3.7 -4.2M192.4 432.6l3.0 -5.2M186.7 442.3l14.9 -15.7M164.3 458.0l5.3 -9.8M187.6 442.7l4.6 -8.0M199.1 428.5l2.5 -2.2M189.5 431.3l4.8 -5.4M161.1 460.6l0.4 -0.4M193.4 425.3l0.6 -0.6M177.6 445.8l8.9 -14.8M198.6 428.8l3.5 -2.6M189.3 438.1l8.4 -13.0M196.6 428.8l3.6 -3.1M167.1 454.1l9.1 -11.3M192.6 439.8l11.9 -9.4M188.7 438.3l7.6 -6.6M188.0 427.9l1.6 -2.7M181.7 432.3l4.3 -5.3M175.7 450.8l9.3 -12.2M182.9 446.1l7.6 -8.8M168.3 449.0l4.0 -4.5M183.3 448.9l1.7 -1.6" stroke="#c43cac" stroke-width="0.4" opacity="0.6" fill="none"/><polygon points="186.0,428.0 198.0,425.0 208.0,428.0 204.0,435.0 196.0,438.0 190.0,436.0" fill="#b04cb8" opacity="0.5" filter="url(#b1)"/><polygon points="194.0,428.0 206.0,426.0 214.0,432.0 208.0,442.0 198.0,442.0" fill="#a058c0" opacity="0.55" filter="url(#b1)"/><polygon points="204.0,442.0 212.0,439.0 219.0,440.0 217.0,447.0 207.0,448.0" fill="#a8b048" opacity="0.9" filter="url(#b1)"/><polygon points="220.0,449.0 228.0,444.5 234.0,448.0 231.0,455.5 223.0,456.0" fill="#704010" opacity="0.95" filter="url(#b1)"/><path d="M226.9 442.2l4.2 1.1M223.3 450.0l8.1 -2.4M230.3 456.0l3.3 -0.8M220.5 446.3l3.7 6.4M224.2 442.6l1.5 1.0M227.6 442.8l4.2 2.3M224.3 454.1l3.2 -0.6M231.2 456.3l2.5 -1.9M219.7 447.4l5.0 -0.9M229.7 450.1l3.0 -1.9M217.7 449.5l4.4 3.0M218.1 452.1l0.7 0.2M223.7 449.7l4.9 -1.2M227.3 443.2l5.9 0.4M227.1 443.2l7.0 1.6M231.3 452.2l4.9 -2.7M228.5 449.8l1.5 4.8M222.0 451.2l4.3 2.3M236.0 450.2l0.2 0.8M224.3 457.0l0.8 0.9M218.0 448.5l5.6 1.4M236.6 447.5l1.0 0.6M222.7 457.6l4.0 -0.5M226.8 450.6l2.5 4.4M222.2 443.5l1.4 5.1M223.4 457.4l6.6 -0.8M232.4 445.6l0.9 3.3M228.7 442.0l1.8 -1.1M236.0 450.6l0.4 -0.0M231.1 444.9l3.9 0.1" stroke="#8a5a2a" stroke-width="0.4" opacity="0.6" fill="none"/><polygon points="240.0,451.0 247.0,449.0 250.0,455.0 243.0,457.5" fill="#ece830" opacity="0.9" filter="url(#b1)"/><polygon points="238.0,452.0 243.0,452.0 246.0,462.0 247.5,478.0 246.5,487.0 243.5,476.0 240.0,462.0" fill="#c060a8" opacity="0.6" filter="url(#b1)"/><path d="M239.8 459.4l2.1 5.4M238.1 452.1l2.0 7.3M241.8 467.0l3.1 12.0M238.2 452.8l1.5 2.1M245.3 460.9l0.6 1.1M245.8 470.0l1.4 4.9M244.2 474.0l2.5 5.8M242.2 452.1l0.2 2.4M243.3 453.8l1.5 9.6M241.2 463.0l-0.1 3.3M242.0 469.5l0.2 1.5M242.2 465.5l0.1 4.3M241.8 461.2l2.0 15.7M241.0 453.0l2.1 3.7M243.0 468.3l3.3 8.3M246.6 472.5l0.4 0.6M243.4 468.6l2.5 14.4M239.6 454.2l0.8 5.2M240.5 456.2l0.1 6.0M239.6 453.5l3.5 7.8M243.6 464.8l-0.3 6.7M240.4 460.2l1.1 5.2M243.0 456.1l-0.1 7.2M241.4 455.7l3.8 6.6M239.9 457.8l0.6 5.4M245.5 471.7l0.6 9.4M240.0 458.0l3.7 5.4M241.6 457.9l1.0 10.9M244.8 471.5l1.3 9.5M242.7 453.2l1.4 4.4M238.3 452.2l1.5 6.7M244.0 460.6l0.2 10.3M245.6 481.8l-0.0 1.9M240.0 459.0l0.0 2.8M240.6 455.0l4.9 13.8M243.0 454.9l0.5 5.7M246.0 463.4l-0.3 5.3M238.1 452.0l0.6 0.9M238.2 452.0l0.1 0.6M240.0 461.7l5.3 12.9M244.8 464.5l1.5 3.2M246.0 483.9l0.6 1.3M245.2 473.3l1.4 8.9M242.4 453.9l-0.0 5.0M246.3 473.4l0.9 1.8M243.3 453.4l0.2 0.4M240.1 457.2l2.9 7.1M246.0 480.1l-0.2 3.2M240.2 452.0l-0.0 1.1M244.0 455.4l0.5 9.1M239.5 459.6l0.5 1.0M239.7 452.0l-0.1 1.3M243.8 461.2l2.5 4.5M240.1 462.2l0.4 0.9M246.6 480.8l0.0 5.1M243.7 475.9l1.2 5.1M241.3 455.1l2.6 7.4M241.6 460.4l4.2 12.5M243.9 455.2l-0.0 1.8M241.4 463.5l4.1 10.6" stroke="#9a3090" stroke-width="0.4" opacity="0.6" fill="none"/><polygon points="241.0,470.0 246.0,469.0 250.0,484.0 245.0,487.0" fill="#9a3080" opacity="0.7" filter="url(#b1)"/><polygon points="266.0,424.0 285.0,429.0 300.0,434.5 301.0,437.5 286.0,437.0 268.0,436.0" fill="#c4ccc8" opacity="0.8" filter="url(#b1)"/><path d="M269.3 427.9l8.5 1.5M267.7 429.1l11.5 1.7M267.6 427.3l4.0 0.5M296.9 434.3l2.7 0.3M267.8 433.3l4.8 0.6M268.6 433.5l19.0 3.2M287.9 431.9l10.3 2.3M295.6 436.3l4.1 0.9M267.1 425.3l4.3 0.2M284.5 431.6l6.4 0.5M274.5 428.8l9.8 0.7M280.1 435.9l3.6 0.8M269.3 435.2l11.9 1.1M277.9 432.3l13.7 1.1M275.4 431.1l14.7 1.6M286.4 433.6l13.7 2.0M276.7 429.3l7.0 1.4M266.2 424.5l1.3 0.2M267.2 427.5l1.9 0.3M281.9 432.2l16.8 2.5M268.3 434.6l4.2 0.5M283.8 431.2l11.3 1.8M267.0 429.9l0.9 0.2M279.9 436.1l8.5 0.8M274.6 435.1l6.3 1.4M267.4 427.2l6.1 0.4M279.1 434.5l6.0 1.3M282.6 430.6l14.9 3.0M267.2 426.7l10.1 1.1M269.7 428.1l12.5 1.1M273.2 429.0l13.7 0.8M281.6 432.5l12.1 1.7M282.5 429.9l6.4 1.3M275.2 428.2l13.5 2.6M269.2 428.6l18.0 4.0M273.7 435.1l12.0 1.3M288.4 430.9l3.5 0.7M270.0 428.3l9.6 1.3M272.9 430.5l19.5 2.8M266.4 426.4l11.7 2.3" stroke="#8a9a96" stroke-width="0.3" opacity="0.6" fill="none"/><polygon points="268.0,434.0 285.0,437.5 297.0,440.5 296.5,443.5 284.0,442.0 268.0,441.0" fill="#c4c8c8" opacity="0.8" filter="url(#b1)"/><path d="M268.6 438.8l6.3 0.6M268.8 439.8l6.3 0.8M279.8 440.4l6.1 1.6M282.4 441.3l5.5 1.2M284.9 441.4l6.4 1.3M271.5 436.6l6.1 0.9M277.2 436.3l11.5 2.9M287.7 439.9l8.1 2.2M295.0 442.6l1.5 0.2M270.5 434.5l0.8 0.2M275.8 437.7l18.6 4.7M268.4 434.9l2.0 0.4M281.6 437.5l11.6 2.8M272.8 435.3l10.8 1.9M278.7 438.2l7.3 1.1M279.1 440.8l6.7 1.4M275.7 439.1l9.5 1.4M286.8 439.6l7.7 2.0M267.8 438.8l0.6 0.2M275.6 438.0l19.1 2.4M285.1 440.4l8.9 1.0M272.4 435.0l1.8 0.3M282.5 437.7l10.0 2.1M270.5 439.0l18.7 3.6M268.1 438.9l4.4 0.6M289.4 441.6l6.7 1.2M278.7 439.0l17.3 3.8M271.4 435.6l9.7 1.3M268.6 438.6l5.7 1.1M268.9 439.6l14.6 1.5M278.1 437.3l9.0 1.3M288.7 441.6l7.7 1.4M269.5 434.3l0.7 0.1M269.9 435.6l9.0 2.0M277.1 439.3l7.8 1.0M268.3 440.8l1.2 0.2M274.9 440.5l6.7 1.1M268.0 439.5l1.0 0.1M271.5 437.1l8.7 2.2M272.7 435.9l9.8 2.3" stroke="#8a9a96" stroke-width="0.3" opacity="0.6" fill="none"/><polygon points="295.5,435.0 300.0,435.8 301.0,438.0 295.5,437.6" fill="#f08a2a" opacity="1"/><polygon points="292.0,440.5 296.5,441.2 297.0,443.6 292.0,442.8" fill="#f08a2a" opacity="1"/><polygon points="282.0,429.0 292.0,431.0 292.0,434.0 282.0,432.0" fill="#90d0c0" opacity="0.6" filter="url(#b1)"/></g><line x1="108.80" y1="378.80" x2="121.30" y2="366.20" stroke="#1a1a1a" stroke-width="0.7"/><line x1="153.80" y1="372.50" x2="146.30" y2="383.80" stroke="#1a1a1a" stroke-width="0.7"/><polygon points="146.30,383.80 148.52,382.64 146.51,381.30" fill="#1a1a1a" /><line x1="161.30" y1="421.30" x2="171.30" y2="402.50" stroke="#1a1a1a" stroke-width="0.7"/><polygon points="171.30,402.50 169.20,403.87 171.34,405.01" fill="#1a1a1a" /><line x1="187.50" y1="393.80" x2="181.30" y2="410.50" stroke="#1a1a1a" stroke-width="0.7"/><polygon points="181.30,410.50 183.20,408.86 180.93,408.02" fill="#1a1a1a" /><line x1="230.70" y1="404.00" x2="230.70" y2="421.00" stroke="#1a1a1a" stroke-width="0.7"/><polygon points="230.70,421.00 231.91,418.80 229.49,418.80" fill="#1a1a1a" /><line x1="99.80" y1="384.00" x2="99.80" y2="371.50" stroke="#222" stroke-width="0.6"/><polygon points="99.80,371.50 98.70,373.50 100.90,373.50" fill="#222" /><text x="175.80" y="372.50" font-size="7.66" text-anchor="middle" fill="#3a3aa8" font-weight="bold" textLength="65" lengthAdjust="spacingAndGlyphs">Immature-neutrophil</text><text x="176.00" y="381.50" font-size="7.66" text-anchor="middle" fill="#3a3aa8" font-weight="bold" textLength="11.0" lengthAdjust="spacingAndGlyphs">(IN)</text><text x="99.80" y="401.00" font-size="7.66" text-anchor="middle" fill="#3a3aa8" font-weight="bold" textLength="21.64" lengthAdjust="spacingAndGlyphs">Mature</text><text x="99.80" y="408.50" font-size="7.66" text-anchor="middle" fill="#3a3aa8" font-weight="bold" textLength="52.5" lengthAdjust="spacingAndGlyphs">neutrophils (MN)</text><text x="135.50" y="430.00" font-size="7.66" text-anchor="middle" fill="#3a3aa8" font-weight="bold" textLength="45.8" lengthAdjust="spacingAndGlyphs">Pre-neutrophi</text><text x="135.00" y="437.30" font-size="7.66" text-anchor="middle" fill="#3a3aa8" font-weight="bold" textLength="13.57" lengthAdjust="spacingAndGlyphs">(PN)</text><text x="192.00" y="394.60" font-size="7.89" text-anchor="middle" fill="#d884c8" textLength="15.49" lengthAdjust="spacingAndGlyphs">GMP</text><text x="206.50" y="412.40" font-size="7.0" text-anchor="middle" fill="#8080c0">Ly6C<tspan font-size="3.6" dy="-1.8">low</tspan></text><text x="187.60" y="423.50" font-size="7.89" text-anchor="middle" fill="#f04880" font-weight="bold" textLength="33.5" lengthAdjust="spacingAndGlyphs">CD11b Mo</text><text x="147.50" y="458.60" font-size="6.6" text-anchor="middle" fill="#d04ab8" font-weight="bold">Ly6C<tspan font-size="3.6" dy="-1.8">high</tspan></text><text x="230.20" y="401.20" font-size="7.66" text-anchor="middle" fill="#7048a8" font-weight="bold" textLength="17.5" lengthAdjust="spacingAndGlyphs">MPP3</text><text x="254.50" y="410.50" font-size="7.66" text-anchor="middle" fill="#5aa848" font-weight="bold" textLength="14.3" lengthAdjust="spacingAndGlyphs">MEP</text><text x="198.00" y="445.80" font-size="7.66" text-anchor="middle" fill="#a0a040" font-weight="bold" textLength="13.2" lengthAdjust="spacingAndGlyphs">cDC</text><text x="234.00" y="445.50" font-size="7.66" text-anchor="middle" fill="#c08040" font-weight="bold" textLength="12" lengthAdjust="spacingAndGlyphs">MPP1</text><text x="215.00" y="463.10" font-size="7.66" text-anchor="middle" fill="#c07828" font-weight="bold" textLength="13.56" lengthAdjust="spacingAndGlyphs">pDC</text><text x="245.50" y="456.80" font-size="7.66" text-anchor="middle" fill="#e8e020" font-weight="bold" textLength="9.53" lengthAdjust="spacingAndGlyphs">NK</text><text x="219.00" y="474.80" font-size="7.66" text-anchor="middle" fill="#8a2a8a" font-weight="bold" textLength="41.1" lengthAdjust="spacingAndGlyphs">CD3 memory</text><text x="220.00" y="483.00" font-size="7.66" text-anchor="middle" fill="#f0a080" textLength="41.8" lengthAdjust="spacingAndGlyphs">CD4 memory</text><text x="267.70" y="472.10" font-size="7.66" text-anchor="middle" fill="#a0205a" font-weight="bold" textLength="39.5" lengthAdjust="spacingAndGlyphs">CD3 effector</text><text x="266.60" y="481.60" font-size="7.66" text-anchor="middle" fill="#f07a68" textLength="40.2" lengthAdjust="spacingAndGlyphs">CD4 effector</text><text x="282.00" y="461.10" font-size="7.66" text-anchor="middle" fill="#20a0a8" font-weight="bold" textLength="21.5" lengthAdjust="spacingAndGlyphs">B-cells</text><text x="302.70" y="452.00" font-size="7.66" text-anchor="middle" fill="#f08040" font-weight="bold" textLength="37.4" lengthAdjust="spacingAndGlyphs">Eosinophils</text><text x="301.00" y="429.80" font-size="7.66" text-anchor="middle" fill="#78c4a8" font-weight="bold" textLength="31.3" lengthAdjust="spacingAndGlyphs">Basophils</text><text x="311.30" y="367.70" font-size="7.66" text-anchor="middle" fill="#e84a2a" font-weight="bold" textLength="13.4" lengthAdjust="spacingAndGlyphs">RBC</text><text x="304.60" y="401.00" font-size="7.66" fill="#2a5a2a" font-weight="bold" textLength="29" lengthAdjust="spacingAndGlyphs">Platelets</text><text x="259.00" y="427.60" font-size="7.66" text-anchor="middle" fill="#48a040" font-weight="bold" textLength="17" lengthAdjust="spacingAndGlyphs">MPP2</text><text x="410.60" y="346.80" font-size="9.12" text-anchor="middle" fill="#222" textLength="89.5" lengthAdjust="spacingAndGlyphs">CyTOF BM time course</text><g transform="translate(0,0.00)"><polygon points="386.0,382.0 400.0,380.0 420.0,382.0 440.0,380.0 456.0,384.0 456.0,396.0 442.0,398.0 440.0,404.0 428.0,408.0 410.0,400.0 392.0,401.0 386.0,396.0" fill="#e2dde0" opacity="0.6" filter="url(#b2)"/><polygon points="400.0,376.0 416.0,379.0 426.9,377.0 435.7,370.5 446.7,364.4 456.0,355.7 457.5,357.5 453.2,368.8 448.9,373.2 441.2,377.6 437.0,381.0 444.0,384.0 454.0,388.0 454.0,393.0 441.0,392.0 437.0,394.0 440.0,402.5 432.0,398.0 428.0,406.5 424.0,397.0 414.0,395.0 404.0,390.0 394.0,398.5 392.0,396.0 398.0,386.0" fill="#bdbdbd" opacity="0.97" filter="url(#b1)"/><path d="M439.3 402.2l0.4 -0.3M445.2 369.4l1.8 -4.7M397.6 394.8l0.2 0.3M418.4 386.8l3.4 -3.5M439.2 377.7l4.2 12.5M439.0 385.4l5.5 -1.0M434.0 396.4l11.5 -10.2M407.3 391.6l3.8 -3.1M442.0 384.5l0.1 -1.0M429.1 396.7l2.4 2.1M437.0 370.9l2.9 14.8M437.9 369.6l6.7 -3.4M445.9 387.7l3.4 -1.1M397.8 390.2l1.3 3.9M441.8 370.6l4.9 3.1M430.9 397.1l3.8 -1.6M422.9 389.5l5.2 -7.9M414.8 394.2l16.9 -5.5M429.8 388.9l15.1 1.7M411.0 382.8l9.6 6.0M426.8 391.7l6.5 5.2M441.1 388.0l0.5 3.5M435.4 396.7l3.3 3.1M404.5 378.5l2.4 7.0M433.5 380.9l7.2 5.8M446.9 368.7l6.3 -4.4M400.6 385.2l4.8 5.3M436.4 377.7l6.7 -1.6M410.0 383.2l0.7 6.6M427.0 389.1l3.6 -5.6M425.1 384.5l11.7 8.0M406.8 390.7l0.4 0.7M400.5 391.1l2.8 -8.3M444.5 391.5l0.2 0.8M416.2 378.8l0.6 0.4M397.4 387.0l4.5 -1.9M453.3 358.7l1.3 1.3M421.0 386.3l7.4 9.5M407.3 390.9l0.6 -2.7M442.1 376.3l0.2 -4.5M420.6 381.0l0.8 -2.7M416.9 395.4l1.6 -0.3M449.1 387.5l4.1 1.9M393.0 395.0l1.2 -0.3M402.7 380.6l0.8 -3.3M403.7 377.9l0.8 -0.8M416.3 395.3l0.2 -0.5M429.3 376.9l9.8 -4.3M403.5 388.5l8.6 -7.9M423.4 396.0l0.2 -8.9M412.3 378.7l14.2 5.1M410.5 378.0l1.9 1.0M412.2 379.4l8.1 6.4M452.1 359.8l1.8 -0.3M426.3 401.9l3.7 -8.1M421.2 388.6l6.3 -8.2M440.1 368.3l0.8 1.4M414.8 390.4l5.4 -5.5M449.8 366.8l2.0 -4.3M440.4 385.6l0.1 -2.8M435.9 385.5l6.7 2.4M453.3 365.3l1.6 -8.0M419.8 382.0l4.7 13.3M439.8 370.0l3.2 -2.4M417.0 385.8l5.7 2.9M399.6 379.6l3.1 2.0M427.8 405.5l3.4 -7.0M423.3 379.6l2.2 6.7M433.6 374.8l3.5 4.4M449.0 368.6l2.6 1.1M454.0 360.9l1.2 1.4M398.1 386.6l1.2 2.3M414.2 385.5l5.8 4.9M438.4 375.2l1.2 2.7M399.0 381.3l0.2 0.8M427.6 405.2l0.9 -0.2M415.9 383.8l2.2 8.3M424.0 385.6l11.2 -9.0M407.2 378.0l3.1 3.3M435.8 397.8l3.4 -10.2M398.2 385.9l1.4 -1.4M393.8 396.4l3.3 -8.2M409.1 383.5l9.8 4.6M448.8 362.6l1.2 -0.3M433.4 392.8l3.0 2.6M443.3 390.5l9.1 -2.3M434.8 371.6l3.0 2.7M436.7 384.4l3.7 5.0M425.8 383.2l2.5 -6.4M432.7 374.3l3.9 1.9M431.0 381.4l8.0 7.7M437.7 373.9l5.0 1.6M420.4 394.3l1.5 -7.5M421.9 377.8l0.3 0.4M428.9 396.6l7.9 3.0M447.7 388.1l0.1 -2.1M410.6 393.1l2.1 -0.8M418.1 378.7l0.5 -0.2M415.3 390.1l13.2 9.2M434.7 389.8l4.0 9.3M433.7 385.2l3.0 7.8M434.7 397.6l3.9 -5.7M397.6 386.7l1.2 -0.5M401.5 378.0l0.5 -1.4M427.6 403.6l0.9 1.6M452.0 360.8l1.1 -2.2M439.7 372.0l12.3 -9.3M403.8 388.7l5.1 1.6M433.1 380.7l13.5 -8.5M440.6 369.9l4.9 3.0" stroke="#8a8a8a" stroke-width="0.25" opacity="0.5" fill="none"/><polygon points="364.0,361.0 368.0,357.5 374.4,353.2 380.2,353.6 388.8,360.3 398.5,369.0 410.0,376.6 418.0,379.5 426.0,377.5 430.0,385.0 420.0,389.0 408.0,388.0 400.4,383.8 391.7,382.6 387.0,379.7 379.2,372.0 368.0,366.5 364.5,364.5" fill="#b2b2ba" opacity="0.97" filter="url(#b1)"/><path d="M399.5 374.6l11.2 10.4M408.7 383.8l8.3 4.9M397.0 372.1l5.7 3.3M372.8 355.7l10.1 10.4M393.2 373.3l12.8 8.4M409.2 387.5l0.7 0.7M372.6 354.8l2.0 1.4M382.7 361.0l7.1 6.7M383.1 368.9l3.5 3.1M407.7 380.1l11.6 6.8M386.2 372.8l3.9 2.3M381.5 361.8l10.4 8.3M412.7 381.6l7.9 4.7M366.6 362.5l6.9 5.8M382.4 358.1l4.9 3.0M373.9 354.1l1.6 1.6M399.6 380.0l7.2 5.5M411.2 386.3l2.2 1.9M378.5 364.3l9.9 10.2M393.3 377.0l5.9 4.6M366.7 360.0l6.4 5.8M402.8 376.8l10.1 7.3M378.0 366.5l9.1 8.3M393.9 381.9l1.3 1.1M381.8 371.6l10.4 9.3M392.3 368.4l11.8 7.6M407.4 376.9l4.5 4.0M400.3 376.9l9.7 8.2M388.0 373.1l10.2 6.8M367.5 357.9l0.2 0.2M375.5 353.5l2.4 1.9M398.2 370.2l12.3 8.3M376.4 364.2l11.9 7.4M400.0 370.1l6.6 6.7M401.8 382.4l7.4 5.4M375.9 360.6l6.0 6.1M427.3 385.8l0.3 0.2M388.0 361.1l6.9 7.1M378.0 367.2l9.7 6.1M411.1 380.2l9.0 5.2M379.0 356.0l5.2 5.4M404.5 373.0l4.0 3.6M380.3 369.6l6.6 5.1M365.1 361.3l2.6 2.0M387.9 370.0l8.7 7.7M387.1 365.0l4.6 4.4M392.4 370.4l6.3 4.9M369.1 365.6l4.0 2.4M400.0 377.8l4.0 3.9M388.7 361.3l7.6 6.3M396.2 372.4l8.8 6.0M377.2 364.4l4.6 4.1M369.1 356.9l1.9 1.6M367.2 358.3l0.7 0.7M376.2 354.8l5.0 5.1M376.4 362.5l6.3 5.2M399.9 370.8l6.5 5.8M376.1 353.4l2.5 2.5M370.7 356.4l7.0 5.1M377.6 361.1l6.3 4.0M373.0 366.6l13.0 7.7M403.3 372.6l12.2 9.4M376.5 353.6l1.5 1.0M385.1 362.1l5.9 4.5M409.4 377.0l5.8 3.7M407.1 385.8l2.5 2.1M378.2 353.6l3.8 2.8M379.0 366.5l3.8 2.6M387.2 370.2l6.6 4.0M391.5 370.3l9.3 6.8" stroke="#e8e8ec" stroke-width="0.6" opacity="0.6" fill="none"/><polyline points="376.0,356.5 388.0,362.0 398.0,370.0 410.0,378.0" stroke="#dadade" stroke-width="1.6" fill="none" opacity="0.7" filter="url(#b1)"/><polygon points="416.0,379.2 426.9,377.0 435.7,370.5 446.7,364.4 456.0,355.7 457.8,357.5 453.2,368.8 448.9,373.2 441.2,377.6 435.7,380.9 428.0,384.0 420.0,384.0" fill="#c2b8ba" opacity="0.9" filter="url(#b1)"/><polyline points="440.0,379.0 456.5,370.0" stroke="#a8a8a8" stroke-width="1.0" fill="none" opacity="0.8"/><polyline points="438.0,389.0 453.0,388.5" stroke="#a0aaa4" stroke-width="1.0" fill="none" opacity="0.8"/><polyline points="438.0,392.0 452.0,393.0" stroke="#a0aaa4" stroke-width="1.0" fill="none" opacity="0.8"/><polyline points="425.5,396.0 427.5,406.0" stroke="#a8a0a8" stroke-width="1.4" fill="none" opacity="0.9"/><polygon points="363.5,361.5 366.5,358.0 370.5,360.5 369.0,366.0 365.0,365.5" fill="#2a2a7a" opacity="0.95" filter="url(#b1)"/><polygon points="368.0,361.0 380.0,366.0 392.0,374.0 404.0,381.0 400.0,384.0 388.0,378.0 376.0,371.0 368.0,366.0" fill="#a0a0c8" opacity="0.6" filter="url(#b1)"/><polyline points="368.0,365.0 380.0,371.5 390.0,380.0 399.0,383.5" stroke="#6060a8" stroke-width="1.6" fill="none" opacity="0.85" filter="url(#b1)"/><polygon points="443.0,365.0 451.0,359.0 456.0,355.3 458.0,357.6 453.0,362.5 446.0,367.5" fill="#e63c3c" opacity="0.95" filter="url(#b1)"/><polygon points="420.0,381.0 427.0,378.0 429.0,384.0 423.0,387.0" fill="#e09090" opacity="0.8" filter="url(#b1)"/><polygon points="433.0,395.0 437.0,393.0 440.0,402.5 435.0,400.0" fill="#20a0a0" opacity="0.95" filter="url(#b1)"/><polygon points="392.0,398.0 398.0,387.0 405.0,384.5 400.0,392.0" fill="#c850a0" opacity="0.85" filter="url(#b1)"/><polygon points="434.0,370.0 440.0,366.5 441.0,369.0 436.0,372.0" fill="#604a58" opacity="0.7" filter="url(#b1)"/></g><g transform="translate(0,40.50)"><polygon points="386.0,382.0 400.0,380.0 420.0,382.0 440.0,380.0 456.0,384.0 456.0,396.0 442.0,398.0 440.0,404.0 428.0,408.0 410.0,400.0 392.0,401.0 386.0,396.0" fill="#e2dde0" opacity="0.6" filter="url(#b2)"/><polygon points="400.0,376.0 416.0,379.0 426.9,377.0 435.7,370.5 446.7,364.4 456.0,355.7 457.5,357.5 453.2,368.8 448.9,373.2 441.2,377.6 437.0,381.0 444.0,384.0 454.0,388.0 454.0,393.0 441.0,392.0 437.0,394.0 440.0,402.5 432.0,398.0 428.0,406.5 424.0,397.0 414.0,395.0 404.0,390.0 394.0,398.5 392.0,396.0 398.0,386.0" fill="#bdbdbd" opacity="0.97" filter="url(#b1)"/><path d="M439.3 402.2l0.4 -0.3M445.2 369.4l1.8 -4.7M397.6 394.8l0.2 0.3M418.4 386.8l3.4 -3.5M439.2 377.7l4.2 12.5M439.0 385.4l5.5 -1.0M434.0 396.4l11.5 -10.2M407.3 391.6l3.8 -3.1M442.0 384.5l0.1 -1.0M429.1 396.7l2.4 2.1M437.0 370.9l2.9 14.8M437.9 369.6l6.7 -3.4M445.9 387.7l3.4 -1.1M397.8 390.2l1.3 3.9M441.8 370.6l4.9 3.1M430.9 397.1l3.8 -1.6M422.9 389.5l5.2 -7.9M414.8 394.2l16.9 -5.5M429.8 388.9l15.1 1.7M411.0 382.8l9.6 6.0M426.8 391.7l6.5 5.2M441.1 388.0l0.5 3.5M435.4 396.7l3.3 3.1M404.5 378.5l2.4 7.0M433.5 380.9l7.2 5.8M446.9 368.7l6.3 -4.4M400.6 385.2l4.8 5.3M436.4 377.7l6.7 -1.6M410.0 383.2l0.7 6.6M427.0 389.1l3.6 -5.6M425.1 384.5l11.7 8.0M406.8 390.7l0.4 0.7M400.5 391.1l2.8 -8.3M444.5 391.5l0.2 0.8M416.2 378.8l0.6 0.4M397.4 387.0l4.5 -1.9M453.3 358.7l1.3 1.3M421.0 386.3l7.4 9.5M407.3 390.9l0.6 -2.7M442.1 376.3l0.2 -4.5M420.6 381.0l0.8 -2.7M416.9 395.4l1.6 -0.3M449.1 387.5l4.1 1.9M393.0 395.0l1.2 -0.3M402.7 380.6l0.8 -3.3M403.7 377.9l0.8 -0.8M416.3 395.3l0.2 -0.5M429.3 376.9l9.8 -4.3M403.5 388.5l8.6 -7.9M423.4 396.0l0.2 -8.9M412.3 378.7l14.2 5.1M410.5 378.0l1.9 1.0M412.2 379.4l8.1 6.4M452.1 359.8l1.8 -0.3M426.3 401.9l3.7 -8.1M421.2 388.6l6.3 -8.2M440.1 368.3l0.8 1.4M414.8 390.4l5.4 -5.5M449.8 366.8l2.0 -4.3M440.4 385.6l0.1 -2.8M435.9 385.5l6.7 2.4M453.3 365.3l1.6 -8.0M419.8 382.0l4.7 13.3M439.8 370.0l3.2 -2.4M417.0 385.8l5.7 2.9M399.6 379.6l3.1 2.0M427.8 405.5l3.4 -7.0M423.3 379.6l2.2 6.7M433.6 374.8l3.5 4.4M449.0 368.6l2.6 1.1M454.0 360.9l1.2 1.4M398.1 386.6l1.2 2.3M414.2 385.5l5.8 4.9M438.4 375.2l1.2 2.7M399.0 381.3l0.2 0.8M427.6 405.2l0.9 -0.2M415.9 383.8l2.2 8.3M424.0 385.6l11.2 -9.0M407.2 378.0l3.1 3.3M435.8 397.8l3.4 -10.2M398.2 385.9l1.4 -1.4M393.8 396.4l3.3 -8.2M409.1 383.5l9.8 4.6M448.8 362.6l1.2 -0.3M433.4 392.8l3.0 2.6M443.3 390.5l9.1 -2.3M434.8 371.6l3.0 2.7M436.7 384.4l3.7 5.0M425.8 383.2l2.5 -6.4M432.7 374.3l3.9 1.9M431.0 381.4l8.0 7.7M437.7 373.9l5.0 1.6M420.4 394.3l1.5 -7.5M421.9 377.8l0.3 0.4M428.9 396.6l7.9 3.0M447.7 388.1l0.1 -2.1M410.6 393.1l2.1 -0.8M418.1 378.7l0.5 -0.2M415.3 390.1l13.2 9.2M434.7 389.8l4.0 9.3M433.7 385.2l3.0 7.8M434.7 397.6l3.9 -5.7M397.6 386.7l1.2 -0.5M401.5 378.0l0.5 -1.4M427.6 403.6l0.9 1.6M452.0 360.8l1.1 -2.2M439.7 372.0l12.3 -9.3M403.8 388.7l5.1 1.6M433.1 380.7l13.5 -8.5M440.6 369.9l4.9 3.0" stroke="#8a8a8a" stroke-width="0.25" opacity="0.5" fill="none"/><polygon points="364.0,361.0 368.0,357.5 374.4,353.2 380.2,353.6 388.8,360.3 398.5,369.0 410.0,376.6 418.0,379.5 426.0,377.5 430.0,385.0 420.0,389.0 408.0,388.0 400.4,383.8 391.7,382.6 387.0,379.7 379.2,372.0 368.0,366.5 364.5,364.5" fill="#b2b2ba" opacity="0.97" filter="url(#b1)"/><path d="M399.5 374.6l11.2 10.4M408.7 383.8l8.3 4.9M397.0 372.1l5.7 3.3M372.8 355.7l10.1 10.4M393.2 373.3l12.8 8.4M409.2 387.5l0.7 0.7M372.6 354.8l2.0 1.4M382.7 361.0l7.1 6.7M383.1 368.9l3.5 3.1M407.7 380.1l11.6 6.8M386.2 372.8l3.9 2.3M381.5 361.8l10.4 8.3M412.7 381.6l7.9 4.7M366.6 362.5l6.9 5.8M382.4 358.1l4.9 3.0M373.9 354.1l1.6 1.6M399.6 380.0l7.2 5.5M411.2 386.3l2.2 1.9M378.5 364.3l9.9 10.2M393.3 377.0l5.9 4.6M366.7 360.0l6.4 5.8M402.8 376.8l10.1 7.3M378.0 366.5l9.1 8.3M393.9 381.9l1.3 1.1M381.8 371.6l10.4 9.3M392.3 368.4l11.8 7.6M407.4 376.9l4.5 4.0M400.3 376.9l9.7 8.2M388.0 373.1l10.2 6.8M367.5 357.9l0.2 0.2M375.5 353.5l2.4 1.9M398.2 370.2l12.3 8.3M376.4 364.2l11.9 7.4M400.0 370.1l6.6 6.7M401.8 382.4l7.4 5.4M375.9 360.6l6.0 6.1M427.3 385.8l0.3 0.2M388.0 361.1l6.9 7.1M378.0 367.2l9.7 6.1M411.1 380.2l9.0 5.2M379.0 356.0l5.2 5.4M404.5 373.0l4.0 3.6M380.3 369.6l6.6 5.1M365.1 361.3l2.6 2.0M387.9 370.0l8.7 7.7M387.1 365.0l4.6 4.4M392.4 370.4l6.3 4.9M369.1 365.6l4.0 2.4M400.0 377.8l4.0 3.9M388.7 361.3l7.6 6.3M396.2 372.4l8.8 6.0M377.2 364.4l4.6 4.1M369.1 356.9l1.9 1.6M367.2 358.3l0.7 0.7M376.2 354.8l5.0 5.1M376.4 362.5l6.3 5.2M399.9 370.8l6.5 5.8M376.1 353.4l2.5 2.5M370.7 356.4l7.0 5.1M377.6 361.1l6.3 4.0M373.0 366.6l13.0 7.7M403.3 372.6l12.2 9.4M376.5 353.6l1.5 1.0M385.1 362.1l5.9 4.5M409.4 377.0l5.8 3.7M407.1 385.8l2.5 2.1M378.2 353.6l3.8 2.8M379.0 366.5l3.8 2.6M387.2 370.2l6.6 4.0M391.5 370.3l9.3 6.8" stroke="#e8e8ec" stroke-width="0.6" opacity="0.6" fill="none"/><polyline points="376.0,356.5 388.0,362.0 398.0,370.0 410.0,378.0" stroke="#dadade" stroke-width="1.6" fill="none" opacity="0.7" filter="url(#b1)"/><polygon points="416.0,379.2 426.9,377.0 435.7,370.5 446.7,364.4 456.0,355.7 457.8,357.5 453.2,368.8 448.9,373.2 441.2,377.6 435.7,380.9 428.0,384.0 420.0,384.0" fill="#c2b8ba" opacity="0.9" filter="url(#b1)"/><polyline points="440.0,379.0 456.5,370.0" stroke="#a8a8a8" stroke-width="1.0" fill="none" opacity="0.8"/><polyline points="438.0,389.0 453.0,388.5" stroke="#a0aaa4" stroke-width="1.0" fill="none" opacity="0.8"/><polyline points="438.0,392.0 452.0,393.0" stroke="#a0aaa4" stroke-width="1.0" fill="none" opacity="0.8"/><polyline points="425.5,396.0 427.5,406.0" stroke="#a8a0a8" stroke-width="1.4" fill="none" opacity="0.9"/><polygon points="363.5,361.5 366.5,358.0 370.5,360.5 369.0,366.0 365.0,365.5" fill="#3a3a8a" opacity="0.9" filter="url(#b1)"/><polygon points="366.0,360.0 380.0,364.0 392.0,372.0 406.0,381.0 402.0,385.0 388.0,378.0 376.0,371.0 366.0,366.0" fill="#8c8cc4" opacity="0.75" filter="url(#b1)"/><polyline points="366.0,362.0 380.0,369.0 392.0,378.0 402.0,383.0" stroke="#6a6ab4" stroke-width="1.8" fill="none" opacity="0.8" filter="url(#b1)"/><polygon points="443.0,365.0 451.0,359.0 456.0,355.3 458.0,357.6 453.0,362.5 446.0,367.5" fill="#f07060" opacity="0.9" filter="url(#b1)"/><polygon points="418.0,381.0 427.0,378.0 429.0,384.0 421.0,387.0" fill="#e07878" opacity="0.8" filter="url(#b1)"/><polygon points="433.0,395.0 437.0,393.0 440.0,402.5 435.0,400.0" fill="#40a8a8" opacity="0.9" filter="url(#b1)"/><polygon points="392.0,398.0 398.0,387.0 405.0,384.5 400.0,392.0" fill="#c060b0" opacity="0.85" filter="url(#b1)"/><polygon points="436.0,370.0 442.0,366.0 443.0,369.0 438.0,372.0" fill="#303030" opacity="0.8" filter="url(#b1)"/></g><g transform="translate(0,80.00)"><polygon points="386.0,382.0 400.0,380.0 420.0,382.0 440.0,380.0 456.0,384.0 456.0,396.0 442.0,398.0 440.0,404.0 428.0,408.0 410.0,400.0 392.0,401.0 386.0,396.0" fill="#e2dde0" opacity="0.6" filter="url(#b2)"/><polygon points="400.0,376.0 416.0,379.0 426.9,377.0 435.7,370.5 446.7,364.4 456.0,355.7 457.5,357.5 453.2,368.8 448.9,373.2 441.2,377.6 437.0,381.0 444.0,384.0 454.0,388.0 454.0,393.0 441.0,392.0 437.0,394.0 440.0,402.5 432.0,398.0 428.0,406.5 424.0,397.0 414.0,395.0 404.0,390.0 394.0,398.5 392.0,396.0 398.0,386.0" fill="#bdbdbd" opacity="0.97" filter="url(#b1)"/><path d="M439.3 402.2l0.4 -0.3M445.2 369.4l1.8 -4.7M397.6 394.8l0.2 0.3M418.4 386.8l3.4 -3.5M439.2 377.7l4.2 12.5M439.0 385.4l5.5 -1.0M434.0 396.4l11.5 -10.2M407.3 391.6l3.8 -3.1M442.0 384.5l0.1 -1.0M429.1 396.7l2.4 2.1M437.0 370.9l2.9 14.8M437.9 369.6l6.7 -3.4M445.9 387.7l3.4 -1.1M397.8 390.2l1.3 3.9M441.8 370.6l4.9 3.1M430.9 397.1l3.8 -1.6M422.9 389.5l5.2 -7.9M414.8 394.2l16.9 -5.5M429.8 388.9l15.1 1.7M411.0 382.8l9.6 6.0M426.8 391.7l6.5 5.2M441.1 388.0l0.5 3.5M435.4 396.7l3.3 3.1M404.5 378.5l2.4 7.0M433.5 380.9l7.2 5.8M446.9 368.7l6.3 -4.4M400.6 385.2l4.8 5.3M436.4 377.7l6.7 -1.6M410.0 383.2l0.7 6.6M427.0 389.1l3.6 -5.6M425.1 384.5l11.7 8.0M406.8 390.7l0.4 0.7M400.5 391.1l2.8 -8.3M444.5 391.5l0.2 0.8M416.2 378.8l0.6 0.4M397.4 387.0l4.5 -1.9M453.3 358.7l1.3 1.3M421.0 386.3l7.4 9.5M407.3 390.9l0.6 -2.7M442.1 376.3l0.2 -4.5M420.6 381.0l0.8 -2.7M416.9 395.4l1.6 -0.3M449.1 387.5l4.1 1.9M393.0 395.0l1.2 -0.3M402.7 380.6l0.8 -3.3M403.7 377.9l0.8 -0.8M416.3 395.3l0.2 -0.5M429.3 376.9l9.8 -4.3M403.5 388.5l8.6 -7.9M423.4 396.0l0.2 -8.9M412.3 378.7l14.2 5.1M410.5 378.0l1.9 1.0M412.2 379.4l8.1 6.4M452.1 359.8l1.8 -0.3M426.3 401.9l3.7 -8.1M421.2 388.6l6.3 -8.2M440.1 368.3l0.8 1.4M414.8 390.4l5.4 -5.5M449.8 366.8l2.0 -4.3M440.4 385.6l0.1 -2.8M435.9 385.5l6.7 2.4M453.3 365.3l1.6 -8.0M419.8 382.0l4.7 13.3M439.8 370.0l3.2 -2.4M417.0 385.8l5.7 2.9M399.6 379.6l3.1 2.0M427.8 405.5l3.4 -7.0M423.3 379.6l2.2 6.7M433.6 374.8l3.5 4.4M449.0 368.6l2.6 1.1M454.0 360.9l1.2 1.4M398.1 386.6l1.2 2.3M414.2 385.5l5.8 4.9M438.4 375.2l1.2 2.7M399.0 381.3l0.2 0.8M427.6 405.2l0.9 -0.2M415.9 383.8l2.2 8.3M424.0 385.6l11.2 -9.0M407.2 378.0l3.1 3.3M435.8 397.8l3.4 -10.2M398.2 385.9l1.4 -1.4M393.8 396.4l3.3 -8.2M409.1 383.5l9.8 4.6M448.8 362.6l1.2 -0.3M433.4 392.8l3.0 2.6M443.3 390.5l9.1 -2.3M434.8 371.6l3.0 2.7M436.7 384.4l3.7 5.0M425.8 383.2l2.5 -6.4M432.7 374.3l3.9 1.9M431.0 381.4l8.0 7.7M437.7 373.9l5.0 1.6M420.4 394.3l1.5 -7.5M421.9 377.8l0.3 0.4M428.9 396.6l7.9 3.0M447.7 388.1l0.1 -2.1M410.6 393.1l2.1 -0.8M418.1 378.7l0.5 -0.2M415.3 390.1l13.2 9.2M434.7 389.8l4.0 9.3M433.7 385.2l3.0 7.8M434.7 397.6l3.9 -5.7M397.6 386.7l1.2 -0.5M401.5 378.0l0.5 -1.4M427.6 403.6l0.9 1.6M452.0 360.8l1.1 -2.2M439.7 372.0l12.3 -9.3M403.8 388.7l5.1 1.6M433.1 380.7l13.5 -8.5M440.6 369.9l4.9 3.0" stroke="#8a8a8a" stroke-width="0.25" opacity="0.5" fill="none"/><polygon points="364.0,361.0 368.0,357.5 374.4,353.2 380.2,353.6 388.8,360.3 398.5,369.0 410.0,376.6 418.0,379.5 426.0,377.5 430.0,385.0 420.0,389.0 408.0,388.0 400.4,383.8 391.7,382.6 387.0,379.7 379.2,372.0 368.0,366.5 364.5,364.5" fill="#b2b2ba" opacity="0.97" filter="url(#b1)"/><path d="M399.5 374.6l11.2 10.4M408.7 383.8l8.3 4.9M397.0 372.1l5.7 3.3M372.8 355.7l10.1 10.4M393.2 373.3l12.8 8.4M409.2 387.5l0.7 0.7M372.6 354.8l2.0 1.4M382.7 361.0l7.1 6.7M383.1 368.9l3.5 3.1M407.7 380.1l11.6 6.8M386.2 372.8l3.9 2.3M381.5 361.8l10.4 8.3M412.7 381.6l7.9 4.7M366.6 362.5l6.9 5.8M382.4 358.1l4.9 3.0M373.9 354.1l1.6 1.6M399.6 380.0l7.2 5.5M411.2 386.3l2.2 1.9M378.5 364.3l9.9 10.2M393.3 377.0l5.9 4.6M366.7 360.0l6.4 5.8M402.8 376.8l10.1 7.3M378.0 366.5l9.1 8.3M393.9 381.9l1.3 1.1M381.8 371.6l10.4 9.3M392.3 368.4l11.8 7.6M407.4 376.9l4.5 4.0M400.3 376.9l9.7 8.2M388.0 373.1l10.2 6.8M367.5 357.9l0.2 0.2M375.5 353.5l2.4 1.9M398.2 370.2l12.3 8.3M376.4 364.2l11.9 7.4M400.0 370.1l6.6 6.7M401.8 382.4l7.4 5.4M375.9 360.6l6.0 6.1M427.3 385.8l0.3 0.2M388.0 361.1l6.9 7.1M378.0 367.2l9.7 6.1M411.1 380.2l9.0 5.2M379.0 356.0l5.2 5.4M404.5 373.0l4.0 3.6M380.3 369.6l6.6 5.1M365.1 361.3l2.6 2.0M387.9 370.0l8.7 7.7M387.1 365.0l4.6 4.4M392.4 370.4l6.3 4.9M369.1 365.6l4.0 2.4M400.0 377.8l4.0 3.9M388.7 361.3l7.6 6.3M396.2 372.4l8.8 6.0M377.2 364.4l4.6 4.1M369.1 356.9l1.9 1.6M367.2 358.3l0.7 0.7M376.2 354.8l5.0 5.1M376.4 362.5l6.3 5.2M399.9 370.8l6.5 5.8M376.1 353.4l2.5 2.5M370.7 356.4l7.0 5.1M377.6 361.1l6.3 4.0M373.0 366.6l13.0 7.7M403.3 372.6l12.2 9.4M376.5 353.6l1.5 1.0M385.1 362.1l5.9 4.5M409.4 377.0l5.8 3.7M407.1 385.8l2.5 2.1M378.2 353.6l3.8 2.8M379.0 366.5l3.8 2.6M387.2 370.2l6.6 4.0M391.5 370.3l9.3 6.8" stroke="#e8e8ec" stroke-width="0.6" opacity="0.6" fill="none"/><polyline points="376.0,356.5 388.0,362.0 398.0,370.0 410.0,378.0" stroke="#dadade" stroke-width="1.6" fill="none" opacity="0.7" filter="url(#b1)"/><polygon points="416.0,379.2 426.9,377.0 435.7,370.5 446.7,364.4 456.0,355.7 457.8,357.5 453.2,368.8 448.9,373.2 441.2,377.6 435.7,380.9 428.0,384.0 420.0,384.0" fill="#c2b8ba" opacity="0.9" filter="url(#b1)"/><polyline points="440.0,379.0 456.5,370.0" stroke="#a8a8a8" stroke-width="1.0" fill="none" opacity="0.8"/><polyline points="438.0,389.0 453.0,388.5" stroke="#a0aaa4" stroke-width="1.0" fill="none" opacity="0.8"/><polyline points="438.0,392.0 452.0,393.0" stroke="#a0aaa4" stroke-width="1.0" fill="none" opacity="0.8"/><polyline points="425.5,396.0 427.5,406.0" stroke="#a8a0a8" stroke-width="1.4" fill="none" opacity="0.9"/><polyline points="372.0,354.2 380.2,354.4 388.8,361.0 398.0,369.0" stroke="#22228a" stroke-width="2.0" fill="none" opacity="0.95" filter="url(#b1)"/><polygon points="372.0,353.8 380.2,353.9 384.0,357.0 376.0,357.0" fill="#22228a" opacity="0.9" filter="url(#b1)"/><polyline points="366.0,362.0 380.0,369.0 392.0,378.0 402.0,383.0" stroke="#9090c0" stroke-width="1.6" fill="none" opacity="0.7" filter="url(#b1)"/><polygon points="442.0,368.0 450.0,361.0 453.0,363.0 446.0,372.0 440.0,374.0" fill="#ee2020" opacity="0.95" filter="url(#b1)"/><polygon points="432.0,376.0 440.0,372.0 441.0,375.0 434.0,379.0" fill="#20a0a0" opacity="0.85" filter="url(#b1)"/><polygon points="444.0,375.0 452.0,370.0 453.0,372.0 446.0,377.0" fill="#303020" opacity="0.7" filter="url(#b1)"/><polygon points="433.0,395.0 437.0,393.0 440.0,402.5 435.0,400.0" fill="#28a8a8" opacity="0.95" filter="url(#b1)"/><polygon points="396.0,396.0 402.0,388.0 412.0,387.0 406.0,395.0" fill="#d048b0" opacity="0.85" filter="url(#b1)"/><polygon points="418.0,381.0 427.0,378.0 429.0,384.0 421.0,387.0" fill="#d8a0a8" opacity="0.7" filter="url(#b1)"/></g><text x="413.30" y="366.90" font-size="6.78" text-anchor="middle" textLength="8.9" lengthAdjust="spacingAndGlyphs">0 h</text><text x="413.80" y="406.60" font-size="6.78" text-anchor="middle" textLength="12.46" lengthAdjust="spacingAndGlyphs">12 h</text><text x="413.30" y="449.40" font-size="6.78" text-anchor="middle" textLength="12.46" lengthAdjust="spacingAndGlyphs">72 h</text><text x="367.30" y="500.60" font-size="7.0" fill="#2a2a2a" textLength="87.9" lengthAdjust="spacingAndGlyphs">+ Self-limited <tspan font-style="italic">E. coli</tspan> peritonitis</text>
<rect x="0.5" y="0.5" width="519" height="669" fill="none" stroke="#606060" stroke-width="1.1"/>
</svg>
</body></html>
